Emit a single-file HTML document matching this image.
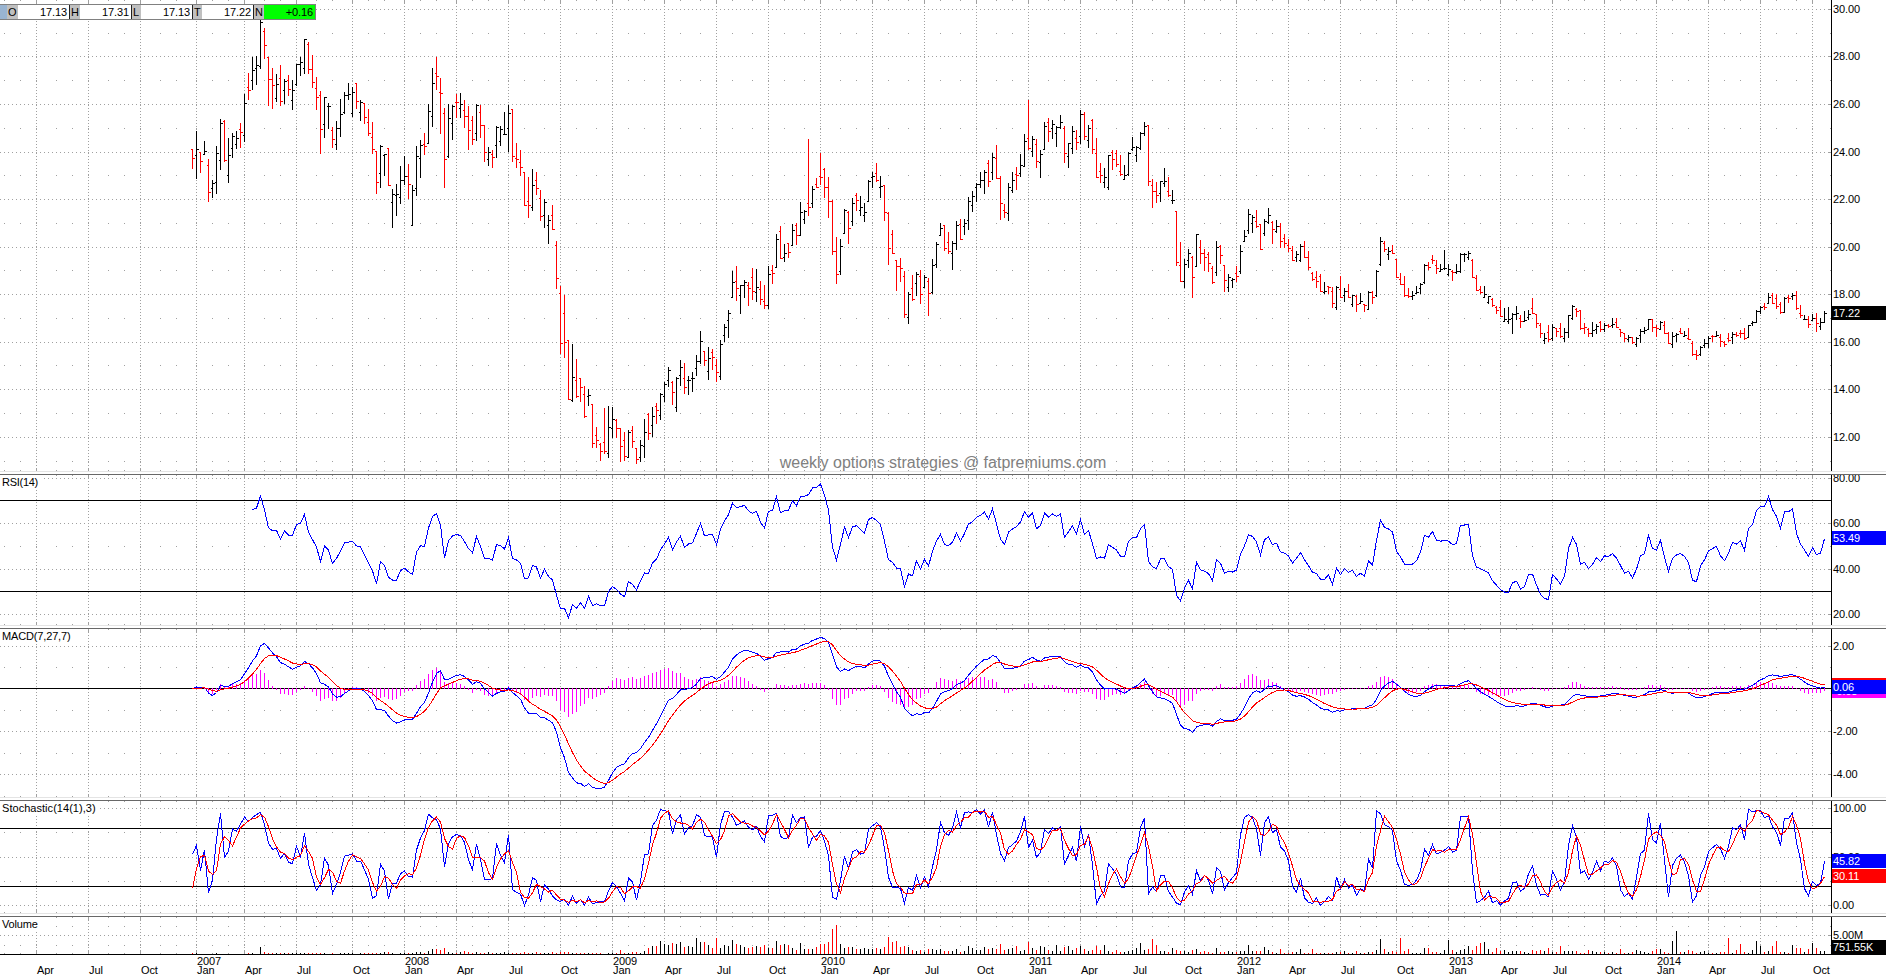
<!DOCTYPE html><html><head><meta charset="utf-8"><title>chart</title><style>
html,body{margin:0;padding:0;background:#fff;}
body{width:1886px;height:975px;overflow:hidden;position:relative;font-family:"Liberation Sans",sans-serif;font-size:11px;color:#000;}
svg{position:absolute;left:0;top:0;}
.t{position:absolute;white-space:nowrap;line-height:13px;height:13px;letter-spacing:-0.1px;}
.w{color:#fff;}
.box{position:absolute;left:1832px;width:54px;height:14px;}
.ttl{position:absolute;left:0;background:#fff;height:14px;line-height:14px;padding-left:2px;padding-right:3px;white-space:nowrap;}
.clip{position:absolute;left:1832px;width:54px;overflow:hidden;}

</style></head><body>
<svg width="1886" height="975" viewBox="0 0 1886 975" shape-rendering="crispEdges">
<line x1="36.5" y1="0" x2="36.5" y2="471" stroke="#a0a0a0" stroke-dasharray="1 2"/>
<path fill="#a0a0a0" d="M36 0h1v3h-1zM36 468h1v3h-1z"/>
<line x1="88.5" y1="0" x2="88.5" y2="471" stroke="#a0a0a0" stroke-dasharray="1 2"/>
<path fill="#a0a0a0" d="M88 0h1v3h-1zM88 468h1v3h-1z"/>
<line x1="140.5" y1="0" x2="140.5" y2="471" stroke="#a0a0a0" stroke-dasharray="1 2"/>
<path fill="#a0a0a0" d="M140 0h1v3h-1zM140 468h1v3h-1z"/>
<line x1="196.5" y1="0" x2="196.5" y2="471" stroke="#a0a0a0" stroke-dasharray="1 2"/>
<path fill="#a0a0a0" d="M196 0h1v3h-1zM196 468h1v3h-1z"/>
<line x1="244.5" y1="0" x2="244.5" y2="471" stroke="#a0a0a0" stroke-dasharray="1 2"/>
<path fill="#a0a0a0" d="M244 0h1v3h-1zM244 468h1v3h-1z"/>
<line x1="296.5" y1="0" x2="296.5" y2="471" stroke="#a0a0a0" stroke-dasharray="1 2"/>
<path fill="#a0a0a0" d="M296 0h1v3h-1zM296 468h1v3h-1z"/>
<line x1="352.5" y1="0" x2="352.5" y2="471" stroke="#a0a0a0" stroke-dasharray="1 2"/>
<path fill="#a0a0a0" d="M352 0h1v3h-1zM352 468h1v3h-1z"/>
<line x1="404.5" y1="0" x2="404.5" y2="471" stroke="#a0a0a0" stroke-dasharray="1 2"/>
<path fill="#a0a0a0" d="M404 0h1v3h-1zM404 468h1v3h-1z"/>
<line x1="456.5" y1="0" x2="456.5" y2="471" stroke="#a0a0a0" stroke-dasharray="1 2"/>
<path fill="#a0a0a0" d="M456 0h1v3h-1zM456 468h1v3h-1z"/>
<line x1="508.5" y1="0" x2="508.5" y2="471" stroke="#a0a0a0" stroke-dasharray="1 2"/>
<path fill="#a0a0a0" d="M508 0h1v3h-1zM508 468h1v3h-1z"/>
<line x1="560.5" y1="0" x2="560.5" y2="471" stroke="#a0a0a0" stroke-dasharray="1 2"/>
<path fill="#a0a0a0" d="M560 0h1v3h-1zM560 468h1v3h-1z"/>
<line x1="612.5" y1="0" x2="612.5" y2="471" stroke="#a0a0a0" stroke-dasharray="1 2"/>
<path fill="#a0a0a0" d="M612 0h1v3h-1zM612 468h1v3h-1z"/>
<line x1="664.5" y1="0" x2="664.5" y2="471" stroke="#a0a0a0" stroke-dasharray="1 2"/>
<path fill="#a0a0a0" d="M664 0h1v3h-1zM664 468h1v3h-1z"/>
<line x1="716.5" y1="0" x2="716.5" y2="471" stroke="#a0a0a0" stroke-dasharray="1 2"/>
<path fill="#a0a0a0" d="M716 0h1v3h-1zM716 468h1v3h-1z"/>
<line x1="768.5" y1="0" x2="768.5" y2="471" stroke="#a0a0a0" stroke-dasharray="1 2"/>
<path fill="#a0a0a0" d="M768 0h1v3h-1zM768 468h1v3h-1z"/>
<line x1="820.5" y1="0" x2="820.5" y2="471" stroke="#a0a0a0" stroke-dasharray="1 2"/>
<path fill="#a0a0a0" d="M820 0h1v3h-1zM820 468h1v3h-1z"/>
<line x1="872.5" y1="0" x2="872.5" y2="471" stroke="#a0a0a0" stroke-dasharray="1 2"/>
<path fill="#a0a0a0" d="M872 0h1v3h-1zM872 468h1v3h-1z"/>
<line x1="924.5" y1="0" x2="924.5" y2="471" stroke="#a0a0a0" stroke-dasharray="1 2"/>
<path fill="#a0a0a0" d="M924 0h1v3h-1zM924 468h1v3h-1z"/>
<line x1="976.5" y1="0" x2="976.5" y2="471" stroke="#a0a0a0" stroke-dasharray="1 2"/>
<path fill="#a0a0a0" d="M976 0h1v3h-1zM976 468h1v3h-1z"/>
<line x1="1028.5" y1="0" x2="1028.5" y2="471" stroke="#a0a0a0" stroke-dasharray="1 2"/>
<path fill="#a0a0a0" d="M1028 0h1v3h-1zM1028 468h1v3h-1z"/>
<line x1="1080.5" y1="0" x2="1080.5" y2="471" stroke="#a0a0a0" stroke-dasharray="1 2"/>
<path fill="#a0a0a0" d="M1080 0h1v3h-1zM1080 468h1v3h-1z"/>
<line x1="1132.5" y1="0" x2="1132.5" y2="471" stroke="#a0a0a0" stroke-dasharray="1 2"/>
<path fill="#a0a0a0" d="M1132 0h1v3h-1zM1132 468h1v3h-1z"/>
<line x1="1184.5" y1="0" x2="1184.5" y2="471" stroke="#a0a0a0" stroke-dasharray="1 2"/>
<path fill="#a0a0a0" d="M1184 0h1v3h-1zM1184 468h1v3h-1z"/>
<line x1="1236.5" y1="0" x2="1236.5" y2="471" stroke="#a0a0a0" stroke-dasharray="1 2"/>
<path fill="#a0a0a0" d="M1236 0h1v3h-1zM1236 468h1v3h-1z"/>
<line x1="1288.5" y1="0" x2="1288.5" y2="471" stroke="#a0a0a0" stroke-dasharray="1 2"/>
<path fill="#a0a0a0" d="M1288 0h1v3h-1zM1288 468h1v3h-1z"/>
<line x1="1340.5" y1="0" x2="1340.5" y2="471" stroke="#a0a0a0" stroke-dasharray="1 2"/>
<path fill="#a0a0a0" d="M1340 0h1v3h-1zM1340 468h1v3h-1z"/>
<line x1="1396.5" y1="0" x2="1396.5" y2="471" stroke="#a0a0a0" stroke-dasharray="1 2"/>
<path fill="#a0a0a0" d="M1396 0h1v3h-1zM1396 468h1v3h-1z"/>
<line x1="1448.5" y1="0" x2="1448.5" y2="471" stroke="#a0a0a0" stroke-dasharray="1 2"/>
<path fill="#a0a0a0" d="M1448 0h1v3h-1zM1448 468h1v3h-1z"/>
<line x1="1500.5" y1="0" x2="1500.5" y2="471" stroke="#a0a0a0" stroke-dasharray="1 2"/>
<path fill="#a0a0a0" d="M1500 0h1v3h-1zM1500 468h1v3h-1z"/>
<line x1="1552.5" y1="0" x2="1552.5" y2="471" stroke="#a0a0a0" stroke-dasharray="1 2"/>
<path fill="#a0a0a0" d="M1552 0h1v3h-1zM1552 468h1v3h-1z"/>
<line x1="1604.5" y1="0" x2="1604.5" y2="471" stroke="#a0a0a0" stroke-dasharray="1 2"/>
<path fill="#a0a0a0" d="M1604 0h1v3h-1zM1604 468h1v3h-1z"/>
<line x1="1656.5" y1="0" x2="1656.5" y2="471" stroke="#a0a0a0" stroke-dasharray="1 2"/>
<path fill="#a0a0a0" d="M1656 0h1v3h-1zM1656 468h1v3h-1z"/>
<line x1="1708.5" y1="0" x2="1708.5" y2="471" stroke="#a0a0a0" stroke-dasharray="1 2"/>
<path fill="#a0a0a0" d="M1708 0h1v3h-1zM1708 468h1v3h-1z"/>
<line x1="1760.5" y1="0" x2="1760.5" y2="471" stroke="#a0a0a0" stroke-dasharray="1 2"/>
<path fill="#a0a0a0" d="M1760 0h1v3h-1zM1760 468h1v3h-1z"/>
<line x1="1812.5" y1="0" x2="1812.5" y2="471" stroke="#a0a0a0" stroke-dasharray="1 2"/>
<path fill="#a0a0a0" d="M1812 0h1v3h-1zM1812 468h1v3h-1zM4 0h1v1h-1zM4 470h1v1h-1zM20 0h1v1h-1zM20 470h1v1h-1zM56 0h1v1h-1zM56 470h1v1h-1zM72 0h1v1h-1zM72 470h1v1h-1zM108 0h1v1h-1zM108 470h1v1h-1zM124 0h1v1h-1zM124 470h1v1h-1zM160 0h1v1h-1zM160 470h1v1h-1zM176 0h1v1h-1zM176 470h1v1h-1zM212 0h1v1h-1zM212 470h1v1h-1zM228 0h1v1h-1zM228 470h1v1h-1zM264 0h1v1h-1zM264 470h1v1h-1zM280 0h1v1h-1zM280 470h1v1h-1zM316 0h1v1h-1zM316 470h1v1h-1zM332 0h1v1h-1zM332 470h1v1h-1zM368 0h1v1h-1zM368 470h1v1h-1zM384 0h1v1h-1zM384 470h1v1h-1zM420 0h1v1h-1zM420 470h1v1h-1zM436 0h1v1h-1zM436 470h1v1h-1zM472 0h1v1h-1zM472 470h1v1h-1zM488 0h1v1h-1zM488 470h1v1h-1zM524 0h1v1h-1zM524 470h1v1h-1zM544 0h1v1h-1zM544 470h1v1h-1zM576 0h1v1h-1zM576 470h1v1h-1zM596 0h1v1h-1zM596 470h1v1h-1zM628 0h1v1h-1zM628 470h1v1h-1zM644 0h1v1h-1zM644 470h1v1h-1zM680 0h1v1h-1zM680 470h1v1h-1zM700 0h1v1h-1zM700 470h1v1h-1zM732 0h1v1h-1zM732 470h1v1h-1zM752 0h1v1h-1zM752 470h1v1h-1zM784 0h1v1h-1zM784 470h1v1h-1zM804 0h1v1h-1zM804 470h1v1h-1zM840 0h1v1h-1zM840 470h1v1h-1zM856 0h1v1h-1zM856 470h1v1h-1zM888 0h1v1h-1zM888 470h1v1h-1zM908 0h1v1h-1zM908 470h1v1h-1zM940 0h1v1h-1zM940 470h1v1h-1zM960 0h1v1h-1zM960 470h1v1h-1zM996 0h1v1h-1zM996 470h1v1h-1zM1012 0h1v1h-1zM1012 470h1v1h-1zM1048 0h1v1h-1zM1048 470h1v1h-1zM1064 0h1v1h-1zM1064 470h1v1h-1zM1096 0h1v1h-1zM1096 470h1v1h-1zM1116 0h1v1h-1zM1116 470h1v1h-1zM1152 0h1v1h-1zM1152 470h1v1h-1zM1168 0h1v1h-1zM1168 470h1v1h-1zM1204 0h1v1h-1zM1204 470h1v1h-1zM1220 0h1v1h-1zM1220 470h1v1h-1zM1256 0h1v1h-1zM1256 470h1v1h-1zM1272 0h1v1h-1zM1272 470h1v1h-1zM1308 0h1v1h-1zM1308 470h1v1h-1zM1324 0h1v1h-1zM1324 470h1v1h-1zM1360 0h1v1h-1zM1360 470h1v1h-1zM1376 0h1v1h-1zM1376 470h1v1h-1zM1412 0h1v1h-1zM1412 470h1v1h-1zM1428 0h1v1h-1zM1428 470h1v1h-1zM1464 0h1v1h-1zM1464 470h1v1h-1zM1480 0h1v1h-1zM1480 470h1v1h-1zM1516 0h1v1h-1zM1516 470h1v1h-1zM1532 0h1v1h-1zM1532 470h1v1h-1zM1568 0h1v1h-1zM1568 470h1v1h-1zM1584 0h1v1h-1zM1584 470h1v1h-1zM1620 0h1v1h-1zM1620 470h1v1h-1zM1636 0h1v1h-1zM1636 470h1v1h-1zM1672 0h1v1h-1zM1672 470h1v1h-1zM1688 0h1v1h-1zM1688 470h1v1h-1zM1724 0h1v1h-1zM1724 470h1v1h-1zM1740 0h1v1h-1zM1740 470h1v1h-1zM1776 0h1v1h-1zM1776 470h1v1h-1zM1796 0h1v1h-1zM1796 470h1v1h-1z"/>
<line x1="36.5" y1="475" x2="36.5" y2="625" stroke="#a0a0a0" stroke-dasharray="1 2"/>
<path fill="#a0a0a0" d="M36 475h1v3h-1zM36 622h1v3h-1z"/>
<line x1="88.5" y1="475" x2="88.5" y2="625" stroke="#a0a0a0" stroke-dasharray="1 2"/>
<path fill="#a0a0a0" d="M88 475h1v3h-1zM88 622h1v3h-1z"/>
<line x1="140.5" y1="475" x2="140.5" y2="625" stroke="#a0a0a0" stroke-dasharray="1 2"/>
<path fill="#a0a0a0" d="M140 475h1v3h-1zM140 622h1v3h-1z"/>
<line x1="196.5" y1="475" x2="196.5" y2="625" stroke="#a0a0a0" stroke-dasharray="1 2"/>
<path fill="#a0a0a0" d="M196 475h1v3h-1zM196 622h1v3h-1z"/>
<line x1="244.5" y1="475" x2="244.5" y2="625" stroke="#a0a0a0" stroke-dasharray="1 2"/>
<path fill="#a0a0a0" d="M244 475h1v3h-1zM244 622h1v3h-1z"/>
<line x1="296.5" y1="475" x2="296.5" y2="625" stroke="#a0a0a0" stroke-dasharray="1 2"/>
<path fill="#a0a0a0" d="M296 475h1v3h-1zM296 622h1v3h-1z"/>
<line x1="352.5" y1="475" x2="352.5" y2="625" stroke="#a0a0a0" stroke-dasharray="1 2"/>
<path fill="#a0a0a0" d="M352 475h1v3h-1zM352 622h1v3h-1z"/>
<line x1="404.5" y1="475" x2="404.5" y2="625" stroke="#a0a0a0" stroke-dasharray="1 2"/>
<path fill="#a0a0a0" d="M404 475h1v3h-1zM404 622h1v3h-1z"/>
<line x1="456.5" y1="475" x2="456.5" y2="625" stroke="#a0a0a0" stroke-dasharray="1 2"/>
<path fill="#a0a0a0" d="M456 475h1v3h-1zM456 622h1v3h-1z"/>
<line x1="508.5" y1="475" x2="508.5" y2="625" stroke="#a0a0a0" stroke-dasharray="1 2"/>
<path fill="#a0a0a0" d="M508 475h1v3h-1zM508 622h1v3h-1z"/>
<line x1="560.5" y1="475" x2="560.5" y2="625" stroke="#a0a0a0" stroke-dasharray="1 2"/>
<path fill="#a0a0a0" d="M560 475h1v3h-1zM560 622h1v3h-1z"/>
<line x1="612.5" y1="475" x2="612.5" y2="625" stroke="#a0a0a0" stroke-dasharray="1 2"/>
<path fill="#a0a0a0" d="M612 475h1v3h-1zM612 622h1v3h-1z"/>
<line x1="664.5" y1="475" x2="664.5" y2="625" stroke="#a0a0a0" stroke-dasharray="1 2"/>
<path fill="#a0a0a0" d="M664 475h1v3h-1zM664 622h1v3h-1z"/>
<line x1="716.5" y1="475" x2="716.5" y2="625" stroke="#a0a0a0" stroke-dasharray="1 2"/>
<path fill="#a0a0a0" d="M716 475h1v3h-1zM716 622h1v3h-1z"/>
<line x1="768.5" y1="475" x2="768.5" y2="625" stroke="#a0a0a0" stroke-dasharray="1 2"/>
<path fill="#a0a0a0" d="M768 475h1v3h-1zM768 622h1v3h-1z"/>
<line x1="820.5" y1="475" x2="820.5" y2="625" stroke="#a0a0a0" stroke-dasharray="1 2"/>
<path fill="#a0a0a0" d="M820 475h1v3h-1zM820 622h1v3h-1z"/>
<line x1="872.5" y1="475" x2="872.5" y2="625" stroke="#a0a0a0" stroke-dasharray="1 2"/>
<path fill="#a0a0a0" d="M872 475h1v3h-1zM872 622h1v3h-1z"/>
<line x1="924.5" y1="475" x2="924.5" y2="625" stroke="#a0a0a0" stroke-dasharray="1 2"/>
<path fill="#a0a0a0" d="M924 475h1v3h-1zM924 622h1v3h-1z"/>
<line x1="976.5" y1="475" x2="976.5" y2="625" stroke="#a0a0a0" stroke-dasharray="1 2"/>
<path fill="#a0a0a0" d="M976 475h1v3h-1zM976 622h1v3h-1z"/>
<line x1="1028.5" y1="475" x2="1028.5" y2="625" stroke="#a0a0a0" stroke-dasharray="1 2"/>
<path fill="#a0a0a0" d="M1028 475h1v3h-1zM1028 622h1v3h-1z"/>
<line x1="1080.5" y1="475" x2="1080.5" y2="625" stroke="#a0a0a0" stroke-dasharray="1 2"/>
<path fill="#a0a0a0" d="M1080 475h1v3h-1zM1080 622h1v3h-1z"/>
<line x1="1132.5" y1="475" x2="1132.5" y2="625" stroke="#a0a0a0" stroke-dasharray="1 2"/>
<path fill="#a0a0a0" d="M1132 475h1v3h-1zM1132 622h1v3h-1z"/>
<line x1="1184.5" y1="475" x2="1184.5" y2="625" stroke="#a0a0a0" stroke-dasharray="1 2"/>
<path fill="#a0a0a0" d="M1184 475h1v3h-1zM1184 622h1v3h-1z"/>
<line x1="1236.5" y1="475" x2="1236.5" y2="625" stroke="#a0a0a0" stroke-dasharray="1 2"/>
<path fill="#a0a0a0" d="M1236 475h1v3h-1zM1236 622h1v3h-1z"/>
<line x1="1288.5" y1="475" x2="1288.5" y2="625" stroke="#a0a0a0" stroke-dasharray="1 2"/>
<path fill="#a0a0a0" d="M1288 475h1v3h-1zM1288 622h1v3h-1z"/>
<line x1="1340.5" y1="475" x2="1340.5" y2="625" stroke="#a0a0a0" stroke-dasharray="1 2"/>
<path fill="#a0a0a0" d="M1340 475h1v3h-1zM1340 622h1v3h-1z"/>
<line x1="1396.5" y1="475" x2="1396.5" y2="625" stroke="#a0a0a0" stroke-dasharray="1 2"/>
<path fill="#a0a0a0" d="M1396 475h1v3h-1zM1396 622h1v3h-1z"/>
<line x1="1448.5" y1="475" x2="1448.5" y2="625" stroke="#a0a0a0" stroke-dasharray="1 2"/>
<path fill="#a0a0a0" d="M1448 475h1v3h-1zM1448 622h1v3h-1z"/>
<line x1="1500.5" y1="475" x2="1500.5" y2="625" stroke="#a0a0a0" stroke-dasharray="1 2"/>
<path fill="#a0a0a0" d="M1500 475h1v3h-1zM1500 622h1v3h-1z"/>
<line x1="1552.5" y1="475" x2="1552.5" y2="625" stroke="#a0a0a0" stroke-dasharray="1 2"/>
<path fill="#a0a0a0" d="M1552 475h1v3h-1zM1552 622h1v3h-1z"/>
<line x1="1604.5" y1="475" x2="1604.5" y2="625" stroke="#a0a0a0" stroke-dasharray="1 2"/>
<path fill="#a0a0a0" d="M1604 475h1v3h-1zM1604 622h1v3h-1z"/>
<line x1="1656.5" y1="475" x2="1656.5" y2="625" stroke="#a0a0a0" stroke-dasharray="1 2"/>
<path fill="#a0a0a0" d="M1656 475h1v3h-1zM1656 622h1v3h-1z"/>
<line x1="1708.5" y1="475" x2="1708.5" y2="625" stroke="#a0a0a0" stroke-dasharray="1 2"/>
<path fill="#a0a0a0" d="M1708 475h1v3h-1zM1708 622h1v3h-1z"/>
<line x1="1760.5" y1="475" x2="1760.5" y2="625" stroke="#a0a0a0" stroke-dasharray="1 2"/>
<path fill="#a0a0a0" d="M1760 475h1v3h-1zM1760 622h1v3h-1z"/>
<line x1="1812.5" y1="475" x2="1812.5" y2="625" stroke="#a0a0a0" stroke-dasharray="1 2"/>
<path fill="#a0a0a0" d="M1812 475h1v3h-1zM1812 622h1v3h-1zM4 475h1v1h-1zM4 624h1v1h-1zM20 475h1v1h-1zM20 624h1v1h-1zM56 475h1v1h-1zM56 624h1v1h-1zM72 475h1v1h-1zM72 624h1v1h-1zM108 475h1v1h-1zM108 624h1v1h-1zM124 475h1v1h-1zM124 624h1v1h-1zM160 475h1v1h-1zM160 624h1v1h-1zM176 475h1v1h-1zM176 624h1v1h-1zM212 475h1v1h-1zM212 624h1v1h-1zM228 475h1v1h-1zM228 624h1v1h-1zM264 475h1v1h-1zM264 624h1v1h-1zM280 475h1v1h-1zM280 624h1v1h-1zM316 475h1v1h-1zM316 624h1v1h-1zM332 475h1v1h-1zM332 624h1v1h-1zM368 475h1v1h-1zM368 624h1v1h-1zM384 475h1v1h-1zM384 624h1v1h-1zM420 475h1v1h-1zM420 624h1v1h-1zM436 475h1v1h-1zM436 624h1v1h-1zM472 475h1v1h-1zM472 624h1v1h-1zM488 475h1v1h-1zM488 624h1v1h-1zM524 475h1v1h-1zM524 624h1v1h-1zM544 475h1v1h-1zM544 624h1v1h-1zM576 475h1v1h-1zM576 624h1v1h-1zM596 475h1v1h-1zM596 624h1v1h-1zM628 475h1v1h-1zM628 624h1v1h-1zM644 475h1v1h-1zM644 624h1v1h-1zM680 475h1v1h-1zM680 624h1v1h-1zM700 475h1v1h-1zM700 624h1v1h-1zM732 475h1v1h-1zM732 624h1v1h-1zM752 475h1v1h-1zM752 624h1v1h-1zM784 475h1v1h-1zM784 624h1v1h-1zM804 475h1v1h-1zM804 624h1v1h-1zM840 475h1v1h-1zM840 624h1v1h-1zM856 475h1v1h-1zM856 624h1v1h-1zM888 475h1v1h-1zM888 624h1v1h-1zM908 475h1v1h-1zM908 624h1v1h-1zM940 475h1v1h-1zM940 624h1v1h-1zM960 475h1v1h-1zM960 624h1v1h-1zM996 475h1v1h-1zM996 624h1v1h-1zM1012 475h1v1h-1zM1012 624h1v1h-1zM1048 475h1v1h-1zM1048 624h1v1h-1zM1064 475h1v1h-1zM1064 624h1v1h-1zM1096 475h1v1h-1zM1096 624h1v1h-1zM1116 475h1v1h-1zM1116 624h1v1h-1zM1152 475h1v1h-1zM1152 624h1v1h-1zM1168 475h1v1h-1zM1168 624h1v1h-1zM1204 475h1v1h-1zM1204 624h1v1h-1zM1220 475h1v1h-1zM1220 624h1v1h-1zM1256 475h1v1h-1zM1256 624h1v1h-1zM1272 475h1v1h-1zM1272 624h1v1h-1zM1308 475h1v1h-1zM1308 624h1v1h-1zM1324 475h1v1h-1zM1324 624h1v1h-1zM1360 475h1v1h-1zM1360 624h1v1h-1zM1376 475h1v1h-1zM1376 624h1v1h-1zM1412 475h1v1h-1zM1412 624h1v1h-1zM1428 475h1v1h-1zM1428 624h1v1h-1zM1464 475h1v1h-1zM1464 624h1v1h-1zM1480 475h1v1h-1zM1480 624h1v1h-1zM1516 475h1v1h-1zM1516 624h1v1h-1zM1532 475h1v1h-1zM1532 624h1v1h-1zM1568 475h1v1h-1zM1568 624h1v1h-1zM1584 475h1v1h-1zM1584 624h1v1h-1zM1620 475h1v1h-1zM1620 624h1v1h-1zM1636 475h1v1h-1zM1636 624h1v1h-1zM1672 475h1v1h-1zM1672 624h1v1h-1zM1688 475h1v1h-1zM1688 624h1v1h-1zM1724 475h1v1h-1zM1724 624h1v1h-1zM1740 475h1v1h-1zM1740 624h1v1h-1zM1776 475h1v1h-1zM1776 624h1v1h-1zM1796 475h1v1h-1zM1796 624h1v1h-1z"/>
<line x1="36.5" y1="629" x2="36.5" y2="797" stroke="#a0a0a0" stroke-dasharray="1 2"/>
<path fill="#a0a0a0" d="M36 629h1v3h-1zM36 794h1v3h-1z"/>
<line x1="88.5" y1="629" x2="88.5" y2="797" stroke="#a0a0a0" stroke-dasharray="1 2"/>
<path fill="#a0a0a0" d="M88 629h1v3h-1zM88 794h1v3h-1z"/>
<line x1="140.5" y1="629" x2="140.5" y2="797" stroke="#a0a0a0" stroke-dasharray="1 2"/>
<path fill="#a0a0a0" d="M140 629h1v3h-1zM140 794h1v3h-1z"/>
<line x1="196.5" y1="629" x2="196.5" y2="797" stroke="#a0a0a0" stroke-dasharray="1 2"/>
<path fill="#a0a0a0" d="M196 629h1v3h-1zM196 794h1v3h-1z"/>
<line x1="244.5" y1="629" x2="244.5" y2="797" stroke="#a0a0a0" stroke-dasharray="1 2"/>
<path fill="#a0a0a0" d="M244 629h1v3h-1zM244 794h1v3h-1z"/>
<line x1="296.5" y1="629" x2="296.5" y2="797" stroke="#a0a0a0" stroke-dasharray="1 2"/>
<path fill="#a0a0a0" d="M296 629h1v3h-1zM296 794h1v3h-1z"/>
<line x1="352.5" y1="629" x2="352.5" y2="797" stroke="#a0a0a0" stroke-dasharray="1 2"/>
<path fill="#a0a0a0" d="M352 629h1v3h-1zM352 794h1v3h-1z"/>
<line x1="404.5" y1="629" x2="404.5" y2="797" stroke="#a0a0a0" stroke-dasharray="1 2"/>
<path fill="#a0a0a0" d="M404 629h1v3h-1zM404 794h1v3h-1z"/>
<line x1="456.5" y1="629" x2="456.5" y2="797" stroke="#a0a0a0" stroke-dasharray="1 2"/>
<path fill="#a0a0a0" d="M456 629h1v3h-1zM456 794h1v3h-1z"/>
<line x1="508.5" y1="629" x2="508.5" y2="797" stroke="#a0a0a0" stroke-dasharray="1 2"/>
<path fill="#a0a0a0" d="M508 629h1v3h-1zM508 794h1v3h-1z"/>
<line x1="560.5" y1="629" x2="560.5" y2="797" stroke="#a0a0a0" stroke-dasharray="1 2"/>
<path fill="#a0a0a0" d="M560 629h1v3h-1zM560 794h1v3h-1z"/>
<line x1="612.5" y1="629" x2="612.5" y2="797" stroke="#a0a0a0" stroke-dasharray="1 2"/>
<path fill="#a0a0a0" d="M612 629h1v3h-1zM612 794h1v3h-1z"/>
<line x1="664.5" y1="629" x2="664.5" y2="797" stroke="#a0a0a0" stroke-dasharray="1 2"/>
<path fill="#a0a0a0" d="M664 629h1v3h-1zM664 794h1v3h-1z"/>
<line x1="716.5" y1="629" x2="716.5" y2="797" stroke="#a0a0a0" stroke-dasharray="1 2"/>
<path fill="#a0a0a0" d="M716 629h1v3h-1zM716 794h1v3h-1z"/>
<line x1="768.5" y1="629" x2="768.5" y2="797" stroke="#a0a0a0" stroke-dasharray="1 2"/>
<path fill="#a0a0a0" d="M768 629h1v3h-1zM768 794h1v3h-1z"/>
<line x1="820.5" y1="629" x2="820.5" y2="797" stroke="#a0a0a0" stroke-dasharray="1 2"/>
<path fill="#a0a0a0" d="M820 629h1v3h-1zM820 794h1v3h-1z"/>
<line x1="872.5" y1="629" x2="872.5" y2="797" stroke="#a0a0a0" stroke-dasharray="1 2"/>
<path fill="#a0a0a0" d="M872 629h1v3h-1zM872 794h1v3h-1z"/>
<line x1="924.5" y1="629" x2="924.5" y2="797" stroke="#a0a0a0" stroke-dasharray="1 2"/>
<path fill="#a0a0a0" d="M924 629h1v3h-1zM924 794h1v3h-1z"/>
<line x1="976.5" y1="629" x2="976.5" y2="797" stroke="#a0a0a0" stroke-dasharray="1 2"/>
<path fill="#a0a0a0" d="M976 629h1v3h-1zM976 794h1v3h-1z"/>
<line x1="1028.5" y1="629" x2="1028.5" y2="797" stroke="#a0a0a0" stroke-dasharray="1 2"/>
<path fill="#a0a0a0" d="M1028 629h1v3h-1zM1028 794h1v3h-1z"/>
<line x1="1080.5" y1="629" x2="1080.5" y2="797" stroke="#a0a0a0" stroke-dasharray="1 2"/>
<path fill="#a0a0a0" d="M1080 629h1v3h-1zM1080 794h1v3h-1z"/>
<line x1="1132.5" y1="629" x2="1132.5" y2="797" stroke="#a0a0a0" stroke-dasharray="1 2"/>
<path fill="#a0a0a0" d="M1132 629h1v3h-1zM1132 794h1v3h-1z"/>
<line x1="1184.5" y1="629" x2="1184.5" y2="797" stroke="#a0a0a0" stroke-dasharray="1 2"/>
<path fill="#a0a0a0" d="M1184 629h1v3h-1zM1184 794h1v3h-1z"/>
<line x1="1236.5" y1="629" x2="1236.5" y2="797" stroke="#a0a0a0" stroke-dasharray="1 2"/>
<path fill="#a0a0a0" d="M1236 629h1v3h-1zM1236 794h1v3h-1z"/>
<line x1="1288.5" y1="629" x2="1288.5" y2="797" stroke="#a0a0a0" stroke-dasharray="1 2"/>
<path fill="#a0a0a0" d="M1288 629h1v3h-1zM1288 794h1v3h-1z"/>
<line x1="1340.5" y1="629" x2="1340.5" y2="797" stroke="#a0a0a0" stroke-dasharray="1 2"/>
<path fill="#a0a0a0" d="M1340 629h1v3h-1zM1340 794h1v3h-1z"/>
<line x1="1396.5" y1="629" x2="1396.5" y2="797" stroke="#a0a0a0" stroke-dasharray="1 2"/>
<path fill="#a0a0a0" d="M1396 629h1v3h-1zM1396 794h1v3h-1z"/>
<line x1="1448.5" y1="629" x2="1448.5" y2="797" stroke="#a0a0a0" stroke-dasharray="1 2"/>
<path fill="#a0a0a0" d="M1448 629h1v3h-1zM1448 794h1v3h-1z"/>
<line x1="1500.5" y1="629" x2="1500.5" y2="797" stroke="#a0a0a0" stroke-dasharray="1 2"/>
<path fill="#a0a0a0" d="M1500 629h1v3h-1zM1500 794h1v3h-1z"/>
<line x1="1552.5" y1="629" x2="1552.5" y2="797" stroke="#a0a0a0" stroke-dasharray="1 2"/>
<path fill="#a0a0a0" d="M1552 629h1v3h-1zM1552 794h1v3h-1z"/>
<line x1="1604.5" y1="629" x2="1604.5" y2="797" stroke="#a0a0a0" stroke-dasharray="1 2"/>
<path fill="#a0a0a0" d="M1604 629h1v3h-1zM1604 794h1v3h-1z"/>
<line x1="1656.5" y1="629" x2="1656.5" y2="797" stroke="#a0a0a0" stroke-dasharray="1 2"/>
<path fill="#a0a0a0" d="M1656 629h1v3h-1zM1656 794h1v3h-1z"/>
<line x1="1708.5" y1="629" x2="1708.5" y2="797" stroke="#a0a0a0" stroke-dasharray="1 2"/>
<path fill="#a0a0a0" d="M1708 629h1v3h-1zM1708 794h1v3h-1z"/>
<line x1="1760.5" y1="629" x2="1760.5" y2="797" stroke="#a0a0a0" stroke-dasharray="1 2"/>
<path fill="#a0a0a0" d="M1760 629h1v3h-1zM1760 794h1v3h-1z"/>
<line x1="1812.5" y1="629" x2="1812.5" y2="797" stroke="#a0a0a0" stroke-dasharray="1 2"/>
<path fill="#a0a0a0" d="M1812 629h1v3h-1zM1812 794h1v3h-1zM4 629h1v1h-1zM4 796h1v1h-1zM20 629h1v1h-1zM20 796h1v1h-1zM56 629h1v1h-1zM56 796h1v1h-1zM72 629h1v1h-1zM72 796h1v1h-1zM108 629h1v1h-1zM108 796h1v1h-1zM124 629h1v1h-1zM124 796h1v1h-1zM160 629h1v1h-1zM160 796h1v1h-1zM176 629h1v1h-1zM176 796h1v1h-1zM212 629h1v1h-1zM212 796h1v1h-1zM228 629h1v1h-1zM228 796h1v1h-1zM264 629h1v1h-1zM264 796h1v1h-1zM280 629h1v1h-1zM280 796h1v1h-1zM316 629h1v1h-1zM316 796h1v1h-1zM332 629h1v1h-1zM332 796h1v1h-1zM368 629h1v1h-1zM368 796h1v1h-1zM384 629h1v1h-1zM384 796h1v1h-1zM420 629h1v1h-1zM420 796h1v1h-1zM436 629h1v1h-1zM436 796h1v1h-1zM472 629h1v1h-1zM472 796h1v1h-1zM488 629h1v1h-1zM488 796h1v1h-1zM524 629h1v1h-1zM524 796h1v1h-1zM544 629h1v1h-1zM544 796h1v1h-1zM576 629h1v1h-1zM576 796h1v1h-1zM596 629h1v1h-1zM596 796h1v1h-1zM628 629h1v1h-1zM628 796h1v1h-1zM644 629h1v1h-1zM644 796h1v1h-1zM680 629h1v1h-1zM680 796h1v1h-1zM700 629h1v1h-1zM700 796h1v1h-1zM732 629h1v1h-1zM732 796h1v1h-1zM752 629h1v1h-1zM752 796h1v1h-1zM784 629h1v1h-1zM784 796h1v1h-1zM804 629h1v1h-1zM804 796h1v1h-1zM840 629h1v1h-1zM840 796h1v1h-1zM856 629h1v1h-1zM856 796h1v1h-1zM888 629h1v1h-1zM888 796h1v1h-1zM908 629h1v1h-1zM908 796h1v1h-1zM940 629h1v1h-1zM940 796h1v1h-1zM960 629h1v1h-1zM960 796h1v1h-1zM996 629h1v1h-1zM996 796h1v1h-1zM1012 629h1v1h-1zM1012 796h1v1h-1zM1048 629h1v1h-1zM1048 796h1v1h-1zM1064 629h1v1h-1zM1064 796h1v1h-1zM1096 629h1v1h-1zM1096 796h1v1h-1zM1116 629h1v1h-1zM1116 796h1v1h-1zM1152 629h1v1h-1zM1152 796h1v1h-1zM1168 629h1v1h-1zM1168 796h1v1h-1zM1204 629h1v1h-1zM1204 796h1v1h-1zM1220 629h1v1h-1zM1220 796h1v1h-1zM1256 629h1v1h-1zM1256 796h1v1h-1zM1272 629h1v1h-1zM1272 796h1v1h-1zM1308 629h1v1h-1zM1308 796h1v1h-1zM1324 629h1v1h-1zM1324 796h1v1h-1zM1360 629h1v1h-1zM1360 796h1v1h-1zM1376 629h1v1h-1zM1376 796h1v1h-1zM1412 629h1v1h-1zM1412 796h1v1h-1zM1428 629h1v1h-1zM1428 796h1v1h-1zM1464 629h1v1h-1zM1464 796h1v1h-1zM1480 629h1v1h-1zM1480 796h1v1h-1zM1516 629h1v1h-1zM1516 796h1v1h-1zM1532 629h1v1h-1zM1532 796h1v1h-1zM1568 629h1v1h-1zM1568 796h1v1h-1zM1584 629h1v1h-1zM1584 796h1v1h-1zM1620 629h1v1h-1zM1620 796h1v1h-1zM1636 629h1v1h-1zM1636 796h1v1h-1zM1672 629h1v1h-1zM1672 796h1v1h-1zM1688 629h1v1h-1zM1688 796h1v1h-1zM1724 629h1v1h-1zM1724 796h1v1h-1zM1740 629h1v1h-1zM1740 796h1v1h-1zM1776 629h1v1h-1zM1776 796h1v1h-1zM1796 629h1v1h-1zM1796 796h1v1h-1z"/>
<line x1="36.5" y1="801" x2="36.5" y2="913" stroke="#a0a0a0" stroke-dasharray="1 2"/>
<path fill="#a0a0a0" d="M36 801h1v3h-1zM36 910h1v3h-1z"/>
<line x1="88.5" y1="801" x2="88.5" y2="913" stroke="#a0a0a0" stroke-dasharray="1 2"/>
<path fill="#a0a0a0" d="M88 801h1v3h-1zM88 910h1v3h-1z"/>
<line x1="140.5" y1="801" x2="140.5" y2="913" stroke="#a0a0a0" stroke-dasharray="1 2"/>
<path fill="#a0a0a0" d="M140 801h1v3h-1zM140 910h1v3h-1z"/>
<line x1="196.5" y1="801" x2="196.5" y2="913" stroke="#a0a0a0" stroke-dasharray="1 2"/>
<path fill="#a0a0a0" d="M196 801h1v3h-1zM196 910h1v3h-1z"/>
<line x1="244.5" y1="801" x2="244.5" y2="913" stroke="#a0a0a0" stroke-dasharray="1 2"/>
<path fill="#a0a0a0" d="M244 801h1v3h-1zM244 910h1v3h-1z"/>
<line x1="296.5" y1="801" x2="296.5" y2="913" stroke="#a0a0a0" stroke-dasharray="1 2"/>
<path fill="#a0a0a0" d="M296 801h1v3h-1zM296 910h1v3h-1z"/>
<line x1="352.5" y1="801" x2="352.5" y2="913" stroke="#a0a0a0" stroke-dasharray="1 2"/>
<path fill="#a0a0a0" d="M352 801h1v3h-1zM352 910h1v3h-1z"/>
<line x1="404.5" y1="801" x2="404.5" y2="913" stroke="#a0a0a0" stroke-dasharray="1 2"/>
<path fill="#a0a0a0" d="M404 801h1v3h-1zM404 910h1v3h-1z"/>
<line x1="456.5" y1="801" x2="456.5" y2="913" stroke="#a0a0a0" stroke-dasharray="1 2"/>
<path fill="#a0a0a0" d="M456 801h1v3h-1zM456 910h1v3h-1z"/>
<line x1="508.5" y1="801" x2="508.5" y2="913" stroke="#a0a0a0" stroke-dasharray="1 2"/>
<path fill="#a0a0a0" d="M508 801h1v3h-1zM508 910h1v3h-1z"/>
<line x1="560.5" y1="801" x2="560.5" y2="913" stroke="#a0a0a0" stroke-dasharray="1 2"/>
<path fill="#a0a0a0" d="M560 801h1v3h-1zM560 910h1v3h-1z"/>
<line x1="612.5" y1="801" x2="612.5" y2="913" stroke="#a0a0a0" stroke-dasharray="1 2"/>
<path fill="#a0a0a0" d="M612 801h1v3h-1zM612 910h1v3h-1z"/>
<line x1="664.5" y1="801" x2="664.5" y2="913" stroke="#a0a0a0" stroke-dasharray="1 2"/>
<path fill="#a0a0a0" d="M664 801h1v3h-1zM664 910h1v3h-1z"/>
<line x1="716.5" y1="801" x2="716.5" y2="913" stroke="#a0a0a0" stroke-dasharray="1 2"/>
<path fill="#a0a0a0" d="M716 801h1v3h-1zM716 910h1v3h-1z"/>
<line x1="768.5" y1="801" x2="768.5" y2="913" stroke="#a0a0a0" stroke-dasharray="1 2"/>
<path fill="#a0a0a0" d="M768 801h1v3h-1zM768 910h1v3h-1z"/>
<line x1="820.5" y1="801" x2="820.5" y2="913" stroke="#a0a0a0" stroke-dasharray="1 2"/>
<path fill="#a0a0a0" d="M820 801h1v3h-1zM820 910h1v3h-1z"/>
<line x1="872.5" y1="801" x2="872.5" y2="913" stroke="#a0a0a0" stroke-dasharray="1 2"/>
<path fill="#a0a0a0" d="M872 801h1v3h-1zM872 910h1v3h-1z"/>
<line x1="924.5" y1="801" x2="924.5" y2="913" stroke="#a0a0a0" stroke-dasharray="1 2"/>
<path fill="#a0a0a0" d="M924 801h1v3h-1zM924 910h1v3h-1z"/>
<line x1="976.5" y1="801" x2="976.5" y2="913" stroke="#a0a0a0" stroke-dasharray="1 2"/>
<path fill="#a0a0a0" d="M976 801h1v3h-1zM976 910h1v3h-1z"/>
<line x1="1028.5" y1="801" x2="1028.5" y2="913" stroke="#a0a0a0" stroke-dasharray="1 2"/>
<path fill="#a0a0a0" d="M1028 801h1v3h-1zM1028 910h1v3h-1z"/>
<line x1="1080.5" y1="801" x2="1080.5" y2="913" stroke="#a0a0a0" stroke-dasharray="1 2"/>
<path fill="#a0a0a0" d="M1080 801h1v3h-1zM1080 910h1v3h-1z"/>
<line x1="1132.5" y1="801" x2="1132.5" y2="913" stroke="#a0a0a0" stroke-dasharray="1 2"/>
<path fill="#a0a0a0" d="M1132 801h1v3h-1zM1132 910h1v3h-1z"/>
<line x1="1184.5" y1="801" x2="1184.5" y2="913" stroke="#a0a0a0" stroke-dasharray="1 2"/>
<path fill="#a0a0a0" d="M1184 801h1v3h-1zM1184 910h1v3h-1z"/>
<line x1="1236.5" y1="801" x2="1236.5" y2="913" stroke="#a0a0a0" stroke-dasharray="1 2"/>
<path fill="#a0a0a0" d="M1236 801h1v3h-1zM1236 910h1v3h-1z"/>
<line x1="1288.5" y1="801" x2="1288.5" y2="913" stroke="#a0a0a0" stroke-dasharray="1 2"/>
<path fill="#a0a0a0" d="M1288 801h1v3h-1zM1288 910h1v3h-1z"/>
<line x1="1340.5" y1="801" x2="1340.5" y2="913" stroke="#a0a0a0" stroke-dasharray="1 2"/>
<path fill="#a0a0a0" d="M1340 801h1v3h-1zM1340 910h1v3h-1z"/>
<line x1="1396.5" y1="801" x2="1396.5" y2="913" stroke="#a0a0a0" stroke-dasharray="1 2"/>
<path fill="#a0a0a0" d="M1396 801h1v3h-1zM1396 910h1v3h-1z"/>
<line x1="1448.5" y1="801" x2="1448.5" y2="913" stroke="#a0a0a0" stroke-dasharray="1 2"/>
<path fill="#a0a0a0" d="M1448 801h1v3h-1zM1448 910h1v3h-1z"/>
<line x1="1500.5" y1="801" x2="1500.5" y2="913" stroke="#a0a0a0" stroke-dasharray="1 2"/>
<path fill="#a0a0a0" d="M1500 801h1v3h-1zM1500 910h1v3h-1z"/>
<line x1="1552.5" y1="801" x2="1552.5" y2="913" stroke="#a0a0a0" stroke-dasharray="1 2"/>
<path fill="#a0a0a0" d="M1552 801h1v3h-1zM1552 910h1v3h-1z"/>
<line x1="1604.5" y1="801" x2="1604.5" y2="913" stroke="#a0a0a0" stroke-dasharray="1 2"/>
<path fill="#a0a0a0" d="M1604 801h1v3h-1zM1604 910h1v3h-1z"/>
<line x1="1656.5" y1="801" x2="1656.5" y2="913" stroke="#a0a0a0" stroke-dasharray="1 2"/>
<path fill="#a0a0a0" d="M1656 801h1v3h-1zM1656 910h1v3h-1z"/>
<line x1="1708.5" y1="801" x2="1708.5" y2="913" stroke="#a0a0a0" stroke-dasharray="1 2"/>
<path fill="#a0a0a0" d="M1708 801h1v3h-1zM1708 910h1v3h-1z"/>
<line x1="1760.5" y1="801" x2="1760.5" y2="913" stroke="#a0a0a0" stroke-dasharray="1 2"/>
<path fill="#a0a0a0" d="M1760 801h1v3h-1zM1760 910h1v3h-1z"/>
<line x1="1812.5" y1="801" x2="1812.5" y2="913" stroke="#a0a0a0" stroke-dasharray="1 2"/>
<path fill="#a0a0a0" d="M1812 801h1v3h-1zM1812 910h1v3h-1zM4 801h1v1h-1zM4 912h1v1h-1zM20 801h1v1h-1zM20 912h1v1h-1zM56 801h1v1h-1zM56 912h1v1h-1zM72 801h1v1h-1zM72 912h1v1h-1zM108 801h1v1h-1zM108 912h1v1h-1zM124 801h1v1h-1zM124 912h1v1h-1zM160 801h1v1h-1zM160 912h1v1h-1zM176 801h1v1h-1zM176 912h1v1h-1zM212 801h1v1h-1zM212 912h1v1h-1zM228 801h1v1h-1zM228 912h1v1h-1zM264 801h1v1h-1zM264 912h1v1h-1zM280 801h1v1h-1zM280 912h1v1h-1zM316 801h1v1h-1zM316 912h1v1h-1zM332 801h1v1h-1zM332 912h1v1h-1zM368 801h1v1h-1zM368 912h1v1h-1zM384 801h1v1h-1zM384 912h1v1h-1zM420 801h1v1h-1zM420 912h1v1h-1zM436 801h1v1h-1zM436 912h1v1h-1zM472 801h1v1h-1zM472 912h1v1h-1zM488 801h1v1h-1zM488 912h1v1h-1zM524 801h1v1h-1zM524 912h1v1h-1zM544 801h1v1h-1zM544 912h1v1h-1zM576 801h1v1h-1zM576 912h1v1h-1zM596 801h1v1h-1zM596 912h1v1h-1zM628 801h1v1h-1zM628 912h1v1h-1zM644 801h1v1h-1zM644 912h1v1h-1zM680 801h1v1h-1zM680 912h1v1h-1zM700 801h1v1h-1zM700 912h1v1h-1zM732 801h1v1h-1zM732 912h1v1h-1zM752 801h1v1h-1zM752 912h1v1h-1zM784 801h1v1h-1zM784 912h1v1h-1zM804 801h1v1h-1zM804 912h1v1h-1zM840 801h1v1h-1zM840 912h1v1h-1zM856 801h1v1h-1zM856 912h1v1h-1zM888 801h1v1h-1zM888 912h1v1h-1zM908 801h1v1h-1zM908 912h1v1h-1zM940 801h1v1h-1zM940 912h1v1h-1zM960 801h1v1h-1zM960 912h1v1h-1zM996 801h1v1h-1zM996 912h1v1h-1zM1012 801h1v1h-1zM1012 912h1v1h-1zM1048 801h1v1h-1zM1048 912h1v1h-1zM1064 801h1v1h-1zM1064 912h1v1h-1zM1096 801h1v1h-1zM1096 912h1v1h-1zM1116 801h1v1h-1zM1116 912h1v1h-1zM1152 801h1v1h-1zM1152 912h1v1h-1zM1168 801h1v1h-1zM1168 912h1v1h-1zM1204 801h1v1h-1zM1204 912h1v1h-1zM1220 801h1v1h-1zM1220 912h1v1h-1zM1256 801h1v1h-1zM1256 912h1v1h-1zM1272 801h1v1h-1zM1272 912h1v1h-1zM1308 801h1v1h-1zM1308 912h1v1h-1zM1324 801h1v1h-1zM1324 912h1v1h-1zM1360 801h1v1h-1zM1360 912h1v1h-1zM1376 801h1v1h-1zM1376 912h1v1h-1zM1412 801h1v1h-1zM1412 912h1v1h-1zM1428 801h1v1h-1zM1428 912h1v1h-1zM1464 801h1v1h-1zM1464 912h1v1h-1zM1480 801h1v1h-1zM1480 912h1v1h-1zM1516 801h1v1h-1zM1516 912h1v1h-1zM1532 801h1v1h-1zM1532 912h1v1h-1zM1568 801h1v1h-1zM1568 912h1v1h-1zM1584 801h1v1h-1zM1584 912h1v1h-1zM1620 801h1v1h-1zM1620 912h1v1h-1zM1636 801h1v1h-1zM1636 912h1v1h-1zM1672 801h1v1h-1zM1672 912h1v1h-1zM1688 801h1v1h-1zM1688 912h1v1h-1zM1724 801h1v1h-1zM1724 912h1v1h-1zM1740 801h1v1h-1zM1740 912h1v1h-1zM1776 801h1v1h-1zM1776 912h1v1h-1zM1796 801h1v1h-1zM1796 912h1v1h-1z"/>
<line x1="36.5" y1="917" x2="36.5" y2="954" stroke="#a0a0a0" stroke-dasharray="1 2"/>
<path fill="#a0a0a0" d="M36 917h1v3h-1zM36 951h1v3h-1z"/>
<line x1="88.5" y1="917" x2="88.5" y2="954" stroke="#a0a0a0" stroke-dasharray="1 2"/>
<path fill="#a0a0a0" d="M88 917h1v3h-1zM88 951h1v3h-1z"/>
<line x1="140.5" y1="917" x2="140.5" y2="954" stroke="#a0a0a0" stroke-dasharray="1 2"/>
<path fill="#a0a0a0" d="M140 917h1v3h-1zM140 951h1v3h-1z"/>
<line x1="196.5" y1="917" x2="196.5" y2="954" stroke="#a0a0a0" stroke-dasharray="1 2"/>
<path fill="#a0a0a0" d="M196 917h1v3h-1zM196 951h1v3h-1z"/>
<line x1="244.5" y1="917" x2="244.5" y2="954" stroke="#a0a0a0" stroke-dasharray="1 2"/>
<path fill="#a0a0a0" d="M244 917h1v3h-1zM244 951h1v3h-1z"/>
<line x1="296.5" y1="917" x2="296.5" y2="954" stroke="#a0a0a0" stroke-dasharray="1 2"/>
<path fill="#a0a0a0" d="M296 917h1v3h-1zM296 951h1v3h-1z"/>
<line x1="352.5" y1="917" x2="352.5" y2="954" stroke="#a0a0a0" stroke-dasharray="1 2"/>
<path fill="#a0a0a0" d="M352 917h1v3h-1zM352 951h1v3h-1z"/>
<line x1="404.5" y1="917" x2="404.5" y2="954" stroke="#a0a0a0" stroke-dasharray="1 2"/>
<path fill="#a0a0a0" d="M404 917h1v3h-1zM404 951h1v3h-1z"/>
<line x1="456.5" y1="917" x2="456.5" y2="954" stroke="#a0a0a0" stroke-dasharray="1 2"/>
<path fill="#a0a0a0" d="M456 917h1v3h-1zM456 951h1v3h-1z"/>
<line x1="508.5" y1="917" x2="508.5" y2="954" stroke="#a0a0a0" stroke-dasharray="1 2"/>
<path fill="#a0a0a0" d="M508 917h1v3h-1zM508 951h1v3h-1z"/>
<line x1="560.5" y1="917" x2="560.5" y2="954" stroke="#a0a0a0" stroke-dasharray="1 2"/>
<path fill="#a0a0a0" d="M560 917h1v3h-1zM560 951h1v3h-1z"/>
<line x1="612.5" y1="917" x2="612.5" y2="954" stroke="#a0a0a0" stroke-dasharray="1 2"/>
<path fill="#a0a0a0" d="M612 917h1v3h-1zM612 951h1v3h-1z"/>
<line x1="664.5" y1="917" x2="664.5" y2="954" stroke="#a0a0a0" stroke-dasharray="1 2"/>
<path fill="#a0a0a0" d="M664 917h1v3h-1zM664 951h1v3h-1z"/>
<line x1="716.5" y1="917" x2="716.5" y2="954" stroke="#a0a0a0" stroke-dasharray="1 2"/>
<path fill="#a0a0a0" d="M716 917h1v3h-1zM716 951h1v3h-1z"/>
<line x1="768.5" y1="917" x2="768.5" y2="954" stroke="#a0a0a0" stroke-dasharray="1 2"/>
<path fill="#a0a0a0" d="M768 917h1v3h-1zM768 951h1v3h-1z"/>
<line x1="820.5" y1="917" x2="820.5" y2="954" stroke="#a0a0a0" stroke-dasharray="1 2"/>
<path fill="#a0a0a0" d="M820 917h1v3h-1zM820 951h1v3h-1z"/>
<line x1="872.5" y1="917" x2="872.5" y2="954" stroke="#a0a0a0" stroke-dasharray="1 2"/>
<path fill="#a0a0a0" d="M872 917h1v3h-1zM872 951h1v3h-1z"/>
<line x1="924.5" y1="917" x2="924.5" y2="954" stroke="#a0a0a0" stroke-dasharray="1 2"/>
<path fill="#a0a0a0" d="M924 917h1v3h-1zM924 951h1v3h-1z"/>
<line x1="976.5" y1="917" x2="976.5" y2="954" stroke="#a0a0a0" stroke-dasharray="1 2"/>
<path fill="#a0a0a0" d="M976 917h1v3h-1zM976 951h1v3h-1z"/>
<line x1="1028.5" y1="917" x2="1028.5" y2="954" stroke="#a0a0a0" stroke-dasharray="1 2"/>
<path fill="#a0a0a0" d="M1028 917h1v3h-1zM1028 951h1v3h-1z"/>
<line x1="1080.5" y1="917" x2="1080.5" y2="954" stroke="#a0a0a0" stroke-dasharray="1 2"/>
<path fill="#a0a0a0" d="M1080 917h1v3h-1zM1080 951h1v3h-1z"/>
<line x1="1132.5" y1="917" x2="1132.5" y2="954" stroke="#a0a0a0" stroke-dasharray="1 2"/>
<path fill="#a0a0a0" d="M1132 917h1v3h-1zM1132 951h1v3h-1z"/>
<line x1="1184.5" y1="917" x2="1184.5" y2="954" stroke="#a0a0a0" stroke-dasharray="1 2"/>
<path fill="#a0a0a0" d="M1184 917h1v3h-1zM1184 951h1v3h-1z"/>
<line x1="1236.5" y1="917" x2="1236.5" y2="954" stroke="#a0a0a0" stroke-dasharray="1 2"/>
<path fill="#a0a0a0" d="M1236 917h1v3h-1zM1236 951h1v3h-1z"/>
<line x1="1288.5" y1="917" x2="1288.5" y2="954" stroke="#a0a0a0" stroke-dasharray="1 2"/>
<path fill="#a0a0a0" d="M1288 917h1v3h-1zM1288 951h1v3h-1z"/>
<line x1="1340.5" y1="917" x2="1340.5" y2="954" stroke="#a0a0a0" stroke-dasharray="1 2"/>
<path fill="#a0a0a0" d="M1340 917h1v3h-1zM1340 951h1v3h-1z"/>
<line x1="1396.5" y1="917" x2="1396.5" y2="954" stroke="#a0a0a0" stroke-dasharray="1 2"/>
<path fill="#a0a0a0" d="M1396 917h1v3h-1zM1396 951h1v3h-1z"/>
<line x1="1448.5" y1="917" x2="1448.5" y2="954" stroke="#a0a0a0" stroke-dasharray="1 2"/>
<path fill="#a0a0a0" d="M1448 917h1v3h-1zM1448 951h1v3h-1z"/>
<line x1="1500.5" y1="917" x2="1500.5" y2="954" stroke="#a0a0a0" stroke-dasharray="1 2"/>
<path fill="#a0a0a0" d="M1500 917h1v3h-1zM1500 951h1v3h-1z"/>
<line x1="1552.5" y1="917" x2="1552.5" y2="954" stroke="#a0a0a0" stroke-dasharray="1 2"/>
<path fill="#a0a0a0" d="M1552 917h1v3h-1zM1552 951h1v3h-1z"/>
<line x1="1604.5" y1="917" x2="1604.5" y2="954" stroke="#a0a0a0" stroke-dasharray="1 2"/>
<path fill="#a0a0a0" d="M1604 917h1v3h-1zM1604 951h1v3h-1z"/>
<line x1="1656.5" y1="917" x2="1656.5" y2="954" stroke="#a0a0a0" stroke-dasharray="1 2"/>
<path fill="#a0a0a0" d="M1656 917h1v3h-1zM1656 951h1v3h-1z"/>
<line x1="1708.5" y1="917" x2="1708.5" y2="954" stroke="#a0a0a0" stroke-dasharray="1 2"/>
<path fill="#a0a0a0" d="M1708 917h1v3h-1zM1708 951h1v3h-1z"/>
<line x1="1760.5" y1="917" x2="1760.5" y2="954" stroke="#a0a0a0" stroke-dasharray="1 2"/>
<path fill="#a0a0a0" d="M1760 917h1v3h-1zM1760 951h1v3h-1z"/>
<line x1="1812.5" y1="917" x2="1812.5" y2="954" stroke="#a0a0a0" stroke-dasharray="1 2"/>
<path fill="#a0a0a0" d="M1812 917h1v3h-1zM1812 951h1v3h-1zM4 917h1v1h-1zM4 953h1v1h-1zM20 917h1v1h-1zM20 953h1v1h-1zM56 917h1v1h-1zM56 953h1v1h-1zM72 917h1v1h-1zM72 953h1v1h-1zM108 917h1v1h-1zM108 953h1v1h-1zM124 917h1v1h-1zM124 953h1v1h-1zM160 917h1v1h-1zM160 953h1v1h-1zM176 917h1v1h-1zM176 953h1v1h-1zM212 917h1v1h-1zM212 953h1v1h-1zM228 917h1v1h-1zM228 953h1v1h-1zM264 917h1v1h-1zM264 953h1v1h-1zM280 917h1v1h-1zM280 953h1v1h-1zM316 917h1v1h-1zM316 953h1v1h-1zM332 917h1v1h-1zM332 953h1v1h-1zM368 917h1v1h-1zM368 953h1v1h-1zM384 917h1v1h-1zM384 953h1v1h-1zM420 917h1v1h-1zM420 953h1v1h-1zM436 917h1v1h-1zM436 953h1v1h-1zM472 917h1v1h-1zM472 953h1v1h-1zM488 917h1v1h-1zM488 953h1v1h-1zM524 917h1v1h-1zM524 953h1v1h-1zM544 917h1v1h-1zM544 953h1v1h-1zM576 917h1v1h-1zM576 953h1v1h-1zM596 917h1v1h-1zM596 953h1v1h-1zM628 917h1v1h-1zM628 953h1v1h-1zM644 917h1v1h-1zM644 953h1v1h-1zM680 917h1v1h-1zM680 953h1v1h-1zM700 917h1v1h-1zM700 953h1v1h-1zM732 917h1v1h-1zM732 953h1v1h-1zM752 917h1v1h-1zM752 953h1v1h-1zM784 917h1v1h-1zM784 953h1v1h-1zM804 917h1v1h-1zM804 953h1v1h-1zM840 917h1v1h-1zM840 953h1v1h-1zM856 917h1v1h-1zM856 953h1v1h-1zM888 917h1v1h-1zM888 953h1v1h-1zM908 917h1v1h-1zM908 953h1v1h-1zM940 917h1v1h-1zM940 953h1v1h-1zM960 917h1v1h-1zM960 953h1v1h-1zM996 917h1v1h-1zM996 953h1v1h-1zM1012 917h1v1h-1zM1012 953h1v1h-1zM1048 917h1v1h-1zM1048 953h1v1h-1zM1064 917h1v1h-1zM1064 953h1v1h-1zM1096 917h1v1h-1zM1096 953h1v1h-1zM1116 917h1v1h-1zM1116 953h1v1h-1zM1152 917h1v1h-1zM1152 953h1v1h-1zM1168 917h1v1h-1zM1168 953h1v1h-1zM1204 917h1v1h-1zM1204 953h1v1h-1zM1220 917h1v1h-1zM1220 953h1v1h-1zM1256 917h1v1h-1zM1256 953h1v1h-1zM1272 917h1v1h-1zM1272 953h1v1h-1zM1308 917h1v1h-1zM1308 953h1v1h-1zM1324 917h1v1h-1zM1324 953h1v1h-1zM1360 917h1v1h-1zM1360 953h1v1h-1zM1376 917h1v1h-1zM1376 953h1v1h-1zM1412 917h1v1h-1zM1412 953h1v1h-1zM1428 917h1v1h-1zM1428 953h1v1h-1zM1464 917h1v1h-1zM1464 953h1v1h-1zM1480 917h1v1h-1zM1480 953h1v1h-1zM1516 917h1v1h-1zM1516 953h1v1h-1zM1532 917h1v1h-1zM1532 953h1v1h-1zM1568 917h1v1h-1zM1568 953h1v1h-1zM1584 917h1v1h-1zM1584 953h1v1h-1zM1620 917h1v1h-1zM1620 953h1v1h-1zM1636 917h1v1h-1zM1636 953h1v1h-1zM1672 917h1v1h-1zM1672 953h1v1h-1zM1688 917h1v1h-1zM1688 953h1v1h-1zM1724 917h1v1h-1zM1724 953h1v1h-1zM1740 917h1v1h-1zM1740 953h1v1h-1zM1776 917h1v1h-1zM1776 953h1v1h-1zM1796 917h1v1h-1zM1796 953h1v1h-1z"/>
<line x1="0" y1="437.5" x2="1828" y2="437.5" stroke="#a0a0a0" stroke-dasharray="1 3"/>
<path fill="#a0a0a0" d="M1828 437h3v1h-3z"/>
<line x1="0" y1="389.5" x2="1828" y2="389.5" stroke="#a0a0a0" stroke-dasharray="1 3"/>
<path fill="#a0a0a0" d="M1828 389h3v1h-3z"/>
<line x1="0" y1="342.5" x2="1828" y2="342.5" stroke="#a0a0a0" stroke-dasharray="1 3"/>
<path fill="#a0a0a0" d="M1828 342h3v1h-3z"/>
<line x1="0" y1="294.5" x2="1828" y2="294.5" stroke="#a0a0a0" stroke-dasharray="1 3"/>
<path fill="#a0a0a0" d="M1828 294h3v1h-3z"/>
<line x1="0" y1="247.5" x2="1828" y2="247.5" stroke="#a0a0a0" stroke-dasharray="1 3"/>
<path fill="#a0a0a0" d="M1828 247h3v1h-3z"/>
<line x1="0" y1="199.5" x2="1828" y2="199.5" stroke="#a0a0a0" stroke-dasharray="1 3"/>
<path fill="#a0a0a0" d="M1828 199h3v1h-3z"/>
<line x1="0" y1="152.5" x2="1828" y2="152.5" stroke="#a0a0a0" stroke-dasharray="1 3"/>
<path fill="#a0a0a0" d="M1828 152h3v1h-3z"/>
<line x1="0" y1="104.5" x2="1828" y2="104.5" stroke="#a0a0a0" stroke-dasharray="1 3"/>
<path fill="#a0a0a0" d="M1828 104h3v1h-3z"/>
<line x1="0" y1="56.5" x2="1828" y2="56.5" stroke="#a0a0a0" stroke-dasharray="1 3"/>
<path fill="#a0a0a0" d="M1828 56h3v1h-3z"/>
<line x1="0" y1="9.5" x2="1828" y2="9.5" stroke="#a0a0a0" stroke-dasharray="1 3"/>
<path fill="#a0a0a0" d="M1828 9h3v1h-3zM4 461h1v1h-1zM20 461h1v1h-1zM56 461h1v1h-1zM72 461h1v1h-1zM108 461h1v1h-1zM124 461h1v1h-1zM160 461h1v1h-1zM176 461h1v1h-1zM212 461h1v1h-1zM228 461h1v1h-1zM264 461h1v1h-1zM280 461h1v1h-1zM316 461h1v1h-1zM332 461h1v1h-1zM368 461h1v1h-1zM384 461h1v1h-1zM420 461h1v1h-1zM436 461h1v1h-1zM472 461h1v1h-1zM488 461h1v1h-1zM524 461h1v1h-1zM544 461h1v1h-1zM576 461h1v1h-1zM596 461h1v1h-1zM628 461h1v1h-1zM644 461h1v1h-1zM680 461h1v1h-1zM700 461h1v1h-1zM732 461h1v1h-1zM752 461h1v1h-1zM784 461h1v1h-1zM804 461h1v1h-1zM840 461h1v1h-1zM856 461h1v1h-1zM888 461h1v1h-1zM908 461h1v1h-1zM940 461h1v1h-1zM960 461h1v1h-1zM996 461h1v1h-1zM1012 461h1v1h-1zM1048 461h1v1h-1zM1064 461h1v1h-1zM1096 461h1v1h-1zM1116 461h1v1h-1zM1152 461h1v1h-1zM1168 461h1v1h-1zM1204 461h1v1h-1zM1220 461h1v1h-1zM1256 461h1v1h-1zM1272 461h1v1h-1zM1308 461h1v1h-1zM1324 461h1v1h-1zM1360 461h1v1h-1zM1376 461h1v1h-1zM1412 461h1v1h-1zM1428 461h1v1h-1zM1464 461h1v1h-1zM1480 461h1v1h-1zM1516 461h1v1h-1zM1532 461h1v1h-1zM1568 461h1v1h-1zM1584 461h1v1h-1zM1620 461h1v1h-1zM1636 461h1v1h-1zM1672 461h1v1h-1zM1688 461h1v1h-1zM1724 461h1v1h-1zM1740 461h1v1h-1zM1776 461h1v1h-1zM1796 461h1v1h-1zM36 461h1v1h-1zM88 461h1v1h-1zM140 461h1v1h-1zM196 461h1v1h-1zM244 461h1v1h-1zM296 461h1v1h-1zM352 461h1v1h-1zM404 461h1v1h-1zM456 461h1v1h-1zM508 461h1v1h-1zM560 461h1v1h-1zM612 461h1v1h-1zM664 461h1v1h-1zM716 461h1v1h-1zM768 461h1v1h-1zM820 461h1v1h-1zM872 461h1v1h-1zM924 461h1v1h-1zM976 461h1v1h-1zM1028 461h1v1h-1zM1080 461h1v1h-1zM1132 461h1v1h-1zM1184 461h1v1h-1zM1236 461h1v1h-1zM1288 461h1v1h-1zM1340 461h1v1h-1zM1396 461h1v1h-1zM1448 461h1v1h-1zM1500 461h1v1h-1zM1552 461h1v1h-1zM1604 461h1v1h-1zM1656 461h1v1h-1zM1708 461h1v1h-1zM1760 461h1v1h-1zM1812 461h1v1h-1zM1830 461h1v1h-1zM4 413h1v1h-1zM20 413h1v1h-1zM56 413h1v1h-1zM72 413h1v1h-1zM108 413h1v1h-1zM124 413h1v1h-1zM160 413h1v1h-1zM176 413h1v1h-1zM212 413h1v1h-1zM228 413h1v1h-1zM264 413h1v1h-1zM280 413h1v1h-1zM316 413h1v1h-1zM332 413h1v1h-1zM368 413h1v1h-1zM384 413h1v1h-1zM420 413h1v1h-1zM436 413h1v1h-1zM472 413h1v1h-1zM488 413h1v1h-1zM524 413h1v1h-1zM544 413h1v1h-1zM576 413h1v1h-1zM596 413h1v1h-1zM628 413h1v1h-1zM644 413h1v1h-1zM680 413h1v1h-1zM700 413h1v1h-1zM732 413h1v1h-1zM752 413h1v1h-1zM784 413h1v1h-1zM804 413h1v1h-1zM840 413h1v1h-1zM856 413h1v1h-1zM888 413h1v1h-1zM908 413h1v1h-1zM940 413h1v1h-1zM960 413h1v1h-1zM996 413h1v1h-1zM1012 413h1v1h-1zM1048 413h1v1h-1zM1064 413h1v1h-1zM1096 413h1v1h-1zM1116 413h1v1h-1zM1152 413h1v1h-1zM1168 413h1v1h-1zM1204 413h1v1h-1zM1220 413h1v1h-1zM1256 413h1v1h-1zM1272 413h1v1h-1zM1308 413h1v1h-1zM1324 413h1v1h-1zM1360 413h1v1h-1zM1376 413h1v1h-1zM1412 413h1v1h-1zM1428 413h1v1h-1zM1464 413h1v1h-1zM1480 413h1v1h-1zM1516 413h1v1h-1zM1532 413h1v1h-1zM1568 413h1v1h-1zM1584 413h1v1h-1zM1620 413h1v1h-1zM1636 413h1v1h-1zM1672 413h1v1h-1zM1688 413h1v1h-1zM1724 413h1v1h-1zM1740 413h1v1h-1zM1776 413h1v1h-1zM1796 413h1v1h-1zM36 413h1v1h-1zM88 413h1v1h-1zM140 413h1v1h-1zM196 413h1v1h-1zM244 413h1v1h-1zM296 413h1v1h-1zM352 413h1v1h-1zM404 413h1v1h-1zM456 413h1v1h-1zM508 413h1v1h-1zM560 413h1v1h-1zM612 413h1v1h-1zM664 413h1v1h-1zM716 413h1v1h-1zM768 413h1v1h-1zM820 413h1v1h-1zM872 413h1v1h-1zM924 413h1v1h-1zM976 413h1v1h-1zM1028 413h1v1h-1zM1080 413h1v1h-1zM1132 413h1v1h-1zM1184 413h1v1h-1zM1236 413h1v1h-1zM1288 413h1v1h-1zM1340 413h1v1h-1zM1396 413h1v1h-1zM1448 413h1v1h-1zM1500 413h1v1h-1zM1552 413h1v1h-1zM1604 413h1v1h-1zM1656 413h1v1h-1zM1708 413h1v1h-1zM1760 413h1v1h-1zM1812 413h1v1h-1zM1830 413h1v1h-1zM4 365h1v1h-1zM20 365h1v1h-1zM56 365h1v1h-1zM72 365h1v1h-1zM108 365h1v1h-1zM124 365h1v1h-1zM160 365h1v1h-1zM176 365h1v1h-1zM212 365h1v1h-1zM228 365h1v1h-1zM264 365h1v1h-1zM280 365h1v1h-1zM316 365h1v1h-1zM332 365h1v1h-1zM368 365h1v1h-1zM384 365h1v1h-1zM420 365h1v1h-1zM436 365h1v1h-1zM472 365h1v1h-1zM488 365h1v1h-1zM524 365h1v1h-1zM544 365h1v1h-1zM576 365h1v1h-1zM596 365h1v1h-1zM628 365h1v1h-1zM644 365h1v1h-1zM680 365h1v1h-1zM700 365h1v1h-1zM732 365h1v1h-1zM752 365h1v1h-1zM784 365h1v1h-1zM804 365h1v1h-1zM840 365h1v1h-1zM856 365h1v1h-1zM888 365h1v1h-1zM908 365h1v1h-1zM940 365h1v1h-1zM960 365h1v1h-1zM996 365h1v1h-1zM1012 365h1v1h-1zM1048 365h1v1h-1zM1064 365h1v1h-1zM1096 365h1v1h-1zM1116 365h1v1h-1zM1152 365h1v1h-1zM1168 365h1v1h-1zM1204 365h1v1h-1zM1220 365h1v1h-1zM1256 365h1v1h-1zM1272 365h1v1h-1zM1308 365h1v1h-1zM1324 365h1v1h-1zM1360 365h1v1h-1zM1376 365h1v1h-1zM1412 365h1v1h-1zM1428 365h1v1h-1zM1464 365h1v1h-1zM1480 365h1v1h-1zM1516 365h1v1h-1zM1532 365h1v1h-1zM1568 365h1v1h-1zM1584 365h1v1h-1zM1620 365h1v1h-1zM1636 365h1v1h-1zM1672 365h1v1h-1zM1688 365h1v1h-1zM1724 365h1v1h-1zM1740 365h1v1h-1zM1776 365h1v1h-1zM1796 365h1v1h-1zM36 365h1v1h-1zM88 365h1v1h-1zM140 365h1v1h-1zM196 365h1v1h-1zM244 365h1v1h-1zM296 365h1v1h-1zM352 365h1v1h-1zM404 365h1v1h-1zM456 365h1v1h-1zM508 365h1v1h-1zM560 365h1v1h-1zM612 365h1v1h-1zM664 365h1v1h-1zM716 365h1v1h-1zM768 365h1v1h-1zM820 365h1v1h-1zM872 365h1v1h-1zM924 365h1v1h-1zM976 365h1v1h-1zM1028 365h1v1h-1zM1080 365h1v1h-1zM1132 365h1v1h-1zM1184 365h1v1h-1zM1236 365h1v1h-1zM1288 365h1v1h-1zM1340 365h1v1h-1zM1396 365h1v1h-1zM1448 365h1v1h-1zM1500 365h1v1h-1zM1552 365h1v1h-1zM1604 365h1v1h-1zM1656 365h1v1h-1zM1708 365h1v1h-1zM1760 365h1v1h-1zM1812 365h1v1h-1zM1830 365h1v1h-1zM4 318h1v1h-1zM20 318h1v1h-1zM56 318h1v1h-1zM72 318h1v1h-1zM108 318h1v1h-1zM124 318h1v1h-1zM160 318h1v1h-1zM176 318h1v1h-1zM212 318h1v1h-1zM228 318h1v1h-1zM264 318h1v1h-1zM280 318h1v1h-1zM316 318h1v1h-1zM332 318h1v1h-1zM368 318h1v1h-1zM384 318h1v1h-1zM420 318h1v1h-1zM436 318h1v1h-1zM472 318h1v1h-1zM488 318h1v1h-1zM524 318h1v1h-1zM544 318h1v1h-1zM576 318h1v1h-1zM596 318h1v1h-1zM628 318h1v1h-1zM644 318h1v1h-1zM680 318h1v1h-1zM700 318h1v1h-1zM732 318h1v1h-1zM752 318h1v1h-1zM784 318h1v1h-1zM804 318h1v1h-1zM840 318h1v1h-1zM856 318h1v1h-1zM888 318h1v1h-1zM908 318h1v1h-1zM940 318h1v1h-1zM960 318h1v1h-1zM996 318h1v1h-1zM1012 318h1v1h-1zM1048 318h1v1h-1zM1064 318h1v1h-1zM1096 318h1v1h-1zM1116 318h1v1h-1zM1152 318h1v1h-1zM1168 318h1v1h-1zM1204 318h1v1h-1zM1220 318h1v1h-1zM1256 318h1v1h-1zM1272 318h1v1h-1zM1308 318h1v1h-1zM1324 318h1v1h-1zM1360 318h1v1h-1zM1376 318h1v1h-1zM1412 318h1v1h-1zM1428 318h1v1h-1zM1464 318h1v1h-1zM1480 318h1v1h-1zM1516 318h1v1h-1zM1532 318h1v1h-1zM1568 318h1v1h-1zM1584 318h1v1h-1zM1620 318h1v1h-1zM1636 318h1v1h-1zM1672 318h1v1h-1zM1688 318h1v1h-1zM1724 318h1v1h-1zM1740 318h1v1h-1zM1776 318h1v1h-1zM1796 318h1v1h-1zM36 318h1v1h-1zM88 318h1v1h-1zM140 318h1v1h-1zM196 318h1v1h-1zM244 318h1v1h-1zM296 318h1v1h-1zM352 318h1v1h-1zM404 318h1v1h-1zM456 318h1v1h-1zM508 318h1v1h-1zM560 318h1v1h-1zM612 318h1v1h-1zM664 318h1v1h-1zM716 318h1v1h-1zM768 318h1v1h-1zM820 318h1v1h-1zM872 318h1v1h-1zM924 318h1v1h-1zM976 318h1v1h-1zM1028 318h1v1h-1zM1080 318h1v1h-1zM1132 318h1v1h-1zM1184 318h1v1h-1zM1236 318h1v1h-1zM1288 318h1v1h-1zM1340 318h1v1h-1zM1396 318h1v1h-1zM1448 318h1v1h-1zM1500 318h1v1h-1zM1552 318h1v1h-1zM1604 318h1v1h-1zM1656 318h1v1h-1zM1708 318h1v1h-1zM1760 318h1v1h-1zM1812 318h1v1h-1zM1830 318h1v1h-1zM4 270h1v1h-1zM20 270h1v1h-1zM56 270h1v1h-1zM72 270h1v1h-1zM108 270h1v1h-1zM124 270h1v1h-1zM160 270h1v1h-1zM176 270h1v1h-1zM212 270h1v1h-1zM228 270h1v1h-1zM264 270h1v1h-1zM280 270h1v1h-1zM316 270h1v1h-1zM332 270h1v1h-1zM368 270h1v1h-1zM384 270h1v1h-1zM420 270h1v1h-1zM436 270h1v1h-1zM472 270h1v1h-1zM488 270h1v1h-1zM524 270h1v1h-1zM544 270h1v1h-1zM576 270h1v1h-1zM596 270h1v1h-1zM628 270h1v1h-1zM644 270h1v1h-1zM680 270h1v1h-1zM700 270h1v1h-1zM732 270h1v1h-1zM752 270h1v1h-1zM784 270h1v1h-1zM804 270h1v1h-1zM840 270h1v1h-1zM856 270h1v1h-1zM888 270h1v1h-1zM908 270h1v1h-1zM940 270h1v1h-1zM960 270h1v1h-1zM996 270h1v1h-1zM1012 270h1v1h-1zM1048 270h1v1h-1zM1064 270h1v1h-1zM1096 270h1v1h-1zM1116 270h1v1h-1zM1152 270h1v1h-1zM1168 270h1v1h-1zM1204 270h1v1h-1zM1220 270h1v1h-1zM1256 270h1v1h-1zM1272 270h1v1h-1zM1308 270h1v1h-1zM1324 270h1v1h-1zM1360 270h1v1h-1zM1376 270h1v1h-1zM1412 270h1v1h-1zM1428 270h1v1h-1zM1464 270h1v1h-1zM1480 270h1v1h-1zM1516 270h1v1h-1zM1532 270h1v1h-1zM1568 270h1v1h-1zM1584 270h1v1h-1zM1620 270h1v1h-1zM1636 270h1v1h-1zM1672 270h1v1h-1zM1688 270h1v1h-1zM1724 270h1v1h-1zM1740 270h1v1h-1zM1776 270h1v1h-1zM1796 270h1v1h-1zM36 270h1v1h-1zM88 270h1v1h-1zM140 270h1v1h-1zM196 270h1v1h-1zM244 270h1v1h-1zM296 270h1v1h-1zM352 270h1v1h-1zM404 270h1v1h-1zM456 270h1v1h-1zM508 270h1v1h-1zM560 270h1v1h-1zM612 270h1v1h-1zM664 270h1v1h-1zM716 270h1v1h-1zM768 270h1v1h-1zM820 270h1v1h-1zM872 270h1v1h-1zM924 270h1v1h-1zM976 270h1v1h-1zM1028 270h1v1h-1zM1080 270h1v1h-1zM1132 270h1v1h-1zM1184 270h1v1h-1zM1236 270h1v1h-1zM1288 270h1v1h-1zM1340 270h1v1h-1zM1396 270h1v1h-1zM1448 270h1v1h-1zM1500 270h1v1h-1zM1552 270h1v1h-1zM1604 270h1v1h-1zM1656 270h1v1h-1zM1708 270h1v1h-1zM1760 270h1v1h-1zM1812 270h1v1h-1zM1830 270h1v1h-1zM4 223h1v1h-1zM20 223h1v1h-1zM56 223h1v1h-1zM72 223h1v1h-1zM108 223h1v1h-1zM124 223h1v1h-1zM160 223h1v1h-1zM176 223h1v1h-1zM212 223h1v1h-1zM228 223h1v1h-1zM264 223h1v1h-1zM280 223h1v1h-1zM316 223h1v1h-1zM332 223h1v1h-1zM368 223h1v1h-1zM384 223h1v1h-1zM420 223h1v1h-1zM436 223h1v1h-1zM472 223h1v1h-1zM488 223h1v1h-1zM524 223h1v1h-1zM544 223h1v1h-1zM576 223h1v1h-1zM596 223h1v1h-1zM628 223h1v1h-1zM644 223h1v1h-1zM680 223h1v1h-1zM700 223h1v1h-1zM732 223h1v1h-1zM752 223h1v1h-1zM784 223h1v1h-1zM804 223h1v1h-1zM840 223h1v1h-1zM856 223h1v1h-1zM888 223h1v1h-1zM908 223h1v1h-1zM940 223h1v1h-1zM960 223h1v1h-1zM996 223h1v1h-1zM1012 223h1v1h-1zM1048 223h1v1h-1zM1064 223h1v1h-1zM1096 223h1v1h-1zM1116 223h1v1h-1zM1152 223h1v1h-1zM1168 223h1v1h-1zM1204 223h1v1h-1zM1220 223h1v1h-1zM1256 223h1v1h-1zM1272 223h1v1h-1zM1308 223h1v1h-1zM1324 223h1v1h-1zM1360 223h1v1h-1zM1376 223h1v1h-1zM1412 223h1v1h-1zM1428 223h1v1h-1zM1464 223h1v1h-1zM1480 223h1v1h-1zM1516 223h1v1h-1zM1532 223h1v1h-1zM1568 223h1v1h-1zM1584 223h1v1h-1zM1620 223h1v1h-1zM1636 223h1v1h-1zM1672 223h1v1h-1zM1688 223h1v1h-1zM1724 223h1v1h-1zM1740 223h1v1h-1zM1776 223h1v1h-1zM1796 223h1v1h-1zM36 223h1v1h-1zM88 223h1v1h-1zM140 223h1v1h-1zM196 223h1v1h-1zM244 223h1v1h-1zM296 223h1v1h-1zM352 223h1v1h-1zM404 223h1v1h-1zM456 223h1v1h-1zM508 223h1v1h-1zM560 223h1v1h-1zM612 223h1v1h-1zM664 223h1v1h-1zM716 223h1v1h-1zM768 223h1v1h-1zM820 223h1v1h-1zM872 223h1v1h-1zM924 223h1v1h-1zM976 223h1v1h-1zM1028 223h1v1h-1zM1080 223h1v1h-1zM1132 223h1v1h-1zM1184 223h1v1h-1zM1236 223h1v1h-1zM1288 223h1v1h-1zM1340 223h1v1h-1zM1396 223h1v1h-1zM1448 223h1v1h-1zM1500 223h1v1h-1zM1552 223h1v1h-1zM1604 223h1v1h-1zM1656 223h1v1h-1zM1708 223h1v1h-1zM1760 223h1v1h-1zM1812 223h1v1h-1zM1830 223h1v1h-1zM4 175h1v1h-1zM20 175h1v1h-1zM56 175h1v1h-1zM72 175h1v1h-1zM108 175h1v1h-1zM124 175h1v1h-1zM160 175h1v1h-1zM176 175h1v1h-1zM212 175h1v1h-1zM228 175h1v1h-1zM264 175h1v1h-1zM280 175h1v1h-1zM316 175h1v1h-1zM332 175h1v1h-1zM368 175h1v1h-1zM384 175h1v1h-1zM420 175h1v1h-1zM436 175h1v1h-1zM472 175h1v1h-1zM488 175h1v1h-1zM524 175h1v1h-1zM544 175h1v1h-1zM576 175h1v1h-1zM596 175h1v1h-1zM628 175h1v1h-1zM644 175h1v1h-1zM680 175h1v1h-1zM700 175h1v1h-1zM732 175h1v1h-1zM752 175h1v1h-1zM784 175h1v1h-1zM804 175h1v1h-1zM840 175h1v1h-1zM856 175h1v1h-1zM888 175h1v1h-1zM908 175h1v1h-1zM940 175h1v1h-1zM960 175h1v1h-1zM996 175h1v1h-1zM1012 175h1v1h-1zM1048 175h1v1h-1zM1064 175h1v1h-1zM1096 175h1v1h-1zM1116 175h1v1h-1zM1152 175h1v1h-1zM1168 175h1v1h-1zM1204 175h1v1h-1zM1220 175h1v1h-1zM1256 175h1v1h-1zM1272 175h1v1h-1zM1308 175h1v1h-1zM1324 175h1v1h-1zM1360 175h1v1h-1zM1376 175h1v1h-1zM1412 175h1v1h-1zM1428 175h1v1h-1zM1464 175h1v1h-1zM1480 175h1v1h-1zM1516 175h1v1h-1zM1532 175h1v1h-1zM1568 175h1v1h-1zM1584 175h1v1h-1zM1620 175h1v1h-1zM1636 175h1v1h-1zM1672 175h1v1h-1zM1688 175h1v1h-1zM1724 175h1v1h-1zM1740 175h1v1h-1zM1776 175h1v1h-1zM1796 175h1v1h-1zM36 175h1v1h-1zM88 175h1v1h-1zM140 175h1v1h-1zM196 175h1v1h-1zM244 175h1v1h-1zM296 175h1v1h-1zM352 175h1v1h-1zM404 175h1v1h-1zM456 175h1v1h-1zM508 175h1v1h-1zM560 175h1v1h-1zM612 175h1v1h-1zM664 175h1v1h-1zM716 175h1v1h-1zM768 175h1v1h-1zM820 175h1v1h-1zM872 175h1v1h-1zM924 175h1v1h-1zM976 175h1v1h-1zM1028 175h1v1h-1zM1080 175h1v1h-1zM1132 175h1v1h-1zM1184 175h1v1h-1zM1236 175h1v1h-1zM1288 175h1v1h-1zM1340 175h1v1h-1zM1396 175h1v1h-1zM1448 175h1v1h-1zM1500 175h1v1h-1zM1552 175h1v1h-1zM1604 175h1v1h-1zM1656 175h1v1h-1zM1708 175h1v1h-1zM1760 175h1v1h-1zM1812 175h1v1h-1zM1830 175h1v1h-1zM4 128h1v1h-1zM20 128h1v1h-1zM56 128h1v1h-1zM72 128h1v1h-1zM108 128h1v1h-1zM124 128h1v1h-1zM160 128h1v1h-1zM176 128h1v1h-1zM212 128h1v1h-1zM228 128h1v1h-1zM264 128h1v1h-1zM280 128h1v1h-1zM316 128h1v1h-1zM332 128h1v1h-1zM368 128h1v1h-1zM384 128h1v1h-1zM420 128h1v1h-1zM436 128h1v1h-1zM472 128h1v1h-1zM488 128h1v1h-1zM524 128h1v1h-1zM544 128h1v1h-1zM576 128h1v1h-1zM596 128h1v1h-1zM628 128h1v1h-1zM644 128h1v1h-1zM680 128h1v1h-1zM700 128h1v1h-1zM732 128h1v1h-1zM752 128h1v1h-1zM784 128h1v1h-1zM804 128h1v1h-1zM840 128h1v1h-1zM856 128h1v1h-1zM888 128h1v1h-1zM908 128h1v1h-1zM940 128h1v1h-1zM960 128h1v1h-1zM996 128h1v1h-1zM1012 128h1v1h-1zM1048 128h1v1h-1zM1064 128h1v1h-1zM1096 128h1v1h-1zM1116 128h1v1h-1zM1152 128h1v1h-1zM1168 128h1v1h-1zM1204 128h1v1h-1zM1220 128h1v1h-1zM1256 128h1v1h-1zM1272 128h1v1h-1zM1308 128h1v1h-1zM1324 128h1v1h-1zM1360 128h1v1h-1zM1376 128h1v1h-1zM1412 128h1v1h-1zM1428 128h1v1h-1zM1464 128h1v1h-1zM1480 128h1v1h-1zM1516 128h1v1h-1zM1532 128h1v1h-1zM1568 128h1v1h-1zM1584 128h1v1h-1zM1620 128h1v1h-1zM1636 128h1v1h-1zM1672 128h1v1h-1zM1688 128h1v1h-1zM1724 128h1v1h-1zM1740 128h1v1h-1zM1776 128h1v1h-1zM1796 128h1v1h-1zM36 128h1v1h-1zM88 128h1v1h-1zM140 128h1v1h-1zM196 128h1v1h-1zM244 128h1v1h-1zM296 128h1v1h-1zM352 128h1v1h-1zM404 128h1v1h-1zM456 128h1v1h-1zM508 128h1v1h-1zM560 128h1v1h-1zM612 128h1v1h-1zM664 128h1v1h-1zM716 128h1v1h-1zM768 128h1v1h-1zM820 128h1v1h-1zM872 128h1v1h-1zM924 128h1v1h-1zM976 128h1v1h-1zM1028 128h1v1h-1zM1080 128h1v1h-1zM1132 128h1v1h-1zM1184 128h1v1h-1zM1236 128h1v1h-1zM1288 128h1v1h-1zM1340 128h1v1h-1zM1396 128h1v1h-1zM1448 128h1v1h-1zM1500 128h1v1h-1zM1552 128h1v1h-1zM1604 128h1v1h-1zM1656 128h1v1h-1zM1708 128h1v1h-1zM1760 128h1v1h-1zM1812 128h1v1h-1zM1830 128h1v1h-1zM4 80h1v1h-1zM20 80h1v1h-1zM56 80h1v1h-1zM72 80h1v1h-1zM108 80h1v1h-1zM124 80h1v1h-1zM160 80h1v1h-1zM176 80h1v1h-1zM212 80h1v1h-1zM228 80h1v1h-1zM264 80h1v1h-1zM280 80h1v1h-1zM316 80h1v1h-1zM332 80h1v1h-1zM368 80h1v1h-1zM384 80h1v1h-1zM420 80h1v1h-1zM436 80h1v1h-1zM472 80h1v1h-1zM488 80h1v1h-1zM524 80h1v1h-1zM544 80h1v1h-1zM576 80h1v1h-1zM596 80h1v1h-1zM628 80h1v1h-1zM644 80h1v1h-1zM680 80h1v1h-1zM700 80h1v1h-1zM732 80h1v1h-1zM752 80h1v1h-1zM784 80h1v1h-1zM804 80h1v1h-1zM840 80h1v1h-1zM856 80h1v1h-1zM888 80h1v1h-1zM908 80h1v1h-1zM940 80h1v1h-1zM960 80h1v1h-1zM996 80h1v1h-1zM1012 80h1v1h-1zM1048 80h1v1h-1zM1064 80h1v1h-1zM1096 80h1v1h-1zM1116 80h1v1h-1zM1152 80h1v1h-1zM1168 80h1v1h-1zM1204 80h1v1h-1zM1220 80h1v1h-1zM1256 80h1v1h-1zM1272 80h1v1h-1zM1308 80h1v1h-1zM1324 80h1v1h-1zM1360 80h1v1h-1zM1376 80h1v1h-1zM1412 80h1v1h-1zM1428 80h1v1h-1zM1464 80h1v1h-1zM1480 80h1v1h-1zM1516 80h1v1h-1zM1532 80h1v1h-1zM1568 80h1v1h-1zM1584 80h1v1h-1zM1620 80h1v1h-1zM1636 80h1v1h-1zM1672 80h1v1h-1zM1688 80h1v1h-1zM1724 80h1v1h-1zM1740 80h1v1h-1zM1776 80h1v1h-1zM1796 80h1v1h-1zM36 80h1v1h-1zM88 80h1v1h-1zM140 80h1v1h-1zM196 80h1v1h-1zM244 80h1v1h-1zM296 80h1v1h-1zM352 80h1v1h-1zM404 80h1v1h-1zM456 80h1v1h-1zM508 80h1v1h-1zM560 80h1v1h-1zM612 80h1v1h-1zM664 80h1v1h-1zM716 80h1v1h-1zM768 80h1v1h-1zM820 80h1v1h-1zM872 80h1v1h-1zM924 80h1v1h-1zM976 80h1v1h-1zM1028 80h1v1h-1zM1080 80h1v1h-1zM1132 80h1v1h-1zM1184 80h1v1h-1zM1236 80h1v1h-1zM1288 80h1v1h-1zM1340 80h1v1h-1zM1396 80h1v1h-1zM1448 80h1v1h-1zM1500 80h1v1h-1zM1552 80h1v1h-1zM1604 80h1v1h-1zM1656 80h1v1h-1zM1708 80h1v1h-1zM1760 80h1v1h-1zM1812 80h1v1h-1zM1830 80h1v1h-1zM4 33h1v1h-1zM20 33h1v1h-1zM56 33h1v1h-1zM72 33h1v1h-1zM108 33h1v1h-1zM124 33h1v1h-1zM160 33h1v1h-1zM176 33h1v1h-1zM212 33h1v1h-1zM228 33h1v1h-1zM264 33h1v1h-1zM280 33h1v1h-1zM316 33h1v1h-1zM332 33h1v1h-1zM368 33h1v1h-1zM384 33h1v1h-1zM420 33h1v1h-1zM436 33h1v1h-1zM472 33h1v1h-1zM488 33h1v1h-1zM524 33h1v1h-1zM544 33h1v1h-1zM576 33h1v1h-1zM596 33h1v1h-1zM628 33h1v1h-1zM644 33h1v1h-1zM680 33h1v1h-1zM700 33h1v1h-1zM732 33h1v1h-1zM752 33h1v1h-1zM784 33h1v1h-1zM804 33h1v1h-1zM840 33h1v1h-1zM856 33h1v1h-1zM888 33h1v1h-1zM908 33h1v1h-1zM940 33h1v1h-1zM960 33h1v1h-1zM996 33h1v1h-1zM1012 33h1v1h-1zM1048 33h1v1h-1zM1064 33h1v1h-1zM1096 33h1v1h-1zM1116 33h1v1h-1zM1152 33h1v1h-1zM1168 33h1v1h-1zM1204 33h1v1h-1zM1220 33h1v1h-1zM1256 33h1v1h-1zM1272 33h1v1h-1zM1308 33h1v1h-1zM1324 33h1v1h-1zM1360 33h1v1h-1zM1376 33h1v1h-1zM1412 33h1v1h-1zM1428 33h1v1h-1zM1464 33h1v1h-1zM1480 33h1v1h-1zM1516 33h1v1h-1zM1532 33h1v1h-1zM1568 33h1v1h-1zM1584 33h1v1h-1zM1620 33h1v1h-1zM1636 33h1v1h-1zM1672 33h1v1h-1zM1688 33h1v1h-1zM1724 33h1v1h-1zM1740 33h1v1h-1zM1776 33h1v1h-1zM1796 33h1v1h-1zM36 33h1v1h-1zM88 33h1v1h-1zM140 33h1v1h-1zM196 33h1v1h-1zM244 33h1v1h-1zM296 33h1v1h-1zM352 33h1v1h-1zM404 33h1v1h-1zM456 33h1v1h-1zM508 33h1v1h-1zM560 33h1v1h-1zM612 33h1v1h-1zM664 33h1v1h-1zM716 33h1v1h-1zM768 33h1v1h-1zM820 33h1v1h-1zM872 33h1v1h-1zM924 33h1v1h-1zM976 33h1v1h-1zM1028 33h1v1h-1zM1080 33h1v1h-1zM1132 33h1v1h-1zM1184 33h1v1h-1zM1236 33h1v1h-1zM1288 33h1v1h-1zM1340 33h1v1h-1zM1396 33h1v1h-1zM1448 33h1v1h-1zM1500 33h1v1h-1zM1552 33h1v1h-1zM1604 33h1v1h-1zM1656 33h1v1h-1zM1708 33h1v1h-1zM1760 33h1v1h-1zM1812 33h1v1h-1zM1830 33h1v1h-1z"/>
<line x1="0" y1="614.5" x2="1828" y2="614.5" stroke="#a0a0a0" stroke-dasharray="1 3"/>
<path fill="#a0a0a0" d="M1828 614h3v1h-3z"/>
<line x1="0" y1="569.5" x2="1828" y2="569.5" stroke="#a0a0a0" stroke-dasharray="1 3"/>
<path fill="#a0a0a0" d="M1828 569h3v1h-3z"/>
<line x1="0" y1="523.5" x2="1828" y2="523.5" stroke="#a0a0a0" stroke-dasharray="1 3"/>
<path fill="#a0a0a0" d="M1828 523h3v1h-3z"/>
<line x1="0" y1="478.5" x2="1828" y2="478.5" stroke="#a0a0a0" stroke-dasharray="1 3"/>
<path fill="#a0a0a0" d="M1828 478h3v1h-3zM4 546h1v1h-1zM20 546h1v1h-1zM56 546h1v1h-1zM72 546h1v1h-1zM108 546h1v1h-1zM124 546h1v1h-1zM160 546h1v1h-1zM176 546h1v1h-1zM212 546h1v1h-1zM228 546h1v1h-1zM264 546h1v1h-1zM280 546h1v1h-1zM316 546h1v1h-1zM332 546h1v1h-1zM368 546h1v1h-1zM384 546h1v1h-1zM420 546h1v1h-1zM436 546h1v1h-1zM472 546h1v1h-1zM488 546h1v1h-1zM524 546h1v1h-1zM544 546h1v1h-1zM576 546h1v1h-1zM596 546h1v1h-1zM628 546h1v1h-1zM644 546h1v1h-1zM680 546h1v1h-1zM700 546h1v1h-1zM732 546h1v1h-1zM752 546h1v1h-1zM784 546h1v1h-1zM804 546h1v1h-1zM840 546h1v1h-1zM856 546h1v1h-1zM888 546h1v1h-1zM908 546h1v1h-1zM940 546h1v1h-1zM960 546h1v1h-1zM996 546h1v1h-1zM1012 546h1v1h-1zM1048 546h1v1h-1zM1064 546h1v1h-1zM1096 546h1v1h-1zM1116 546h1v1h-1zM1152 546h1v1h-1zM1168 546h1v1h-1zM1204 546h1v1h-1zM1220 546h1v1h-1zM1256 546h1v1h-1zM1272 546h1v1h-1zM1308 546h1v1h-1zM1324 546h1v1h-1zM1360 546h1v1h-1zM1376 546h1v1h-1zM1412 546h1v1h-1zM1428 546h1v1h-1zM1464 546h1v1h-1zM1480 546h1v1h-1zM1516 546h1v1h-1zM1532 546h1v1h-1zM1568 546h1v1h-1zM1584 546h1v1h-1zM1620 546h1v1h-1zM1636 546h1v1h-1zM1672 546h1v1h-1zM1688 546h1v1h-1zM1724 546h1v1h-1zM1740 546h1v1h-1zM1776 546h1v1h-1zM1796 546h1v1h-1zM36 546h1v1h-1zM88 546h1v1h-1zM140 546h1v1h-1zM196 546h1v1h-1zM244 546h1v1h-1zM296 546h1v1h-1zM352 546h1v1h-1zM404 546h1v1h-1zM456 546h1v1h-1zM508 546h1v1h-1zM560 546h1v1h-1zM612 546h1v1h-1zM664 546h1v1h-1zM716 546h1v1h-1zM768 546h1v1h-1zM820 546h1v1h-1zM872 546h1v1h-1zM924 546h1v1h-1zM976 546h1v1h-1zM1028 546h1v1h-1zM1080 546h1v1h-1zM1132 546h1v1h-1zM1184 546h1v1h-1zM1236 546h1v1h-1zM1288 546h1v1h-1zM1340 546h1v1h-1zM1396 546h1v1h-1zM1448 546h1v1h-1zM1500 546h1v1h-1zM1552 546h1v1h-1zM1604 546h1v1h-1zM1656 546h1v1h-1zM1708 546h1v1h-1zM1760 546h1v1h-1zM1812 546h1v1h-1zM1830 546h1v1h-1z"/>
<line x1="0" y1="646.5" x2="1828" y2="646.5" stroke="#a0a0a0" stroke-dasharray="1 3"/>
<path fill="#a0a0a0" d="M1828 646h3v1h-3z"/>
<line x1="0" y1="731.5" x2="1828" y2="731.5" stroke="#a0a0a0" stroke-dasharray="1 3"/>
<path fill="#a0a0a0" d="M1828 731h3v1h-3z"/>
<line x1="0" y1="774.5" x2="1828" y2="774.5" stroke="#a0a0a0" stroke-dasharray="1 3"/>
<path fill="#a0a0a0" d="M1828 774h3v1h-3zM4 667h1v1h-1zM20 667h1v1h-1zM56 667h1v1h-1zM72 667h1v1h-1zM108 667h1v1h-1zM124 667h1v1h-1zM160 667h1v1h-1zM176 667h1v1h-1zM212 667h1v1h-1zM228 667h1v1h-1zM264 667h1v1h-1zM280 667h1v1h-1zM316 667h1v1h-1zM332 667h1v1h-1zM368 667h1v1h-1zM384 667h1v1h-1zM420 667h1v1h-1zM436 667h1v1h-1zM472 667h1v1h-1zM488 667h1v1h-1zM524 667h1v1h-1zM544 667h1v1h-1zM576 667h1v1h-1zM596 667h1v1h-1zM628 667h1v1h-1zM644 667h1v1h-1zM680 667h1v1h-1zM700 667h1v1h-1zM732 667h1v1h-1zM752 667h1v1h-1zM784 667h1v1h-1zM804 667h1v1h-1zM840 667h1v1h-1zM856 667h1v1h-1zM888 667h1v1h-1zM908 667h1v1h-1zM940 667h1v1h-1zM960 667h1v1h-1zM996 667h1v1h-1zM1012 667h1v1h-1zM1048 667h1v1h-1zM1064 667h1v1h-1zM1096 667h1v1h-1zM1116 667h1v1h-1zM1152 667h1v1h-1zM1168 667h1v1h-1zM1204 667h1v1h-1zM1220 667h1v1h-1zM1256 667h1v1h-1zM1272 667h1v1h-1zM1308 667h1v1h-1zM1324 667h1v1h-1zM1360 667h1v1h-1zM1376 667h1v1h-1zM1412 667h1v1h-1zM1428 667h1v1h-1zM1464 667h1v1h-1zM1480 667h1v1h-1zM1516 667h1v1h-1zM1532 667h1v1h-1zM1568 667h1v1h-1zM1584 667h1v1h-1zM1620 667h1v1h-1zM1636 667h1v1h-1zM1672 667h1v1h-1zM1688 667h1v1h-1zM1724 667h1v1h-1zM1740 667h1v1h-1zM1776 667h1v1h-1zM1796 667h1v1h-1zM36 667h1v1h-1zM88 667h1v1h-1zM140 667h1v1h-1zM196 667h1v1h-1zM244 667h1v1h-1zM296 667h1v1h-1zM352 667h1v1h-1zM404 667h1v1h-1zM456 667h1v1h-1zM508 667h1v1h-1zM560 667h1v1h-1zM612 667h1v1h-1zM664 667h1v1h-1zM716 667h1v1h-1zM768 667h1v1h-1zM820 667h1v1h-1zM872 667h1v1h-1zM924 667h1v1h-1zM976 667h1v1h-1zM1028 667h1v1h-1zM1080 667h1v1h-1zM1132 667h1v1h-1zM1184 667h1v1h-1zM1236 667h1v1h-1zM1288 667h1v1h-1zM1340 667h1v1h-1zM1396 667h1v1h-1zM1448 667h1v1h-1zM1500 667h1v1h-1zM1552 667h1v1h-1zM1604 667h1v1h-1zM1656 667h1v1h-1zM1708 667h1v1h-1zM1760 667h1v1h-1zM1812 667h1v1h-1zM1830 667h1v1h-1zM4 710h1v1h-1zM20 710h1v1h-1zM56 710h1v1h-1zM72 710h1v1h-1zM108 710h1v1h-1zM124 710h1v1h-1zM160 710h1v1h-1zM176 710h1v1h-1zM212 710h1v1h-1zM228 710h1v1h-1zM264 710h1v1h-1zM280 710h1v1h-1zM316 710h1v1h-1zM332 710h1v1h-1zM368 710h1v1h-1zM384 710h1v1h-1zM420 710h1v1h-1zM436 710h1v1h-1zM472 710h1v1h-1zM488 710h1v1h-1zM524 710h1v1h-1zM544 710h1v1h-1zM576 710h1v1h-1zM596 710h1v1h-1zM628 710h1v1h-1zM644 710h1v1h-1zM680 710h1v1h-1zM700 710h1v1h-1zM732 710h1v1h-1zM752 710h1v1h-1zM784 710h1v1h-1zM804 710h1v1h-1zM840 710h1v1h-1zM856 710h1v1h-1zM888 710h1v1h-1zM908 710h1v1h-1zM940 710h1v1h-1zM960 710h1v1h-1zM996 710h1v1h-1zM1012 710h1v1h-1zM1048 710h1v1h-1zM1064 710h1v1h-1zM1096 710h1v1h-1zM1116 710h1v1h-1zM1152 710h1v1h-1zM1168 710h1v1h-1zM1204 710h1v1h-1zM1220 710h1v1h-1zM1256 710h1v1h-1zM1272 710h1v1h-1zM1308 710h1v1h-1zM1324 710h1v1h-1zM1360 710h1v1h-1zM1376 710h1v1h-1zM1412 710h1v1h-1zM1428 710h1v1h-1zM1464 710h1v1h-1zM1480 710h1v1h-1zM1516 710h1v1h-1zM1532 710h1v1h-1zM1568 710h1v1h-1zM1584 710h1v1h-1zM1620 710h1v1h-1zM1636 710h1v1h-1zM1672 710h1v1h-1zM1688 710h1v1h-1zM1724 710h1v1h-1zM1740 710h1v1h-1zM1776 710h1v1h-1zM1796 710h1v1h-1zM36 710h1v1h-1zM88 710h1v1h-1zM140 710h1v1h-1zM196 710h1v1h-1zM244 710h1v1h-1zM296 710h1v1h-1zM352 710h1v1h-1zM404 710h1v1h-1zM456 710h1v1h-1zM508 710h1v1h-1zM560 710h1v1h-1zM612 710h1v1h-1zM664 710h1v1h-1zM716 710h1v1h-1zM768 710h1v1h-1zM820 710h1v1h-1zM872 710h1v1h-1zM924 710h1v1h-1zM976 710h1v1h-1zM1028 710h1v1h-1zM1080 710h1v1h-1zM1132 710h1v1h-1zM1184 710h1v1h-1zM1236 710h1v1h-1zM1288 710h1v1h-1zM1340 710h1v1h-1zM1396 710h1v1h-1zM1448 710h1v1h-1zM1500 710h1v1h-1zM1552 710h1v1h-1zM1604 710h1v1h-1zM1656 710h1v1h-1zM1708 710h1v1h-1zM1760 710h1v1h-1zM1812 710h1v1h-1zM1830 710h1v1h-1zM4 753h1v1h-1zM20 753h1v1h-1zM56 753h1v1h-1zM72 753h1v1h-1zM108 753h1v1h-1zM124 753h1v1h-1zM160 753h1v1h-1zM176 753h1v1h-1zM212 753h1v1h-1zM228 753h1v1h-1zM264 753h1v1h-1zM280 753h1v1h-1zM316 753h1v1h-1zM332 753h1v1h-1zM368 753h1v1h-1zM384 753h1v1h-1zM420 753h1v1h-1zM436 753h1v1h-1zM472 753h1v1h-1zM488 753h1v1h-1zM524 753h1v1h-1zM544 753h1v1h-1zM576 753h1v1h-1zM596 753h1v1h-1zM628 753h1v1h-1zM644 753h1v1h-1zM680 753h1v1h-1zM700 753h1v1h-1zM732 753h1v1h-1zM752 753h1v1h-1zM784 753h1v1h-1zM804 753h1v1h-1zM840 753h1v1h-1zM856 753h1v1h-1zM888 753h1v1h-1zM908 753h1v1h-1zM940 753h1v1h-1zM960 753h1v1h-1zM996 753h1v1h-1zM1012 753h1v1h-1zM1048 753h1v1h-1zM1064 753h1v1h-1zM1096 753h1v1h-1zM1116 753h1v1h-1zM1152 753h1v1h-1zM1168 753h1v1h-1zM1204 753h1v1h-1zM1220 753h1v1h-1zM1256 753h1v1h-1zM1272 753h1v1h-1zM1308 753h1v1h-1zM1324 753h1v1h-1zM1360 753h1v1h-1zM1376 753h1v1h-1zM1412 753h1v1h-1zM1428 753h1v1h-1zM1464 753h1v1h-1zM1480 753h1v1h-1zM1516 753h1v1h-1zM1532 753h1v1h-1zM1568 753h1v1h-1zM1584 753h1v1h-1zM1620 753h1v1h-1zM1636 753h1v1h-1zM1672 753h1v1h-1zM1688 753h1v1h-1zM1724 753h1v1h-1zM1740 753h1v1h-1zM1776 753h1v1h-1zM1796 753h1v1h-1zM36 753h1v1h-1zM88 753h1v1h-1zM140 753h1v1h-1zM196 753h1v1h-1zM244 753h1v1h-1zM296 753h1v1h-1zM352 753h1v1h-1zM404 753h1v1h-1zM456 753h1v1h-1zM508 753h1v1h-1zM560 753h1v1h-1zM612 753h1v1h-1zM664 753h1v1h-1zM716 753h1v1h-1zM768 753h1v1h-1zM820 753h1v1h-1zM872 753h1v1h-1zM924 753h1v1h-1zM976 753h1v1h-1zM1028 753h1v1h-1zM1080 753h1v1h-1zM1132 753h1v1h-1zM1184 753h1v1h-1zM1236 753h1v1h-1zM1288 753h1v1h-1zM1340 753h1v1h-1zM1396 753h1v1h-1zM1448 753h1v1h-1zM1500 753h1v1h-1zM1552 753h1v1h-1zM1604 753h1v1h-1zM1656 753h1v1h-1zM1708 753h1v1h-1zM1760 753h1v1h-1zM1812 753h1v1h-1zM1830 753h1v1h-1z"/>
<line x1="0" y1="905.5" x2="1828" y2="905.5" stroke="#a0a0a0" stroke-dasharray="1 3"/>
<path fill="#a0a0a0" d="M1828 905h3v1h-3z"/>
<line x1="0" y1="857.5" x2="1828" y2="857.5" stroke="#a0a0a0" stroke-dasharray="1 3"/>
<path fill="#a0a0a0" d="M1828 857h3v1h-3z"/>
<line x1="0" y1="808.5" x2="1828" y2="808.5" stroke="#a0a0a0" stroke-dasharray="1 3"/>
<path fill="#a0a0a0" d="M1828 808h3v1h-3zM4 881h1v1h-1zM20 881h1v1h-1zM56 881h1v1h-1zM72 881h1v1h-1zM108 881h1v1h-1zM124 881h1v1h-1zM160 881h1v1h-1zM176 881h1v1h-1zM212 881h1v1h-1zM228 881h1v1h-1zM264 881h1v1h-1zM280 881h1v1h-1zM316 881h1v1h-1zM332 881h1v1h-1zM368 881h1v1h-1zM384 881h1v1h-1zM420 881h1v1h-1zM436 881h1v1h-1zM472 881h1v1h-1zM488 881h1v1h-1zM524 881h1v1h-1zM544 881h1v1h-1zM576 881h1v1h-1zM596 881h1v1h-1zM628 881h1v1h-1zM644 881h1v1h-1zM680 881h1v1h-1zM700 881h1v1h-1zM732 881h1v1h-1zM752 881h1v1h-1zM784 881h1v1h-1zM804 881h1v1h-1zM840 881h1v1h-1zM856 881h1v1h-1zM888 881h1v1h-1zM908 881h1v1h-1zM940 881h1v1h-1zM960 881h1v1h-1zM996 881h1v1h-1zM1012 881h1v1h-1zM1048 881h1v1h-1zM1064 881h1v1h-1zM1096 881h1v1h-1zM1116 881h1v1h-1zM1152 881h1v1h-1zM1168 881h1v1h-1zM1204 881h1v1h-1zM1220 881h1v1h-1zM1256 881h1v1h-1zM1272 881h1v1h-1zM1308 881h1v1h-1zM1324 881h1v1h-1zM1360 881h1v1h-1zM1376 881h1v1h-1zM1412 881h1v1h-1zM1428 881h1v1h-1zM1464 881h1v1h-1zM1480 881h1v1h-1zM1516 881h1v1h-1zM1532 881h1v1h-1zM1568 881h1v1h-1zM1584 881h1v1h-1zM1620 881h1v1h-1zM1636 881h1v1h-1zM1672 881h1v1h-1zM1688 881h1v1h-1zM1724 881h1v1h-1zM1740 881h1v1h-1zM1776 881h1v1h-1zM1796 881h1v1h-1zM36 881h1v1h-1zM88 881h1v1h-1zM140 881h1v1h-1zM196 881h1v1h-1zM244 881h1v1h-1zM296 881h1v1h-1zM352 881h1v1h-1zM404 881h1v1h-1zM456 881h1v1h-1zM508 881h1v1h-1zM560 881h1v1h-1zM612 881h1v1h-1zM664 881h1v1h-1zM716 881h1v1h-1zM768 881h1v1h-1zM820 881h1v1h-1zM872 881h1v1h-1zM924 881h1v1h-1zM976 881h1v1h-1zM1028 881h1v1h-1zM1080 881h1v1h-1zM1132 881h1v1h-1zM1184 881h1v1h-1zM1236 881h1v1h-1zM1288 881h1v1h-1zM1340 881h1v1h-1zM1396 881h1v1h-1zM1448 881h1v1h-1zM1500 881h1v1h-1zM1552 881h1v1h-1zM1604 881h1v1h-1zM1656 881h1v1h-1zM1708 881h1v1h-1zM1760 881h1v1h-1zM1812 881h1v1h-1zM1830 881h1v1h-1zM4 832h1v1h-1zM20 832h1v1h-1zM56 832h1v1h-1zM72 832h1v1h-1zM108 832h1v1h-1zM124 832h1v1h-1zM160 832h1v1h-1zM176 832h1v1h-1zM212 832h1v1h-1zM228 832h1v1h-1zM264 832h1v1h-1zM280 832h1v1h-1zM316 832h1v1h-1zM332 832h1v1h-1zM368 832h1v1h-1zM384 832h1v1h-1zM420 832h1v1h-1zM436 832h1v1h-1zM472 832h1v1h-1zM488 832h1v1h-1zM524 832h1v1h-1zM544 832h1v1h-1zM576 832h1v1h-1zM596 832h1v1h-1zM628 832h1v1h-1zM644 832h1v1h-1zM680 832h1v1h-1zM700 832h1v1h-1zM732 832h1v1h-1zM752 832h1v1h-1zM784 832h1v1h-1zM804 832h1v1h-1zM840 832h1v1h-1zM856 832h1v1h-1zM888 832h1v1h-1zM908 832h1v1h-1zM940 832h1v1h-1zM960 832h1v1h-1zM996 832h1v1h-1zM1012 832h1v1h-1zM1048 832h1v1h-1zM1064 832h1v1h-1zM1096 832h1v1h-1zM1116 832h1v1h-1zM1152 832h1v1h-1zM1168 832h1v1h-1zM1204 832h1v1h-1zM1220 832h1v1h-1zM1256 832h1v1h-1zM1272 832h1v1h-1zM1308 832h1v1h-1zM1324 832h1v1h-1zM1360 832h1v1h-1zM1376 832h1v1h-1zM1412 832h1v1h-1zM1428 832h1v1h-1zM1464 832h1v1h-1zM1480 832h1v1h-1zM1516 832h1v1h-1zM1532 832h1v1h-1zM1568 832h1v1h-1zM1584 832h1v1h-1zM1620 832h1v1h-1zM1636 832h1v1h-1zM1672 832h1v1h-1zM1688 832h1v1h-1zM1724 832h1v1h-1zM1740 832h1v1h-1zM1776 832h1v1h-1zM1796 832h1v1h-1zM36 832h1v1h-1zM88 832h1v1h-1zM140 832h1v1h-1zM196 832h1v1h-1zM244 832h1v1h-1zM296 832h1v1h-1zM352 832h1v1h-1zM404 832h1v1h-1zM456 832h1v1h-1zM508 832h1v1h-1zM560 832h1v1h-1zM612 832h1v1h-1zM664 832h1v1h-1zM716 832h1v1h-1zM768 832h1v1h-1zM820 832h1v1h-1zM872 832h1v1h-1zM924 832h1v1h-1zM976 832h1v1h-1zM1028 832h1v1h-1zM1080 832h1v1h-1zM1132 832h1v1h-1zM1184 832h1v1h-1zM1236 832h1v1h-1zM1288 832h1v1h-1zM1340 832h1v1h-1zM1396 832h1v1h-1zM1448 832h1v1h-1zM1500 832h1v1h-1zM1552 832h1v1h-1zM1604 832h1v1h-1zM1656 832h1v1h-1zM1708 832h1v1h-1zM1760 832h1v1h-1zM1812 832h1v1h-1zM1830 832h1v1h-1z"/>
<line x1="0" y1="935.5" x2="1828" y2="935.5" stroke="#a0a0a0" stroke-dasharray="1 3"/>
<path fill="#a0a0a0" d="M1828 935h3v1h-3zM4 926h1v1h-1zM20 926h1v1h-1zM56 926h1v1h-1zM72 926h1v1h-1zM108 926h1v1h-1zM124 926h1v1h-1zM160 926h1v1h-1zM176 926h1v1h-1zM212 926h1v1h-1zM228 926h1v1h-1zM264 926h1v1h-1zM280 926h1v1h-1zM316 926h1v1h-1zM332 926h1v1h-1zM368 926h1v1h-1zM384 926h1v1h-1zM420 926h1v1h-1zM436 926h1v1h-1zM472 926h1v1h-1zM488 926h1v1h-1zM524 926h1v1h-1zM544 926h1v1h-1zM576 926h1v1h-1zM596 926h1v1h-1zM628 926h1v1h-1zM644 926h1v1h-1zM680 926h1v1h-1zM700 926h1v1h-1zM732 926h1v1h-1zM752 926h1v1h-1zM784 926h1v1h-1zM804 926h1v1h-1zM840 926h1v1h-1zM856 926h1v1h-1zM888 926h1v1h-1zM908 926h1v1h-1zM940 926h1v1h-1zM960 926h1v1h-1zM996 926h1v1h-1zM1012 926h1v1h-1zM1048 926h1v1h-1zM1064 926h1v1h-1zM1096 926h1v1h-1zM1116 926h1v1h-1zM1152 926h1v1h-1zM1168 926h1v1h-1zM1204 926h1v1h-1zM1220 926h1v1h-1zM1256 926h1v1h-1zM1272 926h1v1h-1zM1308 926h1v1h-1zM1324 926h1v1h-1zM1360 926h1v1h-1zM1376 926h1v1h-1zM1412 926h1v1h-1zM1428 926h1v1h-1zM1464 926h1v1h-1zM1480 926h1v1h-1zM1516 926h1v1h-1zM1532 926h1v1h-1zM1568 926h1v1h-1zM1584 926h1v1h-1zM1620 926h1v1h-1zM1636 926h1v1h-1zM1672 926h1v1h-1zM1688 926h1v1h-1zM1724 926h1v1h-1zM1740 926h1v1h-1zM1776 926h1v1h-1zM1796 926h1v1h-1zM36 926h1v1h-1zM88 926h1v1h-1zM140 926h1v1h-1zM196 926h1v1h-1zM244 926h1v1h-1zM296 926h1v1h-1zM352 926h1v1h-1zM404 926h1v1h-1zM456 926h1v1h-1zM508 926h1v1h-1zM560 926h1v1h-1zM612 926h1v1h-1zM664 926h1v1h-1zM716 926h1v1h-1zM768 926h1v1h-1zM820 926h1v1h-1zM872 926h1v1h-1zM924 926h1v1h-1zM976 926h1v1h-1zM1028 926h1v1h-1zM1080 926h1v1h-1zM1132 926h1v1h-1zM1184 926h1v1h-1zM1236 926h1v1h-1zM1288 926h1v1h-1zM1340 926h1v1h-1zM1396 926h1v1h-1zM1448 926h1v1h-1zM1500 926h1v1h-1zM1552 926h1v1h-1zM1604 926h1v1h-1zM1656 926h1v1h-1zM1708 926h1v1h-1zM1760 926h1v1h-1zM1812 926h1v1h-1zM1830 926h1v1h-1zM4 945h1v1h-1zM20 945h1v1h-1zM56 945h1v1h-1zM72 945h1v1h-1zM108 945h1v1h-1zM124 945h1v1h-1zM160 945h1v1h-1zM176 945h1v1h-1zM212 945h1v1h-1zM228 945h1v1h-1zM264 945h1v1h-1zM280 945h1v1h-1zM316 945h1v1h-1zM332 945h1v1h-1zM368 945h1v1h-1zM384 945h1v1h-1zM420 945h1v1h-1zM436 945h1v1h-1zM472 945h1v1h-1zM488 945h1v1h-1zM524 945h1v1h-1zM544 945h1v1h-1zM576 945h1v1h-1zM596 945h1v1h-1zM628 945h1v1h-1zM644 945h1v1h-1zM680 945h1v1h-1zM700 945h1v1h-1zM732 945h1v1h-1zM752 945h1v1h-1zM784 945h1v1h-1zM804 945h1v1h-1zM840 945h1v1h-1zM856 945h1v1h-1zM888 945h1v1h-1zM908 945h1v1h-1zM940 945h1v1h-1zM960 945h1v1h-1zM996 945h1v1h-1zM1012 945h1v1h-1zM1048 945h1v1h-1zM1064 945h1v1h-1zM1096 945h1v1h-1zM1116 945h1v1h-1zM1152 945h1v1h-1zM1168 945h1v1h-1zM1204 945h1v1h-1zM1220 945h1v1h-1zM1256 945h1v1h-1zM1272 945h1v1h-1zM1308 945h1v1h-1zM1324 945h1v1h-1zM1360 945h1v1h-1zM1376 945h1v1h-1zM1412 945h1v1h-1zM1428 945h1v1h-1zM1464 945h1v1h-1zM1480 945h1v1h-1zM1516 945h1v1h-1zM1532 945h1v1h-1zM1568 945h1v1h-1zM1584 945h1v1h-1zM1620 945h1v1h-1zM1636 945h1v1h-1zM1672 945h1v1h-1zM1688 945h1v1h-1zM1724 945h1v1h-1zM1740 945h1v1h-1zM1776 945h1v1h-1zM1796 945h1v1h-1zM36 945h1v1h-1zM88 945h1v1h-1zM140 945h1v1h-1zM196 945h1v1h-1zM244 945h1v1h-1zM296 945h1v1h-1zM352 945h1v1h-1zM404 945h1v1h-1zM456 945h1v1h-1zM508 945h1v1h-1zM560 945h1v1h-1zM612 945h1v1h-1zM664 945h1v1h-1zM716 945h1v1h-1zM768 945h1v1h-1zM820 945h1v1h-1zM872 945h1v1h-1zM924 945h1v1h-1zM976 945h1v1h-1zM1028 945h1v1h-1zM1080 945h1v1h-1zM1132 945h1v1h-1zM1184 945h1v1h-1zM1236 945h1v1h-1zM1288 945h1v1h-1zM1340 945h1v1h-1zM1396 945h1v1h-1zM1448 945h1v1h-1zM1500 945h1v1h-1zM1552 945h1v1h-1zM1604 945h1v1h-1zM1656 945h1v1h-1zM1708 945h1v1h-1zM1760 945h1v1h-1zM1812 945h1v1h-1zM1830 945h1v1h-1z"/>
<path fill="#e4e4e4" d="M0 471h1886v1h-1886z"/>
<path fill="#686868" d="M0 474h1886v1h-1886z"/>
<path fill="#e4e4e4" d="M0 625h1886v1h-1886z"/>
<path fill="#686868" d="M0 628h1886v1h-1886z"/>
<path fill="#e4e4e4" d="M0 797h1886v1h-1886z"/>
<path fill="#686868" d="M0 800h1886v1h-1886z"/>
<path fill="#e4e4e4" d="M0 913h1886v1h-1886z"/>
<path fill="#686868" d="M0 916h1886v1h-1886z"/>
<path fill="#000" d="M0 500h1831v1h-1831zM0 591h1831v1h-1831zM0 828h1831v1h-1831zM0 886h1831v1h-1831z"/>
<path fill="#ff0000" d="M192 953h1v1h-1z"/>
<path fill="#000" d="M196 953h1v1h-1zM216 953h1v1h-1z"/>
<path fill="#ff0000" d="M248 953h1v1h-1z"/>
<path fill="#000" d="M252 953h1v1h-1zM260 947h1v7h-1z"/>
<path fill="#ff0000" d="M264 952h1v2h-1zM268 953h1v1h-1zM272 953h1v1h-1z"/>
<path fill="#000" d="M276 953h1v1h-1z"/>
<path fill="#ff0000" d="M280 953h1v1h-1z"/>
<path fill="#000" d="M284 953h1v1h-1z"/>
<path fill="#ff0000" d="M288 953h1v1h-1z"/>
<path fill="#000" d="M292 953h1v1h-1zM296 953h1v1h-1zM300 953h1v1h-1zM304 953h1v1h-1z"/>
<path fill="#ff0000" d="M308 953h1v1h-1zM312 953h1v1h-1zM316 953h1v1h-1zM320 953h1v1h-1z"/>
<path fill="#000" d="M324 953h1v1h-1z"/>
<path fill="#ff0000" d="M332 953h1v1h-1z"/>
<path fill="#000" d="M340 953h1v1h-1zM344 953h1v1h-1zM348 953h1v1h-1zM352 953h1v1h-1zM360 953h1v1h-1z"/>
<path fill="#ff0000" d="M364 953h1v1h-1zM368 953h1v1h-1zM372 953h1v1h-1zM376 953h1v1h-1z"/>
<path fill="#000" d="M380 953h1v1h-1zM384 952h1v2h-1z"/>
<path fill="#ff0000" d="M388 952h1v2h-1z"/>
<path fill="#000" d="M392 953h1v1h-1zM400 953h1v1h-1zM404 953h1v1h-1z"/>
<path fill="#ff0000" d="M408 953h1v1h-1z"/>
<path fill="#000" d="M412 953h1v1h-1zM416 952h1v2h-1zM420 952h1v2h-1z"/>
<path fill="#ff0000" d="M424 953h1v1h-1z"/>
<path fill="#000" d="M428 951h1v3h-1zM432 949h1v5h-1z"/>
<path fill="#ff0000" d="M436 949h1v5h-1zM440 950h1v4h-1zM444 948h1v6h-1z"/>
<path fill="#000" d="M448 952h1v2h-1zM452 953h1v1h-1z"/>
<path fill="#ff0000" d="M456 953h1v1h-1z"/>
<path fill="#000" d="M460 952h1v2h-1z"/>
<path fill="#ff0000" d="M464 951h1v3h-1zM468 952h1v2h-1zM472 953h1v1h-1z"/>
<path fill="#000" d="M476 952h1v2h-1z"/>
<path fill="#ff0000" d="M480 953h1v1h-1zM484 953h1v1h-1z"/>
<path fill="#000" d="M488 952h1v2h-1z"/>
<path fill="#ff0000" d="M492 953h1v1h-1z"/>
<path fill="#000" d="M496 953h1v1h-1zM500 953h1v1h-1zM504 952h1v2h-1zM508 953h1v1h-1z"/>
<path fill="#ff0000" d="M512 953h1v1h-1zM516 953h1v1h-1zM520 953h1v1h-1zM524 952h1v2h-1zM528 953h1v1h-1z"/>
<path fill="#000" d="M532 953h1v1h-1z"/>
<path fill="#ff0000" d="M536 952h1v2h-1zM540 953h1v1h-1z"/>
<path fill="#000" d="M544 953h1v1h-1zM548 953h1v1h-1z"/>
<path fill="#ff0000" d="M552 952h1v2h-1zM556 953h1v1h-1zM560 952h1v2h-1zM564 952h1v2h-1zM568 952h1v2h-1z"/>
<path fill="#000" d="M572 953h1v1h-1z"/>
<path fill="#ff0000" d="M576 953h1v1h-1zM580 953h1v1h-1zM584 953h1v1h-1z"/>
<path fill="#000" d="M588 953h1v1h-1z"/>
<path fill="#ff0000" d="M592 953h1v1h-1zM596 953h1v1h-1zM600 953h1v1h-1z"/>
<path fill="#000" d="M608 953h1v1h-1zM612 953h1v1h-1z"/>
<path fill="#ff0000" d="M616 953h1v1h-1zM620 950h1v4h-1zM624 953h1v1h-1z"/>
<path fill="#000" d="M628 953h1v1h-1z"/>
<path fill="#ff0000" d="M632 952h1v2h-1zM636 952h1v2h-1z"/>
<path fill="#000" d="M640 953h1v1h-1zM644 951h1v3h-1z"/>
<path fill="#ff0000" d="M648 948h1v6h-1z"/>
<path fill="#000" d="M652 946h1v8h-1z"/>
<path fill="#ff0000" d="M656 946h1v8h-1z"/>
<path fill="#000" d="M660 941h1v13h-1zM664 944h1v10h-1zM668 945h1v9h-1z"/>
<path fill="#ff0000" d="M672 943h1v11h-1z"/>
<path fill="#000" d="M676 944h1v10h-1zM680 942h1v12h-1z"/>
<path fill="#ff0000" d="M684 947h1v7h-1z"/>
<path fill="#000" d="M688 946h1v8h-1zM692 947h1v7h-1zM696 938h1v16h-1zM700 942h1v12h-1z"/>
<path fill="#ff0000" d="M704 942h1v12h-1z"/>
<path fill="#000" d="M708 945h1v9h-1z"/>
<path fill="#ff0000" d="M712 948h1v6h-1zM716 938h1v16h-1z"/>
<path fill="#000" d="M720 948h1v6h-1zM724 945h1v9h-1zM728 946h1v8h-1zM732 940h1v14h-1z"/>
<path fill="#ff0000" d="M736 944h1v10h-1z"/>
<path fill="#000" d="M740 945h1v9h-1zM744 947h1v7h-1z"/>
<path fill="#ff0000" d="M748 948h1v6h-1zM752 947h1v7h-1z"/>
<path fill="#000" d="M756 946h1v8h-1z"/>
<path fill="#ff0000" d="M760 947h1v7h-1zM764 945h1v9h-1z"/>
<path fill="#000" d="M768 948h1v6h-1z"/>
<path fill="#ff0000" d="M772 948h1v6h-1z"/>
<path fill="#000" d="M776 941h1v13h-1z"/>
<path fill="#ff0000" d="M780 945h1v9h-1z"/>
<path fill="#000" d="M784 944h1v10h-1z"/>
<path fill="#ff0000" d="M788 945h1v9h-1z"/>
<path fill="#000" d="M792 948h1v6h-1z"/>
<path fill="#ff0000" d="M796 950h1v4h-1z"/>
<path fill="#000" d="M800 943h1v11h-1zM804 949h1v5h-1z"/>
<path fill="#ff0000" d="M808 949h1v5h-1z"/>
<path fill="#000" d="M812 949h1v5h-1z"/>
<path fill="#ff0000" d="M816 947h1v7h-1zM820 944h1v10h-1zM824 944h1v10h-1zM828 942h1v12h-1zM832 929h1v25h-1zM836 925h1v29h-1z"/>
<path fill="#000" d="M840 944h1v10h-1zM844 948h1v6h-1z"/>
<path fill="#ff0000" d="M848 947h1v7h-1z"/>
<path fill="#000" d="M852 947h1v7h-1z"/>
<path fill="#ff0000" d="M856 949h1v5h-1z"/>
<path fill="#000" d="M860 949h1v5h-1zM864 948h1v6h-1zM868 949h1v5h-1zM872 949h1v5h-1z"/>
<path fill="#ff0000" d="M876 948h1v6h-1z"/>
<path fill="#000" d="M880 949h1v5h-1z"/>
<path fill="#ff0000" d="M884 947h1v7h-1zM888 937h1v17h-1zM892 942h1v12h-1zM896 941h1v13h-1zM900 947h1v7h-1zM904 946h1v8h-1z"/>
<path fill="#000" d="M908 947h1v7h-1z"/>
<path fill="#ff0000" d="M912 950h1v4h-1z"/>
<path fill="#000" d="M916 951h1v3h-1z"/>
<path fill="#ff0000" d="M920 950h1v4h-1z"/>
<path fill="#000" d="M924 952h1v2h-1z"/>
<path fill="#ff0000" d="M928 949h1v5h-1z"/>
<path fill="#000" d="M932 949h1v5h-1zM936 950h1v4h-1zM940 949h1v5h-1z"/>
<path fill="#ff0000" d="M944 951h1v3h-1zM948 951h1v3h-1z"/>
<path fill="#000" d="M952 951h1v3h-1zM956 949h1v5h-1z"/>
<path fill="#ff0000" d="M960 952h1v2h-1z"/>
<path fill="#000" d="M964 951h1v3h-1zM968 946h1v8h-1zM972 948h1v6h-1zM976 950h1v4h-1zM980 950h1v4h-1zM984 947h1v7h-1z"/>
<path fill="#ff0000" d="M988 949h1v5h-1z"/>
<path fill="#000" d="M992 948h1v6h-1z"/>
<path fill="#ff0000" d="M996 949h1v5h-1zM1000 944h1v10h-1zM1004 950h1v4h-1z"/>
<path fill="#000" d="M1008 949h1v5h-1zM1012 948h1v6h-1z"/>
<path fill="#ff0000" d="M1016 946h1v8h-1z"/>
<path fill="#000" d="M1020 951h1v3h-1zM1024 950h1v4h-1z"/>
<path fill="#ff0000" d="M1028 942h1v12h-1z"/>
<path fill="#000" d="M1032 948h1v6h-1z"/>
<path fill="#ff0000" d="M1036 950h1v4h-1z"/>
<path fill="#000" d="M1040 946h1v8h-1zM1044 947h1v7h-1z"/>
<path fill="#ff0000" d="M1048 950h1v4h-1z"/>
<path fill="#000" d="M1052 951h1v3h-1zM1056 945h1v9h-1zM1060 951h1v3h-1z"/>
<path fill="#ff0000" d="M1064 947h1v7h-1z"/>
<path fill="#000" d="M1068 946h1v8h-1zM1072 950h1v4h-1z"/>
<path fill="#ff0000" d="M1076 948h1v6h-1z"/>
<path fill="#000" d="M1080 946h1v8h-1z"/>
<path fill="#ff0000" d="M1084 949h1v5h-1z"/>
<path fill="#000" d="M1088 951h1v3h-1z"/>
<path fill="#ff0000" d="M1092 950h1v4h-1zM1096 946h1v8h-1zM1100 950h1v4h-1z"/>
<path fill="#000" d="M1104 945h1v9h-1zM1108 951h1v3h-1z"/>
<path fill="#ff0000" d="M1112 952h1v2h-1zM1116 950h1v4h-1zM1120 952h1v2h-1z"/>
<path fill="#000" d="M1124 952h1v2h-1zM1128 951h1v3h-1zM1132 950h1v4h-1zM1136 948h1v6h-1zM1140 943h1v11h-1zM1144 950h1v4h-1z"/>
<path fill="#ff0000" d="M1148 949h1v5h-1zM1152 939h1v15h-1zM1156 945h1v9h-1z"/>
<path fill="#000" d="M1160 951h1v3h-1zM1164 951h1v3h-1z"/>
<path fill="#ff0000" d="M1168 952h1v2h-1z"/>
<path fill="#000" d="M1172 948h1v6h-1z"/>
<path fill="#ff0000" d="M1176 950h1v4h-1zM1180 951h1v3h-1z"/>
<path fill="#000" d="M1184 951h1v3h-1zM1188 952h1v2h-1z"/>
<path fill="#ff0000" d="M1192 950h1v4h-1z"/>
<path fill="#000" d="M1196 949h1v5h-1z"/>
<path fill="#ff0000" d="M1200 952h1v2h-1zM1204 951h1v3h-1zM1208 952h1v2h-1zM1212 953h1v1h-1z"/>
<path fill="#000" d="M1216 948h1v6h-1z"/>
<path fill="#ff0000" d="M1220 952h1v2h-1zM1224 952h1v2h-1z"/>
<path fill="#000" d="M1228 951h1v3h-1zM1232 952h1v2h-1z"/>
<path fill="#ff0000" d="M1236 952h1v2h-1z"/>
<path fill="#000" d="M1240 951h1v3h-1zM1244 951h1v3h-1zM1248 945h1v9h-1zM1252 951h1v3h-1z"/>
<path fill="#ff0000" d="M1256 951h1v3h-1zM1260 951h1v3h-1z"/>
<path fill="#000" d="M1264 947h1v7h-1zM1268 950h1v4h-1z"/>
<path fill="#ff0000" d="M1272 952h1v2h-1z"/>
<path fill="#000" d="M1276 953h1v1h-1z"/>
<path fill="#ff0000" d="M1280 949h1v5h-1zM1284 953h1v1h-1zM1288 953h1v1h-1zM1292 952h1v2h-1z"/>
<path fill="#000" d="M1296 952h1v2h-1zM1300 949h1v5h-1z"/>
<path fill="#ff0000" d="M1304 953h1v1h-1zM1308 953h1v1h-1zM1312 949h1v5h-1zM1316 953h1v1h-1zM1320 953h1v1h-1z"/>
<path fill="#000" d="M1324 953h1v1h-1z"/>
<path fill="#ff0000" d="M1328 953h1v1h-1zM1332 953h1v1h-1z"/>
<path fill="#000" d="M1336 952h1v2h-1z"/>
<path fill="#ff0000" d="M1340 952h1v2h-1z"/>
<path fill="#000" d="M1344 951h1v3h-1z"/>
<path fill="#ff0000" d="M1348 953h1v1h-1z"/>
<path fill="#000" d="M1352 953h1v1h-1z"/>
<path fill="#ff0000" d="M1356 951h1v3h-1z"/>
<path fill="#000" d="M1360 953h1v1h-1z"/>
<path fill="#ff0000" d="M1364 953h1v1h-1z"/>
<path fill="#000" d="M1368 952h1v2h-1z"/>
<path fill="#ff0000" d="M1372 952h1v2h-1z"/>
<path fill="#000" d="M1376 950h1v4h-1zM1380 939h1v15h-1z"/>
<path fill="#ff0000" d="M1384 949h1v5h-1z"/>
<path fill="#000" d="M1388 952h1v2h-1z"/>
<path fill="#ff0000" d="M1392 951h1v3h-1zM1396 952h1v2h-1zM1400 938h1v16h-1zM1404 951h1v3h-1zM1408 949h1v5h-1z"/>
<path fill="#000" d="M1412 953h1v1h-1zM1416 953h1v1h-1zM1420 953h1v1h-1zM1424 948h1v6h-1z"/>
<path fill="#ff0000" d="M1428 948h1v6h-1zM1432 952h1v2h-1zM1436 952h1v2h-1z"/>
<path fill="#000" d="M1440 953h1v1h-1zM1444 950h1v4h-1zM1448 940h1v14h-1z"/>
<path fill="#ff0000" d="M1452 950h1v4h-1z"/>
<path fill="#000" d="M1456 952h1v2h-1zM1460 950h1v4h-1zM1464 949h1v5h-1zM1468 946h1v8h-1z"/>
<path fill="#ff0000" d="M1472 950h1v4h-1zM1476 946h1v8h-1zM1480 943h1v11h-1z"/>
<path fill="#000" d="M1484 942h1v12h-1zM1488 949h1v5h-1z"/>
<path fill="#ff0000" d="M1492 952h1v2h-1zM1496 948h1v6h-1zM1500 951h1v3h-1z"/>
<path fill="#000" d="M1504 950h1v4h-1zM1508 952h1v2h-1zM1512 951h1v3h-1zM1516 951h1v3h-1z"/>
<path fill="#ff0000" d="M1520 951h1v3h-1z"/>
<path fill="#000" d="M1524 952h1v2h-1zM1528 953h1v1h-1z"/>
<path fill="#ff0000" d="M1532 950h1v4h-1zM1536 951h1v3h-1zM1540 950h1v4h-1z"/>
<path fill="#000" d="M1544 951h1v3h-1z"/>
<path fill="#ff0000" d="M1548 948h1v6h-1z"/>
<path fill="#000" d="M1552 952h1v2h-1z"/>
<path fill="#ff0000" d="M1556 952h1v2h-1zM1560 946h1v8h-1z"/>
<path fill="#000" d="M1564 951h1v3h-1zM1568 951h1v3h-1zM1572 951h1v3h-1z"/>
<path fill="#ff0000" d="M1576 951h1v3h-1zM1580 953h1v1h-1zM1584 953h1v1h-1zM1588 950h1v4h-1z"/>
<path fill="#000" d="M1592 951h1v3h-1zM1596 952h1v2h-1z"/>
<path fill="#ff0000" d="M1600 952h1v2h-1z"/>
<path fill="#000" d="M1604 952h1v2h-1z"/>
<path fill="#ff0000" d="M1608 953h1v1h-1z"/>
<path fill="#000" d="M1612 952h1v2h-1z"/>
<path fill="#ff0000" d="M1616 953h1v1h-1zM1620 949h1v5h-1zM1624 953h1v1h-1z"/>
<path fill="#000" d="M1628 953h1v1h-1z"/>
<path fill="#ff0000" d="M1632 952h1v2h-1z"/>
<path fill="#000" d="M1636 950h1v4h-1zM1640 951h1v3h-1zM1644 952h1v2h-1zM1648 953h1v1h-1z"/>
<path fill="#ff0000" d="M1652 951h1v3h-1zM1656 949h1v5h-1z"/>
<path fill="#000" d="M1660 949h1v5h-1z"/>
<path fill="#ff0000" d="M1664 952h1v2h-1zM1668 953h1v1h-1z"/>
<path fill="#000" d="M1672 941h1v13h-1zM1676 931h1v23h-1z"/>
<path fill="#ff0000" d="M1680 952h1v2h-1z"/>
<path fill="#000" d="M1684 952h1v2h-1z"/>
<path fill="#ff0000" d="M1688 950h1v4h-1zM1692 951h1v3h-1zM1696 953h1v1h-1z"/>
<path fill="#000" d="M1700 952h1v2h-1zM1704 951h1v3h-1zM1708 953h1v1h-1z"/>
<path fill="#ff0000" d="M1712 953h1v1h-1z"/>
<path fill="#000" d="M1716 953h1v1h-1z"/>
<path fill="#ff0000" d="M1720 952h1v2h-1zM1724 952h1v2h-1zM1728 938h1v16h-1z"/>
<path fill="#000" d="M1732 953h1v1h-1z"/>
<path fill="#ff0000" d="M1736 950h1v4h-1zM1740 944h1v10h-1zM1744 952h1v2h-1z"/>
<path fill="#000" d="M1748 953h1v1h-1zM1752 950h1v4h-1zM1756 941h1v13h-1zM1760 946h1v8h-1z"/>
<path fill="#ff0000" d="M1764 952h1v2h-1z"/>
<path fill="#000" d="M1768 951h1v3h-1z"/>
<path fill="#ff0000" d="M1772 946h1v8h-1zM1776 941h1v13h-1zM1780 952h1v2h-1z"/>
<path fill="#000" d="M1784 952h1v2h-1z"/>
<path fill="#ff0000" d="M1788 953h1v1h-1z"/>
<path fill="#000" d="M1792 945h1v9h-1z"/>
<path fill="#ff0000" d="M1796 948h1v6h-1zM1800 948h1v6h-1z"/>
<path fill="#000" d="M1804 952h1v2h-1z"/>
<path fill="#ff0000" d="M1808 949h1v5h-1z"/>
<path fill="#000" d="M1812 943h1v11h-1z"/>
<path fill="#ff0000" d="M1816 948h1v6h-1z"/>
<path fill="#000" d="M1820 951h1v3h-1zM1824 951h1v3h-1zM0 688h1831v1h-1831z"/>
<path fill="#ff00ff" d="M192 688h1v1h-1zM196 687h1v2h-1zM200 688h1v1h-1zM204 687h1v2h-1zM208 688h1v5h-1zM212 688h1v6h-1zM216 688h1v2h-1zM220 684h1v5h-1zM224 686h1v3h-1zM228 686h1v3h-1zM232 684h1v5h-1zM236 684h1v5h-1zM240 683h1v6h-1zM244 680h1v9h-1zM248 678h1v11h-1zM252 675h1v14h-1zM256 674h1v15h-1zM260 670h1v19h-1zM264 673h1v16h-1zM268 680h1v9h-1zM272 686h1v3h-1zM276 688h1v2h-1zM280 688h1v6h-1zM284 688h1v6h-1zM288 688h1v7h-1zM292 688h1v7h-1zM296 688h1v4h-1zM300 688h1v2h-1zM304 686h1v3h-1zM308 688h1v1h-1zM312 688h1v4h-1zM316 688h1v8h-1zM320 688h1v13h-1zM324 688h1v11h-1zM328 688h1v10h-1zM332 688h1v13h-1zM336 688h1v13h-1zM340 688h1v10h-1zM344 688h1v5h-1zM348 688h1v2h-1zM352 687h1v2h-1zM356 687h1v2h-1zM360 688h1v1h-1zM364 688h1v2h-1zM368 688h1v5h-1zM372 688h1v8h-1zM376 688h1v13h-1zM380 688h1v10h-1zM384 688h1v9h-1zM388 688h1v11h-1zM392 688h1v12h-1zM396 688h1v11h-1zM400 688h1v8h-1zM404 688h1v4h-1zM408 688h1v3h-1zM412 688h1v3h-1zM416 685h1v4h-1zM420 681h1v8h-1zM424 679h1v10h-1zM428 674h1v15h-1zM432 670h1v19h-1zM436 668h1v21h-1zM440 671h1v18h-1zM444 682h1v7h-1zM448 683h1v6h-1zM452 683h1v6h-1zM456 683h1v6h-1zM460 684h1v5h-1zM464 686h1v3h-1zM468 688h1v2h-1zM472 688h1v5h-1zM476 688h1v2h-1zM480 688h1v3h-1zM484 688h1v7h-1zM488 688h1v8h-1zM492 688h1v9h-1zM496 688h1v5h-1zM500 688h1v3h-1zM504 688h1v2h-1zM508 686h1v3h-1zM512 688h1v3h-1zM516 688h1v5h-1zM520 688h1v7h-1zM524 688h1v12h-1zM528 688h1v13h-1zM532 688h1v10h-1zM536 688h1v8h-1zM540 688h1v9h-1zM544 688h1v7h-1zM548 688h1v8h-1zM552 688h1v8h-1zM556 688h1v13h-1zM560 688h1v22h-1zM564 688h1v24h-1zM568 688h1v29h-1zM572 688h1v26h-1zM576 688h1v24h-1zM580 688h1v18h-1zM584 688h1v16h-1zM588 688h1v10h-1zM592 688h1v11h-1zM596 688h1v9h-1zM600 688h1v7h-1zM604 688h1v5h-1zM608 686h1v3h-1zM612 681h1v8h-1zM616 678h1v11h-1zM620 679h1v10h-1zM624 680h1v9h-1zM628 678h1v11h-1zM632 677h1v12h-1zM636 679h1v10h-1zM640 678h1v11h-1zM644 676h1v13h-1zM648 675h1v14h-1zM652 673h1v16h-1zM656 672h1v17h-1zM660 670h1v19h-1zM664 669h1v20h-1zM668 668h1v21h-1zM672 671h1v18h-1zM676 673h1v16h-1zM680 673h1v16h-1zM684 677h1v12h-1zM688 679h1v10h-1zM692 680h1v9h-1zM696 679h1v10h-1zM700 677h1v12h-1zM704 680h1v9h-1zM708 681h1v8h-1zM712 683h1v6h-1zM716 686h1v3h-1zM720 684h1v5h-1zM724 682h1v7h-1zM728 680h1v9h-1zM732 676h1v13h-1zM736 676h1v13h-1zM740 677h1v12h-1zM744 678h1v11h-1zM748 681h1v8h-1zM752 684h1v5h-1zM756 686h1v3h-1zM760 688h1v2h-1zM764 688h1v4h-1zM768 688h1v2h-1zM772 688h1v1h-1zM776 684h1v5h-1zM780 685h1v4h-1zM784 685h1v4h-1zM788 686h1v3h-1zM792 685h1v4h-1zM796 685h1v4h-1zM800 684h1v5h-1zM804 683h1v6h-1zM808 684h1v5h-1zM812 683h1v6h-1zM816 683h1v6h-1zM820 683h1v6h-1zM824 685h1v4h-1zM828 688h1v2h-1zM832 688h1v11h-1zM836 688h1v17h-1zM840 688h1v17h-1zM844 688h1v11h-1zM848 688h1v10h-1zM852 688h1v6h-1zM856 688h1v3h-1zM860 688h1v3h-1zM864 688h1v3h-1zM868 687h1v2h-1zM872 685h1v4h-1zM876 685h1v4h-1zM880 686h1v3h-1zM884 688h1v4h-1zM888 688h1v10h-1zM892 688h1v14h-1zM896 688h1v16h-1zM900 688h1v17h-1zM904 688h1v21h-1zM908 688h1v19h-1zM912 688h1v17h-1zM916 688h1v11h-1zM920 688h1v10h-1zM924 688h1v6h-1zM928 688h1v5h-1zM932 688h1v1h-1zM936 682h1v7h-1zM940 678h1v11h-1zM944 679h1v10h-1zM948 680h1v9h-1zM952 681h1v8h-1zM956 679h1v10h-1zM960 681h1v8h-1zM964 681h1v8h-1zM968 678h1v11h-1zM972 677h1v12h-1zM976 677h1v12h-1zM980 677h1v12h-1zM984 677h1v12h-1zM988 680h1v9h-1zM992 679h1v10h-1zM996 682h1v7h-1zM1000 688h1v1h-1zM1004 688h1v5h-1zM1008 688h1v5h-1zM1012 688h1v3h-1zM1016 688h1v2h-1zM1020 688h1v1h-1zM1024 684h1v5h-1zM1028 684h1v5h-1zM1032 683h1v6h-1zM1036 686h1v3h-1zM1040 688h1v1h-1zM1044 685h1v4h-1zM1048 685h1v4h-1zM1052 685h1v4h-1zM1056 686h1v3h-1zM1060 687h1v2h-1zM1064 688h1v4h-1zM1068 688h1v5h-1zM1072 688h1v5h-1zM1076 688h1v6h-1zM1080 688h1v3h-1zM1084 688h1v4h-1zM1088 688h1v4h-1zM1092 688h1v6h-1zM1096 688h1v11h-1zM1100 688h1v12h-1zM1104 688h1v12h-1zM1108 688h1v9h-1zM1112 688h1v7h-1zM1116 688h1v6h-1zM1120 688h1v7h-1zM1124 688h1v6h-1zM1128 688h1v3h-1zM1132 688h1v1h-1zM1136 686h1v3h-1zM1140 684h1v5h-1zM1144 682h1v7h-1zM1148 688h1v2h-1zM1152 688h1v6h-1zM1156 688h1v9h-1zM1160 688h1v8h-1zM1164 688h1v6h-1zM1168 688h1v7h-1zM1172 688h1v7h-1zM1176 688h1v14h-1zM1180 688h1v19h-1zM1184 688h1v17h-1zM1188 688h1v13h-1zM1192 688h1v13h-1zM1196 688h1v6h-1zM1200 688h1v3h-1zM1204 688h1v2h-1zM1208 688h1v2h-1zM1212 688h1v3h-1zM1216 686h1v3h-1zM1220 684h1v5h-1zM1224 687h1v2h-1zM1228 687h1v2h-1zM1232 687h1v2h-1zM1236 686h1v3h-1zM1240 683h1v6h-1zM1244 679h1v10h-1zM1248 675h1v14h-1zM1252 674h1v15h-1zM1256 676h1v13h-1zM1260 680h1v9h-1zM1264 680h1v9h-1zM1268 679h1v10h-1zM1272 682h1v7h-1zM1276 683h1v6h-1zM1280 686h1v3h-1zM1284 688h1v1h-1zM1288 688h1v2h-1zM1292 688h1v4h-1zM1296 688h1v5h-1zM1300 688h1v3h-1zM1304 688h1v4h-1zM1308 688h1v5h-1zM1312 688h1v6h-1zM1316 688h1v7h-1zM1320 688h1v8h-1zM1324 688h1v7h-1zM1328 688h1v6h-1zM1332 688h1v6h-1zM1336 688h1v4h-1zM1340 688h1v3h-1zM1344 688h1v2h-1zM1348 688h1v1h-1zM1352 688h1v1h-1zM1356 688h1v1h-1zM1360 688h1v1h-1zM1364 688h1v1h-1zM1368 686h1v3h-1zM1372 685h1v4h-1zM1376 682h1v7h-1zM1380 677h1v12h-1zM1384 676h1v13h-1zM1388 677h1v12h-1zM1392 679h1v10h-1zM1396 683h1v6h-1zM1400 687h1v2h-1zM1404 688h1v3h-1zM1408 688h1v5h-1zM1412 688h1v5h-1zM1416 688h1v4h-1zM1420 688h1v3h-1zM1424 686h1v3h-1zM1428 685h1v4h-1zM1432 684h1v5h-1zM1436 684h1v5h-1zM1440 685h1v4h-1zM1444 686h1v3h-1zM1448 686h1v3h-1zM1452 687h1v2h-1zM1456 687h1v2h-1zM1460 686h1v3h-1zM1464 685h1v4h-1zM1468 685h1v4h-1zM1472 688h1v1h-1zM1476 688h1v4h-1zM1480 688h1v6h-1zM1484 688h1v7h-1zM1488 688h1v7h-1zM1492 688h1v7h-1zM1496 688h1v8h-1zM1500 688h1v8h-1zM1504 688h1v8h-1zM1508 688h1v7h-1zM1512 688h1v5h-1zM1516 688h1v3h-1zM1520 688h1v3h-1zM1524 688h1v2h-1zM1528 688h1v1h-1zM1532 687h1v2h-1zM1536 688h1v1h-1zM1540 688h1v2h-1zM1544 688h1v3h-1zM1548 688h1v3h-1zM1552 688h1v1h-1zM1556 688h1v1h-1zM1560 688h1v1h-1zM1564 687h1v2h-1zM1568 685h1v4h-1zM1572 682h1v7h-1zM1576 682h1v7h-1zM1580 684h1v5h-1zM1584 686h1v3h-1zM1588 687h1v2h-1zM1592 687h1v2h-1zM1596 687h1v2h-1zM1600 687h1v2h-1zM1604 687h1v2h-1zM1608 687h1v2h-1zM1612 686h1v3h-1zM1616 687h1v2h-1zM1620 687h1v2h-1zM1624 688h1v2h-1zM1628 688h1v2h-1zM1632 688h1v2h-1zM1636 688h1v2h-1zM1640 688h1v1h-1zM1644 687h1v2h-1zM1648 685h1v4h-1zM1652 685h1v4h-1zM1656 686h1v3h-1zM1660 685h1v4h-1zM1664 687h1v2h-1zM1668 688h1v2h-1zM1672 688h1v2h-1zM1676 688h1v1h-1zM1680 688h1v1h-1zM1684 688h1v1h-1zM1688 688h1v1h-1zM1692 688h1v3h-1zM1696 688h1v4h-1zM1700 688h1v3h-1zM1704 688h1v2h-1zM1708 688h1v1h-1zM1712 687h1v2h-1zM1716 686h1v3h-1zM1720 686h1v3h-1zM1724 687h1v2h-1zM1728 687h1v2h-1zM1732 686h1v3h-1zM1736 686h1v3h-1zM1740 686h1v3h-1zM1744 687h1v2h-1zM1748 685h1v4h-1zM1752 685h1v4h-1zM1756 683h1v6h-1zM1760 682h1v7h-1zM1764 683h1v6h-1zM1768 682h1v7h-1zM1772 683h1v6h-1zM1776 685h1v4h-1zM1780 686h1v3h-1zM1784 686h1v3h-1zM1788 686h1v3h-1zM1792 686h1v3h-1zM1796 688h1v1h-1zM1800 688h1v3h-1zM1804 688h1v5h-1zM1808 688h1v6h-1zM1812 688h1v5h-1zM1816 688h1v5h-1zM1820 688h1v5h-1zM1824 688h1v3h-1z"/>
<polyline points="252.5,509.7 256.5,508.0 260.5,496.1 264.5,509.8 268.5,527.8 272.5,530.8 276.5,530.3 280.5,539.1 284.5,530.8 288.5,535.1 292.5,535.5 296.5,524.4 300.5,523.4 304.5,514.5 308.5,532.4 312.5,539.6 316.5,547.0 320.5,561.5 324.5,546.1 328.5,550.1 332.5,563.6 336.5,558.3 340.5,551.2 344.5,542.6 348.5,542.1 352.5,541.3 356.5,545.9 360.5,546.6 364.5,555.0 368.5,563.1 372.5,570.8 376.5,584.0 380.5,561.8 384.5,565.2 388.5,577.4 392.5,580.1 396.5,580.1 400.5,570.7 404.5,568.2 408.5,571.8 412.5,574.5 416.5,552.1 420.5,545.8 424.5,546.4 428.5,528.0 432.5,516.5 436.5,513.7 440.5,525.1 444.5,558.1 448.5,540.6 452.5,536.0 456.5,534.5 460.5,535.5 464.5,541.5 468.5,548.6 472.5,552.8 476.5,536.5 480.5,546.3 484.5,558.2 488.5,558.2 492.5,560.3 496.5,544.6 500.5,545.7 504.5,548.9 508.5,537.6 512.5,558.5 516.5,559.9 520.5,563.4 524.5,578.5 528.5,577.9 532.5,565.6 536.5,567.0 540.5,578.1 544.5,569.3 548.5,576.3 552.5,580.1 556.5,595.0 560.5,609.0 564.5,608.3 568.5,617.6 572.5,604.7 576.5,608.1 580.5,602.8 584.5,608.2 588.5,596.4 592.5,605.5 596.5,603.8 600.5,605.9 604.5,605.9 608.5,591.5 612.5,586.6 616.5,589.2 620.5,594.1 624.5,596.7 628.5,581.6 632.5,584.4 636.5,589.9 640.5,580.9 644.5,573.0 648.5,573.3 652.5,562.8 656.5,559.3 660.5,549.8 664.5,544.2 668.5,537.0 672.5,549.6 676.5,542.0 680.5,536.2 684.5,547.7 688.5,543.9 692.5,542.9 696.5,533.3 700.5,523.5 704.5,536.0 708.5,534.9 712.5,534.3 716.5,544.6 720.5,529.0 724.5,520.9 728.5,514.8 732.5,503.1 736.5,507.8 740.5,506.6 744.5,505.4 748.5,510.8 752.5,513.4 756.5,511.3 760.5,522.5 764.5,527.9 768.5,511.2 772.5,510.7 776.5,496.6 780.5,512.8 784.5,510.6 788.5,510.2 792.5,500.7 796.5,505.7 800.5,496.5 804.5,496.2 808.5,494.6 812.5,488.0 816.5,487.5 820.5,484.1 824.5,495.3 828.5,510.1 832.5,547.5 836.5,560.1 840.5,544.0 844.5,527.2 848.5,537.4 852.5,526.9 856.5,525.7 860.5,529.8 864.5,533.0 868.5,519.5 872.5,517.5 876.5,520.5 880.5,524.5 884.5,541.4 888.5,559.9 892.5,562.2 896.5,568.0 900.5,568.9 904.5,586.8 908.5,574.0 912.5,575.9 916.5,560.7 920.5,569.1 924.5,559.3 928.5,566.2 932.5,551.1 936.5,541.2 940.5,534.4 944.5,544.4 948.5,545.8 952.5,541.9 956.5,533.3 960.5,541.3 964.5,533.6 968.5,524.0 972.5,521.9 976.5,517.2 980.5,515.5 984.5,512.1 988.5,519.1 992.5,508.9 996.5,524.0 1000.5,539.3 1004.5,544.6 1008.5,532.1 1012.5,528.9 1016.5,526.5 1020.5,521.9 1024.5,511.7 1028.5,517.0 1032.5,513.0 1036.5,528.8 1040.5,525.4 1044.5,513.1 1048.5,517.0 1052.5,513.9 1056.5,516.4 1060.5,514.0 1064.5,537.4 1068.5,531.9 1072.5,525.7 1076.5,533.7 1080.5,519.7 1084.5,534.5 1088.5,530.4 1092.5,543.7 1096.5,558.4 1100.5,557.0 1104.5,558.2 1108.5,544.7 1112.5,547.2 1116.5,550.1 1120.5,556.2 1124.5,556.7 1128.5,541.6 1132.5,537.8 1136.5,537.8 1140.5,528.6 1144.5,524.3 1148.5,561.7 1152.5,566.7 1156.5,568.7 1160.5,558.8 1164.5,558.6 1168.5,566.7 1172.5,569.3 1176.5,595.3 1180.5,600.9 1184.5,588.1 1188.5,580.4 1192.5,588.9 1196.5,562.3 1200.5,569.7 1204.5,571.1 1208.5,573.6 1212.5,580.6 1216.5,559.9 1220.5,563.3 1224.5,573.1 1228.5,571.3 1232.5,572.0 1236.5,570.1 1240.5,554.2 1244.5,545.8 1248.5,534.7 1252.5,536.4 1256.5,542.0 1260.5,554.9 1264.5,539.7 1268.5,536.7 1272.5,544.8 1276.5,543.1 1280.5,551.9 1284.5,553.1 1288.5,555.9 1292.5,563.1 1296.5,558.4 1300.5,552.5 1304.5,559.6 1308.5,565.7 1312.5,572.3 1316.5,573.6 1320.5,579.3 1324.5,579.3 1328.5,575.1 1332.5,584.4 1336.5,568.2 1340.5,574.5 1344.5,568.4 1348.5,572.3 1352.5,570.4 1356.5,576.4 1360.5,573.2 1364.5,576.1 1368.5,561.0 1372.5,565.2 1376.5,540.3 1380.5,519.9 1384.5,527.4 1388.5,529.0 1392.5,532.0 1396.5,551.5 1400.5,556.7 1404.5,564.3 1408.5,565.0 1412.5,564.0 1416.5,560.7 1420.5,552.2 1424.5,535.4 1428.5,537.3 1432.5,531.5 1436.5,540.0 1440.5,541.3 1444.5,540.1 1448.5,541.1 1452.5,544.7 1456.5,543.6 1460.5,525.0 1464.5,525.0 1468.5,524.1 1472.5,556.0 1476.5,567.0 1480.5,568.8 1484.5,570.8 1488.5,572.7 1492.5,580.7 1496.5,585.1 1500.5,589.8 1504.5,592.0 1508.5,592.0 1512.5,582.9 1516.5,581.2 1520.5,589.0 1524.5,586.9 1528.5,574.7 1532.5,574.2 1536.5,585.0 1540.5,594.2 1544.5,598.5 1548.5,599.5 1552.5,574.5 1556.5,578.9 1560.5,584.1 1564.5,576.2 1568.5,548.9 1572.5,537.3 1576.5,544.3 1580.5,564.1 1584.5,562.4 1588.5,568.5 1592.5,564.4 1596.5,557.8 1600.5,561.6 1604.5,555.8 1608.5,556.6 1612.5,553.6 1616.5,558.2 1620.5,565.4 1624.5,573.3 1628.5,571.5 1632.5,577.9 1636.5,569.2 1640.5,555.7 1644.5,553.8 1648.5,535.3 1652.5,548.5 1656.5,550.1 1660.5,540.3 1664.5,557.4 1668.5,571.3 1672.5,558.3 1676.5,555.0 1680.5,553.4 1684.5,556.5 1688.5,562.5 1692.5,580.4 1696.5,581.6 1700.5,565.9 1704.5,559.8 1708.5,551.1 1712.5,548.5 1716.5,546.4 1720.5,555.8 1724.5,560.6 1728.5,553.2 1732.5,542.4 1736.5,544.1 1740.5,541.1 1744.5,550.3 1748.5,528.8 1752.5,524.5 1756.5,510.6 1760.5,506.7 1764.5,506.7 1768.5,496.6 1772.5,509.7 1776.5,516.3 1780.5,528.3 1784.5,511.7 1788.5,511.7 1792.5,508.6 1796.5,533.3 1800.5,544.1 1804.5,549.9 1808.5,556.4 1812.5,547.6 1816.5,554.5 1820.5,553.0 1824.5,538.8" fill="none" stroke="#0000ff" stroke-width="1"/>
<polyline points="192.5,688.5 196.5,687.0 200.5,688.0 204.5,687.1 208.5,693.0 212.5,695.6 216.5,692.5 220.5,685.4 224.5,686.5 228.5,686.5 232.5,683.5 236.5,681.8 240.5,679.8 244.5,673.9 248.5,667.9 252.5,661.0 256.5,655.8 260.5,645.9 264.5,643.4 268.5,648.0 272.5,652.9 276.5,656.7 280.5,662.6 284.5,664.1 288.5,666.8 292.5,669.2 296.5,667.1 300.5,665.7 304.5,661.4 308.5,663.7 312.5,667.9 316.5,673.5 320.5,682.8 324.5,684.3 328.5,686.9 332.5,694.0 336.5,697.1 340.5,696.8 344.5,693.5 348.5,690.8 352.5,688.7 356.5,688.6 360.5,688.7 364.5,691.2 368.5,695.4 372.5,700.8 376.5,709.6 380.5,709.7 384.5,710.6 388.5,716.0 392.5,720.5 396.5,723.0 400.5,721.9 404.5,720.0 408.5,719.3 412.5,719.2 416.5,713.2 420.5,706.8 424.5,702.2 428.5,693.1 432.5,682.2 436.5,673.6 440.5,670.6 444.5,679.5 448.5,679.2 452.5,677.2 456.5,675.5 460.5,674.8 464.5,676.4 468.5,680.1 472.5,684.2 476.5,681.7 480.5,683.3 484.5,688.8 488.5,692.7 492.5,696.0 496.5,693.4 500.5,691.9 504.5,691.7 508.5,688.0 512.5,692.3 516.5,695.8 520.5,699.3 524.5,707.8 528.5,713.2 532.5,713.3 536.5,713.5 540.5,717.6 544.5,717.7 548.5,720.2 552.5,722.9 556.5,731.9 560.5,747.8 564.5,757.7 568.5,772.5 572.5,777.8 576.5,782.9 580.5,783.3 584.5,786.6 588.5,783.7 592.5,787.7 596.5,788.2 600.5,788.6 604.5,787.0 608.5,780.4 612.5,772.8 616.5,767.5 620.5,765.2 624.5,763.9 628.5,757.8 632.5,753.7 636.5,752.6 640.5,748.5 644.5,742.4 648.5,737.4 652.5,730.3 656.5,723.7 660.5,715.8 664.5,708.2 668.5,700.4 672.5,698.3 676.5,694.4 680.5,689.8 684.5,689.8 688.5,688.6 692.5,687.5 696.5,684.0 700.5,678.4 704.5,677.8 708.5,677.2 712.5,676.8 716.5,679.2 720.5,676.5 724.5,672.1 728.5,667.1 732.5,659.1 736.5,654.9 740.5,652.2 744.5,650.4 748.5,650.8 752.5,652.3 756.5,653.3 760.5,656.6 764.5,660.4 768.5,658.6 772.5,657.7 776.5,652.1 780.5,652.0 784.5,651.7 788.5,652.1 792.5,649.4 796.5,649.1 800.5,645.8 804.5,644.2 808.5,643.2 812.5,640.4 816.5,639.0 820.5,637.3 824.5,638.7 828.5,642.8 832.5,654.5 836.5,666.9 840.5,671.4 844.5,669.0 848.5,670.7 852.5,668.1 856.5,666.2 860.5,666.4 864.5,667.8 868.5,664.1 872.5,661.1 876.5,660.3 880.5,661.1 884.5,666.3 888.5,676.2 892.5,684.1 896.5,691.7 900.5,697.3 904.5,708.3 908.5,712.5 912.5,715.8 916.5,713.6 920.5,714.8 924.5,712.5 928.5,713.0 932.5,708.4 936.5,701.4 940.5,693.9 944.5,691.7 948.5,690.6 952.5,688.5 956.5,684.2 960.5,683.5 964.5,680.5 968.5,675.0 972.5,670.7 976.5,666.1 980.5,662.6 984.5,659.3 988.5,659.0 992.5,655.5 996.5,657.0 1000.5,662.6 1004.5,668.4 1008.5,668.8 1012.5,668.3 1016.5,667.5 1020.5,665.8 1024.5,661.1 1028.5,659.5 1032.5,657.4 1036.5,660.0 1040.5,661.2 1044.5,658.0 1048.5,657.2 1052.5,656.1 1056.5,656.3 1060.5,656.3 1064.5,661.8 1068.5,664.5 1072.5,664.9 1076.5,667.4 1080.5,665.0 1084.5,667.3 1088.5,668.0 1092.5,672.2 1096.5,679.9 1100.5,685.1 1104.5,689.1 1108.5,688.3 1112.5,688.5 1116.5,689.4 1120.5,691.5 1124.5,693.2 1128.5,690.7 1132.5,688.0 1136.5,686.1 1140.5,682.5 1144.5,679.0 1148.5,685.7 1152.5,691.9 1156.5,696.9 1160.5,697.9 1164.5,698.5 1168.5,700.9 1172.5,703.2 1176.5,714.5 1180.5,724.9 1184.5,728.8 1188.5,729.1 1192.5,732.4 1196.5,727.0 1200.5,725.6 1204.5,724.6 1208.5,724.2 1212.5,726.3 1216.5,721.5 1220.5,718.9 1224.5,720.5 1228.5,720.6 1232.5,720.3 1236.5,719.2 1240.5,713.8 1244.5,707.2 1248.5,698.7 1252.5,693.1 1256.5,690.6 1260.5,692.5 1264.5,689.3 1268.5,686.0 1272.5,686.1 1276.5,685.7 1280.5,687.8 1284.5,689.7 1288.5,691.7 1292.5,695.1 1296.5,696.3 1300.5,695.7 1304.5,697.0 1308.5,699.3 1312.5,702.6 1316.5,705.0 1320.5,708.0 1324.5,709.8 1328.5,710.0 1332.5,712.2 1336.5,710.8 1340.5,711.1 1344.5,709.8 1348.5,709.6 1352.5,708.7 1356.5,709.1 1360.5,708.6 1364.5,708.6 1368.5,706.1 1372.5,704.8 1376.5,699.5 1380.5,690.7 1384.5,685.9 1388.5,682.9 1392.5,681.4 1396.5,684.2 1400.5,687.4 1404.5,691.3 1408.5,694.2 1412.5,695.9 1416.5,696.5 1420.5,695.4 1424.5,691.6 1428.5,689.1 1432.5,686.3 1436.5,685.7 1440.5,685.5 1444.5,685.3 1448.5,685.3 1452.5,685.8 1456.5,686.1 1460.5,683.6 1464.5,681.9 1468.5,680.7 1472.5,684.1 1476.5,688.3 1480.5,691.7 1484.5,694.3 1488.5,696.3 1492.5,698.9 1496.5,701.5 1500.5,703.9 1504.5,705.8 1508.5,706.8 1512.5,706.5 1516.5,705.7 1520.5,706.2 1524.5,706.0 1528.5,704.6 1532.5,703.3 1536.5,703.7 1540.5,705.2 1544.5,706.8 1548.5,707.7 1552.5,706.1 1556.5,705.3 1560.5,705.2 1564.5,704.2 1568.5,700.6 1572.5,696.3 1576.5,694.1 1580.5,695.1 1584.5,695.6 1588.5,696.7 1592.5,696.9 1596.5,696.1 1600.5,696.0 1604.5,695.2 1608.5,694.6 1612.5,693.8 1616.5,693.6 1620.5,694.2 1624.5,695.5 1628.5,696.1 1632.5,697.2 1636.5,697.1 1640.5,695.8 1644.5,694.6 1648.5,692.0 1652.5,691.3 1656.5,690.9 1660.5,689.7 1664.5,690.5 1668.5,692.8 1672.5,693.1 1676.5,692.9 1680.5,692.5 1684.5,692.5 1688.5,693.1 1692.5,695.8 1696.5,697.7 1700.5,697.5 1704.5,696.7 1708.5,695.1 1712.5,693.6 1716.5,692.3 1720.5,692.3 1724.5,692.6 1728.5,692.2 1732.5,690.9 1736.5,690.0 1740.5,689.2 1744.5,689.3 1748.5,687.3 1752.5,685.5 1756.5,682.4 1760.5,679.8 1764.5,678.2 1768.5,675.6 1772.5,675.0 1776.5,675.3 1780.5,676.7 1784.5,675.7 1788.5,675.1 1792.5,674.6 1796.5,676.5 1800.5,679.2 1804.5,681.9 1808.5,684.6 1812.5,685.7 1816.5,687.2 1820.5,688.2 1824.5,687.4" fill="none" stroke="#0000ff" stroke-width="1"/>
<polyline points="192.5,688.5 196.5,688.1 200.5,688.1 204.5,687.8 208.5,689.1 212.5,690.7 216.5,691.2 220.5,689.7 224.5,688.9 228.5,688.3 232.5,687.1 236.5,685.8 240.5,684.3 244.5,681.7 248.5,678.2 252.5,673.9 256.5,669.4 260.5,663.5 264.5,658.5 268.5,655.9 272.5,655.1 276.5,655.5 280.5,657.3 284.5,659.0 288.5,660.9 292.5,663.0 296.5,664.0 300.5,664.4 304.5,663.7 308.5,663.7 312.5,664.7 316.5,666.9 320.5,670.9 324.5,674.3 328.5,677.4 332.5,681.6 336.5,685.4 340.5,688.3 344.5,689.6 348.5,689.9 352.5,689.6 356.5,689.3 360.5,689.2 364.5,689.7 368.5,691.1 372.5,693.5 376.5,697.5 380.5,700.6 384.5,703.1 388.5,706.3 392.5,709.8 396.5,713.1 400.5,715.3 404.5,716.5 408.5,717.2 412.5,717.7 416.5,716.6 420.5,714.2 424.5,711.2 428.5,706.6 432.5,700.5 436.5,693.8 440.5,688.0 444.5,685.9 448.5,684.2 452.5,682.5 456.5,680.7 460.5,679.2 464.5,678.5 468.5,678.9 472.5,680.2 476.5,680.6 480.5,681.3 484.5,683.2 488.5,685.5 492.5,688.2 496.5,689.5 500.5,690.1 504.5,690.5 508.5,689.9 512.5,690.5 516.5,691.8 520.5,693.7 524.5,697.2 528.5,701.2 532.5,704.2 536.5,706.5 540.5,709.3 544.5,711.4 548.5,713.6 552.5,715.9 556.5,719.9 560.5,726.9 564.5,734.6 568.5,744.1 572.5,752.5 576.5,760.1 580.5,765.9 584.5,771.1 588.5,774.2 592.5,777.6 596.5,780.2 600.5,782.3 604.5,783.5 608.5,782.7 612.5,780.3 616.5,777.1 620.5,774.1 624.5,771.6 628.5,768.1 632.5,764.5 636.5,761.6 640.5,758.3 644.5,754.3 648.5,750.1 652.5,745.1 656.5,739.8 660.5,733.8 664.5,727.4 668.5,720.6 672.5,715.1 676.5,709.9 680.5,704.9 684.5,701.1 688.5,698.0 692.5,695.4 696.5,692.5 700.5,689.0 704.5,686.2 708.5,683.9 712.5,682.2 716.5,681.4 720.5,680.2 724.5,678.2 728.5,675.4 732.5,671.3 736.5,667.2 740.5,663.5 744.5,660.2 748.5,657.9 752.5,656.5 756.5,655.7 760.5,655.9 764.5,657.0 768.5,657.4 772.5,657.5 776.5,656.1 780.5,655.1 784.5,654.3 788.5,653.7 792.5,652.6 796.5,651.8 800.5,650.3 804.5,648.8 808.5,647.4 812.5,645.6 816.5,644.0 820.5,642.3 824.5,641.4 828.5,641.8 832.5,644.9 836.5,650.4 840.5,655.7 844.5,659.0 848.5,661.9 852.5,663.5 856.5,664.2 860.5,664.7 864.5,665.5 868.5,665.1 872.5,664.1 876.5,663.2 880.5,662.7 884.5,663.6 888.5,666.7 892.5,671.1 896.5,676.2 900.5,681.5 904.5,688.2 908.5,694.3 912.5,699.7 916.5,703.1 920.5,706.1 924.5,707.7 928.5,709.0 932.5,708.8 936.5,707.0 940.5,703.7 944.5,700.7 948.5,698.2 952.5,695.8 956.5,692.9 960.5,690.5 964.5,688.0 968.5,684.8 972.5,681.2 976.5,677.4 980.5,673.7 984.5,670.1 988.5,667.4 992.5,664.4 996.5,662.5 1000.5,662.6 1004.5,664.0 1008.5,665.2 1012.5,666.0 1016.5,666.4 1020.5,666.2 1024.5,664.9 1028.5,663.6 1032.5,662.0 1036.5,661.5 1040.5,661.5 1044.5,660.6 1048.5,659.8 1052.5,658.8 1056.5,658.2 1060.5,657.7 1064.5,658.7 1068.5,660.2 1072.5,661.4 1076.5,662.9 1080.5,663.4 1084.5,664.4 1088.5,665.3 1092.5,667.0 1096.5,670.2 1100.5,673.9 1104.5,677.7 1108.5,680.4 1112.5,682.4 1116.5,684.1 1120.5,686.0 1124.5,687.8 1128.5,688.5 1132.5,688.4 1136.5,687.8 1140.5,686.5 1144.5,684.6 1148.5,684.9 1152.5,686.6 1156.5,689.2 1160.5,691.4 1164.5,693.2 1168.5,695.1 1172.5,697.1 1176.5,701.5 1180.5,707.3 1184.5,712.7 1188.5,716.8 1192.5,720.7 1196.5,722.3 1200.5,723.1 1204.5,723.5 1208.5,723.6 1212.5,724.3 1216.5,723.6 1220.5,722.4 1224.5,722.0 1228.5,721.6 1232.5,721.3 1236.5,720.8 1240.5,719.0 1244.5,716.1 1248.5,711.7 1252.5,707.1 1256.5,703.0 1260.5,700.3 1264.5,697.6 1268.5,694.7 1272.5,692.5 1276.5,690.8 1280.5,690.1 1284.5,690.0 1288.5,690.4 1292.5,691.6 1296.5,692.7 1300.5,693.5 1304.5,694.4 1308.5,695.6 1312.5,697.3 1316.5,699.2 1320.5,701.4 1324.5,703.5 1328.5,705.1 1332.5,706.9 1336.5,707.9 1340.5,708.7 1344.5,709.0 1348.5,709.1 1352.5,709.0 1356.5,709.0 1360.5,708.9 1364.5,708.9 1368.5,708.2 1372.5,707.3 1376.5,705.4 1380.5,701.7 1384.5,697.8 1388.5,694.1 1392.5,690.9 1396.5,689.2 1400.5,688.8 1404.5,689.4 1408.5,690.6 1412.5,691.9 1416.5,693.1 1420.5,693.7 1424.5,693.1 1428.5,692.1 1432.5,690.7 1436.5,689.4 1440.5,688.5 1444.5,687.7 1448.5,687.1 1452.5,686.7 1456.5,686.6 1460.5,685.8 1464.5,684.8 1468.5,683.8 1472.5,683.9 1476.5,685.0 1480.5,686.7 1484.5,688.6 1488.5,690.5 1492.5,692.6 1496.5,694.8 1500.5,697.1 1504.5,699.3 1508.5,701.2 1512.5,702.5 1516.5,703.3 1520.5,704.0 1524.5,704.5 1528.5,704.6 1532.5,704.2 1536.5,704.1 1540.5,704.4 1544.5,705.0 1548.5,705.7 1552.5,705.8 1556.5,705.6 1560.5,705.5 1564.5,705.2 1568.5,704.0 1572.5,702.1 1576.5,700.1 1580.5,698.9 1584.5,698.0 1588.5,697.7 1592.5,697.5 1596.5,697.1 1600.5,696.9 1604.5,696.4 1608.5,696.0 1612.5,695.4 1616.5,695.0 1620.5,694.8 1624.5,694.9 1628.5,695.2 1632.5,695.7 1636.5,696.1 1640.5,696.0 1644.5,695.7 1648.5,694.7 1652.5,693.9 1656.5,693.1 1660.5,692.3 1664.5,691.8 1668.5,692.1 1672.5,692.3 1676.5,692.5 1680.5,692.5 1684.5,692.5 1688.5,692.6 1692.5,693.4 1696.5,694.5 1700.5,695.2 1704.5,695.6 1708.5,695.5 1712.5,695.0 1716.5,694.3 1720.5,693.8 1724.5,693.5 1728.5,693.2 1732.5,692.6 1736.5,692.0 1740.5,691.3 1744.5,690.8 1748.5,689.9 1752.5,688.8 1756.5,687.2 1760.5,685.4 1764.5,683.6 1768.5,681.6 1772.5,679.9 1776.5,678.8 1780.5,678.3 1784.5,677.6 1788.5,677.0 1792.5,676.4 1796.5,676.4 1800.5,677.1 1804.5,678.3 1808.5,679.9 1812.5,681.3 1816.5,682.8 1820.5,684.2 1824.5,685.0" fill="none" stroke="#ff0000" stroke-width="1"/>
<polyline points="192.5,854.2 196.5,845.5 200.5,870.5 204.5,849.9 208.5,892.9 212.5,880.0 216.5,839.2 220.5,813.5 224.5,857.3 228.5,851.1 232.5,828.9 236.5,831.3 240.5,824.2 244.5,817.1 248.5,821.4 252.5,817.6 256.5,814.6 260.5,812.3 264.5,824.5 268.5,843.1 272.5,849.2 276.5,848.5 280.5,858.3 284.5,853.5 288.5,862.5 292.5,863.5 296.5,846.3 300.5,856.7 304.5,833.4 308.5,864.0 312.5,877.7 316.5,890.5 320.5,884.8 324.5,857.8 328.5,865.4 332.5,893.3 336.5,884.3 340.5,872.1 344.5,856.2 348.5,855.1 352.5,853.8 356.5,861.0 360.5,861.0 364.5,869.8 368.5,879.3 372.5,898.4 376.5,895.6 380.5,864.2 384.5,871.2 388.5,899.1 392.5,883.1 396.5,883.1 400.5,873.6 404.5,871.1 408.5,876.4 412.5,877.0 416.5,850.0 420.5,838.0 424.5,830.5 428.5,814.2 432.5,817.8 436.5,819.4 440.5,829.2 444.5,866.7 448.5,843.6 452.5,836.7 456.5,834.5 460.5,835.6 464.5,842.4 468.5,859.7 472.5,869.7 476.5,844.4 480.5,859.2 484.5,879.5 488.5,879.5 492.5,878.6 496.5,843.4 500.5,855.2 504.5,862.9 508.5,834.7 512.5,889.7 516.5,892.5 520.5,894.1 524.5,905.5 528.5,895.0 532.5,877.7 536.5,880.4 540.5,901.8 544.5,884.9 548.5,889.2 552.5,896.2 556.5,899.9 560.5,901.5 564.5,899.2 568.5,905.5 572.5,896.1 576.5,903.4 580.5,899.6 584.5,905.0 588.5,896.8 592.5,903.9 596.5,902.2 600.5,901.9 604.5,901.9 608.5,890.9 612.5,882.5 616.5,886.6 620.5,893.3 624.5,901.2 628.5,877.8 632.5,881.9 636.5,900.3 640.5,881.7 644.5,854.4 648.5,854.0 652.5,825.4 656.5,820.1 660.5,809.4 664.5,810.7 668.5,811.6 672.5,834.0 676.5,819.9 680.5,815.1 684.5,833.9 688.5,827.4 692.5,825.8 696.5,814.4 700.5,817.5 704.5,835.2 708.5,836.9 712.5,837.0 716.5,857.4 720.5,824.2 724.5,811.9 728.5,811.5 732.5,817.3 736.5,825.4 740.5,823.0 744.5,821.0 748.5,827.3 752.5,829.8 756.5,826.3 760.5,836.5 764.5,841.7 768.5,815.5 772.5,815.4 776.5,813.2 780.5,836.5 784.5,838.7 788.5,837.7 792.5,815.1 796.5,822.7 800.5,817.7 804.5,817.0 808.5,847.6 812.5,837.2 816.5,836.2 820.5,830.5 824.5,841.1 828.5,855.7 832.5,897.4 836.5,899.4 840.5,880.7 844.5,856.2 848.5,868.6 852.5,851.6 856.5,849.6 860.5,854.2 864.5,852.7 868.5,829.4 872.5,825.7 876.5,822.6 880.5,827.1 884.5,848.2 888.5,877.2 892.5,887.1 896.5,887.0 900.5,888.6 904.5,903.4 908.5,887.4 912.5,890.4 916.5,875.4 920.5,887.4 924.5,877.1 928.5,886.8 932.5,866.7 936.5,849.5 940.5,822.5 944.5,832.7 948.5,835.4 952.5,827.9 956.5,812.4 960.5,827.4 964.5,812.7 968.5,811.9 972.5,812.4 976.5,809.4 980.5,814.1 984.5,810.2 988.5,827.3 992.5,812.0 996.5,834.3 1000.5,853.6 1004.5,860.8 1008.5,847.6 1012.5,844.7 1016.5,841.0 1020.5,831.7 1024.5,816.5 1028.5,847.4 1032.5,840.0 1036.5,857.6 1040.5,852.0 1044.5,829.3 1048.5,833.7 1052.5,827.9 1056.5,830.4 1060.5,826.3 1064.5,864.2 1068.5,855.3 1072.5,847.6 1076.5,861.4 1080.5,826.5 1084.5,846.2 1088.5,834.5 1092.5,865.1 1096.5,903.9 1100.5,895.5 1104.5,891.7 1108.5,863.8 1112.5,868.8 1116.5,874.6 1120.5,886.9 1124.5,887.9 1128.5,861.2 1132.5,853.9 1136.5,852.4 1140.5,827.6 1144.5,818.0 1148.5,893.8 1152.5,887.0 1156.5,891.6 1160.5,876.0 1164.5,875.7 1168.5,891.6 1172.5,897.0 1176.5,903.2 1180.5,904.8 1184.5,891.9 1188.5,885.5 1192.5,894.4 1196.5,870.6 1200.5,880.7 1204.5,875.3 1208.5,880.0 1212.5,894.1 1216.5,867.8 1220.5,871.5 1224.5,890.0 1228.5,882.7 1232.5,877.4 1236.5,873.0 1240.5,834.7 1244.5,817.3 1248.5,814.6 1252.5,818.0 1256.5,828.6 1260.5,855.5 1264.5,822.8 1268.5,816.7 1272.5,832.8 1276.5,829.4 1280.5,847.0 1284.5,851.1 1288.5,860.8 1292.5,886.4 1296.5,892.3 1300.5,877.8 1304.5,898.0 1308.5,902.3 1312.5,903.5 1316.5,897.9 1320.5,905.5 1324.5,901.8 1328.5,896.5 1332.5,900.6 1336.5,876.9 1340.5,888.9 1344.5,879.6 1348.5,888.1 1352.5,885.4 1356.5,895.2 1360.5,889.0 1364.5,890.5 1368.5,859.0 1372.5,868.3 1376.5,810.6 1380.5,813.7 1384.5,824.5 1388.5,826.8 1392.5,830.8 1396.5,861.0 1400.5,870.1 1404.5,884.3 1408.5,885.6 1412.5,884.3 1416.5,880.2 1420.5,870.7 1424.5,849.1 1428.5,855.2 1432.5,844.5 1436.5,853.9 1440.5,852.4 1444.5,850.2 1448.5,846.3 1452.5,852.0 1456.5,850.2 1460.5,816.8 1464.5,816.8 1468.5,815.9 1472.5,870.5 1476.5,902.8 1480.5,900.6 1484.5,897.2 1488.5,891.0 1492.5,902.9 1496.5,900.7 1500.5,904.9 1504.5,900.9 1508.5,898.4 1512.5,882.9 1516.5,881.9 1520.5,891.2 1524.5,888.4 1528.5,873.7 1532.5,865.7 1536.5,885.0 1540.5,895.2 1544.5,894.3 1548.5,896.7 1552.5,870.8 1556.5,879.3 1560.5,890.0 1564.5,881.5 1568.5,845.4 1572.5,825.9 1576.5,836.8 1580.5,873.4 1584.5,870.8 1588.5,879.3 1592.5,872.3 1596.5,861.3 1600.5,870.8 1604.5,861.1 1608.5,862.7 1612.5,858.1 1616.5,865.9 1620.5,889.8 1624.5,896.5 1628.5,893.2 1632.5,899.1 1636.5,877.0 1640.5,853.6 1644.5,850.2 1648.5,813.2 1652.5,839.6 1656.5,843.0 1660.5,823.0 1664.5,860.0 1668.5,897.4 1672.5,865.5 1676.5,858.4 1680.5,855.1 1684.5,862.2 1688.5,875.8 1692.5,902.2 1696.5,895.6 1700.5,875.5 1704.5,867.1 1708.5,851.8 1712.5,847.7 1716.5,844.5 1720.5,848.9 1724.5,858.5 1728.5,846.6 1732.5,827.7 1736.5,829.8 1740.5,824.8 1744.5,839.5 1748.5,809.2 1752.5,811.9 1756.5,810.7 1760.5,810.8 1764.5,817.7 1768.5,816.0 1772.5,826.7 1776.5,832.4 1780.5,845.4 1784.5,818.2 1788.5,818.8 1792.5,812.9 1796.5,842.8 1800.5,859.5 1804.5,888.6 1808.5,896.2 1812.5,881.3 1816.5,885.5 1820.5,883.4 1824.5,861.5" fill="none" stroke="#0000ff" stroke-width="1"/>
<polyline points="192.5,888.4 196.5,868.4 200.5,856.7 204.5,855.3 208.5,871.1 212.5,874.3 216.5,870.7 220.5,844.2 224.5,836.7 228.5,840.6 232.5,845.8 236.5,837.1 240.5,828.1 244.5,824.2 248.5,820.9 252.5,818.7 256.5,817.9 260.5,814.8 264.5,817.1 268.5,826.6 272.5,838.9 276.5,846.9 280.5,852.0 284.5,853.4 288.5,858.1 292.5,859.8 296.5,857.4 300.5,855.5 304.5,845.5 308.5,851.4 312.5,858.4 316.5,877.4 320.5,884.4 324.5,877.7 328.5,869.4 332.5,872.2 336.5,881.0 340.5,883.2 344.5,870.9 348.5,861.2 352.5,855.0 356.5,856.6 360.5,858.6 364.5,863.9 368.5,870.0 372.5,882.5 376.5,891.1 380.5,886.1 384.5,877.0 388.5,878.2 392.5,884.5 396.5,888.5 400.5,880.0 404.5,876.0 408.5,873.7 412.5,874.8 416.5,867.8 420.5,855.0 424.5,839.5 428.5,827.6 432.5,820.8 436.5,817.1 440.5,822.1 444.5,838.4 448.5,846.5 452.5,849.0 456.5,838.3 460.5,835.6 464.5,837.5 468.5,845.9 472.5,857.3 476.5,857.9 480.5,857.8 484.5,861.0 488.5,872.7 492.5,879.2 496.5,867.2 500.5,859.1 504.5,853.8 508.5,850.9 512.5,862.4 516.5,872.3 520.5,892.1 524.5,897.4 528.5,898.2 532.5,892.7 536.5,884.4 540.5,886.6 544.5,889.0 548.5,892.0 552.5,890.1 556.5,895.1 560.5,899.2 564.5,900.2 568.5,902.1 572.5,900.3 576.5,901.7 580.5,899.7 584.5,902.7 588.5,900.4 592.5,901.9 596.5,900.9 600.5,902.7 604.5,902.0 608.5,898.2 612.5,891.8 616.5,886.6 620.5,887.5 624.5,893.7 628.5,890.8 632.5,887.0 636.5,886.7 640.5,888.0 644.5,878.8 648.5,863.4 652.5,844.6 656.5,833.2 660.5,818.3 664.5,813.4 668.5,810.6 672.5,818.8 676.5,821.9 680.5,823.0 684.5,823.0 688.5,825.4 692.5,829.0 696.5,822.5 700.5,819.2 704.5,822.4 708.5,829.8 712.5,836.4 716.5,843.8 720.5,839.6 724.5,831.2 728.5,815.9 732.5,813.6 736.5,818.1 740.5,821.9 744.5,823.1 748.5,823.8 752.5,826.0 756.5,827.8 760.5,830.9 764.5,834.8 768.5,831.2 772.5,824.2 776.5,814.7 780.5,821.7 784.5,829.5 788.5,837.6 792.5,830.5 796.5,825.2 800.5,818.5 804.5,819.1 808.5,827.4 812.5,833.9 816.5,840.3 820.5,834.6 824.5,835.9 828.5,842.4 832.5,864.7 836.5,884.1 840.5,892.5 844.5,878.7 848.5,868.5 852.5,858.8 856.5,856.6 860.5,851.8 864.5,852.2 868.5,845.4 872.5,835.9 876.5,825.9 880.5,825.1 884.5,832.6 888.5,850.8 892.5,870.8 896.5,883.8 900.5,887.6 904.5,893.0 908.5,893.1 912.5,893.7 916.5,884.4 920.5,884.4 924.5,880.0 928.5,883.8 932.5,876.9 936.5,867.7 940.5,846.3 944.5,834.9 948.5,830.2 952.5,832.0 956.5,825.2 960.5,822.5 964.5,817.5 968.5,817.3 972.5,812.3 976.5,811.2 980.5,812.0 984.5,811.2 988.5,817.2 992.5,816.5 996.5,824.6 1000.5,833.3 1004.5,849.6 1008.5,854.0 1012.5,851.0 1016.5,844.4 1020.5,839.1 1024.5,829.8 1028.5,831.9 1032.5,834.6 1036.5,848.3 1040.5,849.9 1044.5,846.3 1048.5,838.3 1052.5,830.3 1056.5,830.7 1060.5,828.2 1064.5,840.3 1068.5,848.6 1072.5,855.7 1076.5,854.8 1080.5,845.2 1084.5,844.7 1088.5,835.8 1092.5,848.6 1096.5,867.8 1100.5,888.2 1104.5,897.0 1108.5,883.7 1112.5,874.8 1116.5,869.1 1120.5,876.8 1124.5,883.1 1128.5,878.7 1132.5,867.7 1136.5,855.8 1140.5,844.6 1144.5,832.7 1148.5,846.5 1152.5,866.3 1156.5,890.8 1160.5,884.9 1164.5,881.1 1168.5,881.1 1172.5,888.1 1176.5,897.3 1180.5,901.7 1184.5,900.0 1188.5,894.1 1192.5,890.6 1196.5,883.5 1200.5,881.9 1204.5,875.5 1208.5,878.7 1212.5,883.1 1216.5,880.6 1220.5,877.8 1224.5,876.4 1228.5,881.4 1232.5,883.4 1236.5,877.7 1240.5,861.7 1244.5,841.7 1248.5,822.2 1252.5,816.6 1256.5,820.4 1260.5,834.0 1264.5,835.6 1268.5,831.6 1272.5,824.1 1276.5,826.3 1280.5,836.4 1284.5,842.5 1288.5,853.0 1292.5,866.1 1296.5,879.8 1300.5,885.5 1304.5,889.4 1308.5,892.7 1312.5,901.3 1316.5,901.2 1320.5,902.3 1324.5,901.7 1328.5,901.3 1332.5,899.6 1336.5,891.3 1340.5,888.8 1344.5,881.8 1348.5,885.5 1352.5,884.4 1356.5,889.6 1360.5,889.9 1364.5,891.6 1368.5,879.5 1372.5,872.6 1376.5,845.9 1380.5,830.9 1384.5,816.3 1388.5,821.7 1392.5,827.4 1396.5,839.5 1400.5,854.0 1404.5,871.8 1408.5,880.0 1412.5,884.7 1416.5,883.4 1420.5,878.4 1424.5,866.7 1428.5,858.3 1432.5,849.6 1436.5,851.2 1440.5,850.3 1444.5,852.2 1448.5,849.6 1452.5,849.5 1456.5,849.5 1460.5,839.7 1464.5,828.0 1468.5,816.5 1472.5,834.4 1476.5,863.1 1480.5,891.3 1484.5,900.2 1488.5,896.3 1492.5,897.1 1496.5,898.2 1500.5,902.9 1504.5,902.2 1508.5,901.4 1512.5,894.1 1516.5,887.7 1520.5,885.4 1524.5,887.2 1528.5,884.4 1532.5,875.9 1536.5,874.8 1540.5,882.0 1544.5,891.5 1548.5,895.4 1552.5,887.2 1556.5,882.3 1560.5,880.0 1564.5,883.6 1568.5,872.3 1572.5,850.9 1576.5,836.0 1580.5,845.4 1584.5,860.3 1588.5,874.5 1592.5,874.1 1596.5,871.0 1600.5,868.1 1604.5,864.4 1608.5,864.8 1612.5,860.6 1616.5,862.2 1620.5,871.3 1624.5,884.1 1628.5,893.2 1632.5,896.3 1636.5,889.8 1640.5,876.6 1644.5,860.3 1648.5,839.0 1652.5,834.3 1656.5,831.9 1660.5,835.2 1664.5,842.0 1668.5,860.1 1672.5,874.3 1676.5,873.8 1680.5,859.7 1684.5,858.6 1688.5,864.4 1692.5,880.0 1696.5,891.2 1700.5,891.1 1704.5,879.4 1708.5,864.8 1712.5,855.5 1716.5,848.0 1720.5,847.0 1724.5,850.7 1728.5,851.4 1732.5,844.3 1736.5,834.7 1740.5,827.5 1744.5,831.4 1748.5,824.5 1752.5,820.2 1756.5,810.6 1760.5,811.2 1764.5,813.1 1768.5,814.8 1772.5,820.1 1776.5,825.0 1780.5,834.8 1784.5,832.0 1788.5,827.4 1792.5,816.6 1796.5,824.8 1800.5,838.4 1804.5,863.6 1808.5,881.4 1812.5,888.7 1816.5,887.7 1820.5,883.4 1824.5,876.8" fill="none" stroke="#ff0000" stroke-width="1"/>
<path fill="#ff0000" d="M192 149h1v20h-1zM191 149h1v1h-1zM193 158h2v1h-2z"/>
<path fill="#000" d="M196 131h1v48h-1zM195 155h1v1h-1zM197 149h2v1h-2z"/>
<path fill="#ff0000" d="M200 152h1v21h-1zM199 152h1v1h-1zM201 161h2v1h-2z"/>
<path fill="#000" d="M204 141h1v14h-1zM203 154h1v1h-1zM205 151h2v1h-2z"/>
<path fill="#ff0000" d="M208 159h1v43h-1zM207 165h1v1h-1zM209 192h2v1h-2z"/>
<path fill="#000" d="M212 180h1v18h-1zM211 188h1v1h-1zM213 183h2v1h-2zM216 146h1v48h-1zM215 182h1v1h-1zM217 153h2v1h-2zM220 119h1v51h-1zM219 160h1v1h-1zM221 123h2v1h-2z"/>
<path fill="#ff0000" d="M224 120h1v42h-1zM223 121h1v1h-1zM225 160h2v1h-2z"/>
<path fill="#000" d="M228 138h1v45h-1zM227 175h1v1h-1zM229 155h2v1h-2zM232 133h1v25h-1zM231 148h1v1h-1zM233 136h2v1h-2zM236 131h1v18h-1zM235 144h1v1h-1zM237 138h2v1h-2z"/>
<path fill="#ff0000" d="M240 123h1v25h-1zM239 129h1v1h-1zM241 132h2v1h-2z"/>
<path fill="#000" d="M244 94h1v48h-1zM243 135h1v1h-1zM245 103h2v1h-2z"/>
<path fill="#ff0000" d="M248 73h1v27h-1zM247 87h1v1h-1zM249 90h2v1h-2z"/>
<path fill="#000" d="M252 57h1v33h-1zM251 80h1v1h-1zM253 70h2v1h-2zM256 56h1v29h-1zM255 68h1v1h-1zM257 65h2v1h-2zM260 15h1v54h-1zM259 66h1v1h-1zM261 22h2v1h-2z"/>
<path fill="#ff0000" d="M264 28h1v31h-1zM263 31h1v1h-1zM265 45h2v1h-2zM268 57h1v49h-1zM267 57h1v1h-1zM269 79h2v1h-2zM272 68h1v41h-1zM271 79h1v1h-1zM273 85h2v1h-2z"/>
<path fill="#000" d="M276 74h1v28h-1zM275 98h1v1h-1zM277 84h2v1h-2z"/>
<path fill="#ff0000" d="M280 65h1v41h-1zM279 78h1v1h-1zM281 101h2v1h-2z"/>
<path fill="#000" d="M284 79h1v25h-1zM283 90h1v1h-1zM285 81h2v1h-2z"/>
<path fill="#ff0000" d="M288 75h1v21h-1zM287 80h1v1h-1zM289 89h2v1h-2z"/>
<path fill="#000" d="M292 80h1v30h-1zM291 100h1v1h-1zM293 90h2v1h-2zM296 64h1v22h-1zM295 84h1v1h-1zM297 64h2v1h-2zM300 57h1v19h-1zM299 64h1v1h-1zM301 62h2v1h-2zM304 39h1v35h-1zM303 68h1v1h-1zM305 39h2v1h-2z"/>
<path fill="#ff0000" d="M308 42h1v32h-1zM307 44h1v1h-1zM309 69h2v1h-2zM312 55h1v33h-1zM311 69h1v1h-1zM313 82h2v1h-2zM316 77h1v33h-1zM315 88h1v1h-1zM317 97h2v1h-2zM320 91h1v63h-1zM319 95h1v1h-1zM321 129h2v1h-2z"/>
<path fill="#000" d="M324 97h1v41h-1zM323 124h1v1h-1zM325 97h2v1h-2zM328 103h1v26h-1zM327 106h1v1h-1zM329 106h2v1h-2z"/>
<path fill="#ff0000" d="M332 127h1v21h-1zM331 130h1v1h-1zM333 139h2v1h-2z"/>
<path fill="#000" d="M336 121h1v29h-1zM335 144h1v1h-1zM337 128h2v1h-2zM340 99h1v38h-1zM339 128h1v1h-1zM341 114h2v1h-2zM344 92h1v22h-1zM343 112h1v1h-1zM345 95h2v1h-2zM348 83h1v17h-1zM347 95h1v1h-1zM349 94h2v1h-2zM352 87h1v30h-1zM351 113h1v1h-1zM353 92h2v1h-2z"/>
<path fill="#ff0000" d="M356 83h1v26h-1zM355 83h1v1h-1zM357 101h2v1h-2z"/>
<path fill="#000" d="M360 100h1v21h-1zM359 112h1v1h-1zM361 102h2v1h-2z"/>
<path fill="#ff0000" d="M364 103h1v21h-1zM363 103h1v1h-1zM365 117h2v1h-2zM368 109h1v27h-1zM367 122h1v1h-1zM369 133h2v1h-2zM372 122h1v32h-1zM371 137h1v1h-1zM373 149h2v1h-2zM376 151h1v43h-1zM375 151h1v1h-1zM377 182h2v1h-2z"/>
<path fill="#000" d="M380 145h1v43h-1zM379 173h1v1h-1zM381 146h2v1h-2zM384 154h1v22h-1zM383 155h1v1h-1zM385 154h2v1h-2z"/>
<path fill="#ff0000" d="M388 148h1v38h-1zM387 148h1v1h-1zM389 185h2v1h-2z"/>
<path fill="#000" d="M392 189h1v39h-1zM391 202h1v1h-1zM393 194h2v1h-2zM396 184h1v32h-1zM395 195h1v1h-1zM397 194h2v1h-2zM400 166h1v38h-1zM399 197h1v1h-1zM401 180h2v1h-2zM404 156h1v29h-1zM403 180h1v1h-1zM405 176h2v1h-2z"/>
<path fill="#ff0000" d="M408 164h1v35h-1zM407 176h1v1h-1zM409 184h2v1h-2z"/>
<path fill="#000" d="M412 185h1v41h-1zM411 225h1v1h-1zM413 190h2v1h-2zM416 146h1v50h-1zM415 188h1v1h-1zM417 156h2v1h-2zM420 140h1v38h-1zM419 158h1v1h-1zM421 145h2v1h-2z"/>
<path fill="#ff0000" d="M424 133h1v22h-1zM423 144h1v1h-1zM425 146h2v1h-2z"/>
<path fill="#000" d="M428 104h1v40h-1zM427 143h1v1h-1zM429 111h2v1h-2zM432 68h1v59h-1zM431 116h1v1h-1zM433 83h2v1h-2z"/>
<path fill="#ff0000" d="M436 57h1v33h-1zM435 73h1v1h-1zM437 76h2v1h-2zM440 78h1v56h-1zM439 92h1v1h-1zM441 93h2v1h-2zM444 108h1v80h-1zM443 113h1v1h-1zM445 159h2v1h-2z"/>
<path fill="#000" d="M448 104h1v54h-1zM447 156h1v1h-1zM449 118h2v1h-2zM452 105h1v35h-1zM451 123h1v1h-1zM453 106h2v1h-2z"/>
<path fill="#ff0000" d="M456 94h1v24h-1zM455 102h1v1h-1zM457 102h2v1h-2z"/>
<path fill="#000" d="M460 93h1v25h-1zM459 108h1v1h-1zM461 104h2v1h-2z"/>
<path fill="#ff0000" d="M464 100h1v28h-1zM463 110h1v1h-1zM465 116h2v1h-2zM468 106h1v44h-1zM467 116h1v1h-1zM469 130h2v1h-2zM472 116h1v29h-1zM471 120h1v1h-1zM473 139h2v1h-2z"/>
<path fill="#000" d="M476 104h1v37h-1zM475 133h1v1h-1zM477 105h2v1h-2z"/>
<path fill="#ff0000" d="M480 105h1v33h-1zM479 112h1v1h-1zM481 125h2v1h-2zM484 125h1v37h-1zM483 125h1v1h-1zM485 152h2v1h-2z"/>
<path fill="#000" d="M488 147h1v19h-1zM487 159h1v1h-1zM489 152h2v1h-2z"/>
<path fill="#ff0000" d="M492 150h1v18h-1zM491 154h1v1h-1zM493 157h2v1h-2z"/>
<path fill="#000" d="M496 126h1v32h-1zM495 145h1v1h-1zM497 127h2v1h-2zM500 126h1v20h-1zM499 141h1v1h-1zM501 129h2v1h-2zM504 112h1v23h-1zM503 134h1v1h-1zM505 134h2v1h-2zM508 105h1v47h-1zM507 128h1v1h-1zM509 113h2v1h-2z"/>
<path fill="#ff0000" d="M512 109h1v53h-1zM511 109h1v1h-1zM513 156h2v1h-2zM516 143h1v25h-1zM515 158h1v1h-1zM517 159h2v1h-2zM520 150h1v26h-1zM519 162h1v1h-1zM521 167h2v1h-2zM524 172h1v34h-1zM523 172h1v1h-1zM525 205h2v1h-2zM528 177h1v41h-1zM527 201h1v1h-1zM529 205h2v1h-2z"/>
<path fill="#000" d="M532 169h1v42h-1zM531 207h1v1h-1zM533 185h2v1h-2z"/>
<path fill="#ff0000" d="M536 172h1v23h-1zM535 180h1v1h-1zM537 188h2v1h-2zM540 190h1v31h-1zM539 198h1v1h-1zM541 216h2v1h-2z"/>
<path fill="#000" d="M544 199h1v29h-1zM543 215h1v1h-1zM545 202h2v1h-2zM548 215h1v29h-1zM547 225h1v1h-1zM549 220h2v1h-2z"/>
<path fill="#ff0000" d="M552 205h1v25h-1zM551 215h1v1h-1zM553 229h2v1h-2zM556 241h1v48h-1zM555 245h1v1h-1zM557 278h2v1h-2zM560 286h1v68h-1zM559 293h1v1h-1zM561 343h2v1h-2zM564 295h1v63h-1zM563 313h1v1h-1zM565 342h2v1h-2zM568 340h1v60h-1zM567 340h1v1h-1zM569 399h2v1h-2z"/>
<path fill="#000" d="M572 344h1v58h-1zM571 400h1v1h-1zM573 377h2v1h-2z"/>
<path fill="#ff0000" d="M576 359h1v39h-1zM575 380h1v1h-1zM577 396h2v1h-2zM580 378h1v24h-1zM579 378h1v1h-1zM581 387h2v1h-2zM584 386h1v32h-1zM583 394h1v1h-1zM585 416h2v1h-2z"/>
<path fill="#000" d="M588 389h1v17h-1zM587 396h1v1h-1zM589 395h2v1h-2z"/>
<path fill="#ff0000" d="M592 404h1v44h-1zM591 404h1v1h-1zM593 443h2v1h-2zM596 427h1v21h-1zM595 435h1v1h-1zM597 440h2v1h-2zM600 443h1v18h-1zM599 444h1v1h-1zM601 451h2v1h-2zM604 408h1v46h-1zM603 442h1v1h-1zM605 451h2v1h-2z"/>
<path fill="#000" d="M608 406h1v52h-1zM607 453h1v1h-1zM609 427h2v1h-2zM612 407h1v31h-1zM611 428h1v1h-1zM613 419h2v1h-2z"/>
<path fill="#ff0000" d="M616 419h1v19h-1zM615 420h1v1h-1zM617 428h2v1h-2zM620 428h1v34h-1zM619 428h1v1h-1zM621 446h2v1h-2zM624 432h1v29h-1zM623 440h1v1h-1zM625 456h2v1h-2z"/>
<path fill="#000" d="M628 430h1v28h-1zM627 457h1v1h-1zM629 432h2v1h-2z"/>
<path fill="#ff0000" d="M632 426h1v22h-1zM631 430h1v1h-1zM633 441h2v1h-2zM636 448h1v16h-1zM635 448h1v1h-1zM637 459h2v1h-2z"/>
<path fill="#000" d="M640 440h1v22h-1zM639 457h1v1h-1zM641 445h2v1h-2zM644 419h1v39h-1zM643 446h1v1h-1zM645 432h2v1h-2z"/>
<path fill="#ff0000" d="M648 413h1v27h-1zM647 414h1v1h-1zM649 433h2v1h-2z"/>
<path fill="#000" d="M652 407h1v30h-1zM651 425h1v1h-1zM653 416h2v1h-2z"/>
<path fill="#ff0000" d="M656 403h1v21h-1zM655 406h1v1h-1zM657 410h2v1h-2z"/>
<path fill="#000" d="M660 393h1v27h-1zM659 415h1v1h-1zM661 394h2v1h-2zM664 382h1v20h-1zM663 396h1v1h-1zM665 384h2v1h-2zM668 367h1v20h-1zM667 380h1v1h-1zM669 370h2v1h-2z"/>
<path fill="#ff0000" d="M672 381h1v24h-1zM671 382h1v1h-1zM673 392h2v1h-2z"/>
<path fill="#000" d="M676 377h1v35h-1zM675 407h1v1h-1zM677 378h2v1h-2zM680 360h1v26h-1zM679 375h1v1h-1zM681 367h2v1h-2z"/>
<path fill="#ff0000" d="M684 363h1v31h-1zM683 378h1v1h-1zM685 387h2v1h-2z"/>
<path fill="#000" d="M688 376h1v19h-1zM687 380h1v1h-1zM689 380h2v1h-2zM692 372h1v20h-1zM691 378h1v1h-1zM693 378h2v1h-2zM696 355h1v21h-1zM695 368h1v1h-1zM697 361h2v1h-2zM700 331h1v33h-1zM699 361h1v1h-1zM701 341h2v1h-2z"/>
<path fill="#ff0000" d="M704 351h1v15h-1zM703 351h1v1h-1zM705 360h2v1h-2z"/>
<path fill="#000" d="M708 347h1v33h-1zM707 371h1v1h-1zM709 358h2v1h-2z"/>
<path fill="#ff0000" d="M712 349h1v21h-1zM711 352h1v1h-1zM713 357h2v1h-2zM716 359h1v23h-1zM715 365h1v1h-1zM717 372h2v1h-2z"/>
<path fill="#000" d="M720 340h1v40h-1zM719 376h1v1h-1zM721 344h2v1h-2zM724 324h1v18h-1zM723 335h1v1h-1zM725 327h2v1h-2zM728 310h1v28h-1zM727 320h1v1h-1zM729 313h2v1h-2zM732 271h1v27h-1zM731 297h1v1h-1zM733 282h2v1h-2z"/>
<path fill="#ff0000" d="M736 266h1v35h-1zM735 281h1v1h-1zM737 288h2v1h-2z"/>
<path fill="#000" d="M740 285h1v29h-1zM739 295h1v1h-1zM741 285h2v1h-2zM744 280h1v18h-1zM743 285h1v1h-1zM745 282h2v1h-2z"/>
<path fill="#ff0000" d="M748 282h1v24h-1zM747 285h1v1h-1zM749 288h2v1h-2zM752 268h1v32h-1zM751 277h1v1h-1zM753 291h2v1h-2z"/>
<path fill="#000" d="M756 269h1v33h-1zM755 292h1v1h-1zM757 287h2v1h-2z"/>
<path fill="#ff0000" d="M760 281h1v24h-1zM759 289h1v1h-1zM761 299h2v1h-2zM764 285h1v24h-1zM763 301h1v1h-1zM765 305h2v1h-2z"/>
<path fill="#000" d="M768 266h1v43h-1zM767 305h1v1h-1zM769 274h2v1h-2z"/>
<path fill="#ff0000" d="M772 265h1v19h-1zM771 270h1v1h-1zM773 273h2v1h-2z"/>
<path fill="#000" d="M776 234h1v34h-1zM775 267h1v1h-1zM777 239h2v1h-2z"/>
<path fill="#ff0000" d="M780 226h1v33h-1zM779 231h1v1h-1zM781 258h2v1h-2z"/>
<path fill="#000" d="M784 244h1v18h-1zM783 257h1v1h-1zM785 253h2v1h-2z"/>
<path fill="#ff0000" d="M788 243h1v15h-1zM787 243h1v1h-1zM789 252h2v1h-2z"/>
<path fill="#000" d="M792 224h1v22h-1zM791 245h1v1h-1zM793 230h2v1h-2z"/>
<path fill="#ff0000" d="M796 223h1v22h-1zM795 225h1v1h-1zM797 235h2v1h-2z"/>
<path fill="#000" d="M800 202h1v34h-1zM799 235h1v1h-1zM801 212h2v1h-2zM804 210h1v14h-1zM803 219h1v1h-1zM805 211h2v1h-2z"/>
<path fill="#ff0000" d="M808 139h1v77h-1zM807 203h1v1h-1zM809 207h2v1h-2z"/>
<path fill="#000" d="M812 186h1v22h-1zM811 203h1v1h-1zM813 189h2v1h-2z"/>
<path fill="#ff0000" d="M816 178h1v10h-1zM815 184h1v1h-1zM817 187h2v1h-2zM820 153h1v32h-1zM819 176h1v1h-1zM821 177h2v1h-2zM824 168h1v30h-1zM823 169h1v1h-1zM825 187h2v1h-2zM828 177h1v41h-1zM827 187h1v1h-1zM829 201h2v1h-2zM832 200h1v55h-1zM831 201h1v1h-1zM833 251h2v1h-2zM836 237h1v47h-1zM835 251h1v1h-1zM837 274h2v1h-2z"/>
<path fill="#000" d="M840 239h1v36h-1zM839 271h1v1h-1zM841 246h2v1h-2zM844 209h1v25h-1zM843 233h1v1h-1zM845 210h2v1h-2z"/>
<path fill="#ff0000" d="M848 211h1v33h-1zM847 212h1v1h-1zM849 228h2v1h-2z"/>
<path fill="#000" d="M852 198h1v28h-1zM851 221h1v1h-1zM853 203h2v1h-2z"/>
<path fill="#ff0000" d="M856 193h1v18h-1zM855 195h1v1h-1zM857 200h2v1h-2z"/>
<path fill="#000" d="M860 196h1v20h-1zM859 210h1v1h-1zM861 207h2v1h-2zM864 203h1v19h-1zM863 215h1v1h-1zM865 212h2v1h-2zM868 180h1v22h-1zM867 201h1v1h-1zM869 181h2v1h-2zM872 172h1v16h-1zM871 177h1v1h-1zM873 176h2v1h-2z"/>
<path fill="#ff0000" d="M876 163h1v19h-1zM875 173h1v1h-1zM877 180h2v1h-2z"/>
<path fill="#000" d="M880 176h1v22h-1zM879 187h1v1h-1zM881 186h2v1h-2z"/>
<path fill="#ff0000" d="M884 185h1v36h-1zM883 185h1v1h-1zM885 212h2v1h-2zM888 212h1v53h-1zM887 213h1v1h-1zM889 248h2v1h-2zM892 230h1v24h-1zM891 234h1v1h-1zM893 253h2v1h-2zM896 260h1v31h-1zM895 260h1v1h-1zM897 266h2v1h-2zM900 258h1v24h-1zM899 266h1v1h-1zM901 268h2v1h-2zM904 271h1v47h-1zM903 276h1v1h-1zM905 314h2v1h-2z"/>
<path fill="#000" d="M908 292h1v32h-1zM907 317h1v1h-1zM909 294h2v1h-2z"/>
<path fill="#ff0000" d="M912 275h1v26h-1zM911 288h1v1h-1zM913 299h2v1h-2z"/>
<path fill="#000" d="M916 272h1v24h-1zM915 283h1v1h-1zM917 274h2v1h-2z"/>
<path fill="#ff0000" d="M920 270h1v34h-1zM919 276h1v1h-1zM921 294h2v1h-2z"/>
<path fill="#000" d="M924 275h1v13h-1zM923 287h1v1h-1zM925 277h2v1h-2z"/>
<path fill="#ff0000" d="M928 278h1v38h-1zM927 281h1v1h-1zM929 293h2v1h-2z"/>
<path fill="#000" d="M932 259h1v35h-1zM931 292h1v1h-1zM933 265h2v1h-2zM936 242h1v26h-1zM935 264h1v1h-1zM937 244h2v1h-2zM940 223h1v13h-1zM939 235h1v1h-1zM941 228h2v1h-2z"/>
<path fill="#ff0000" d="M944 225h1v26h-1zM943 225h1v1h-1zM945 248h2v1h-2zM948 232h1v22h-1zM947 242h1v1h-1zM949 251h2v1h-2z"/>
<path fill="#000" d="M952 241h1v29h-1zM951 253h1v1h-1zM953 243h2v1h-2zM956 221h1v29h-1zM955 243h1v1h-1zM957 225h2v1h-2z"/>
<path fill="#ff0000" d="M960 219h1v21h-1zM959 224h1v1h-1zM961 239h2v1h-2z"/>
<path fill="#000" d="M964 219h1v16h-1zM963 226h1v1h-1zM965 223h2v1h-2zM968 197h1v33h-1zM967 220h1v1h-1zM969 201h2v1h-2zM972 191h1v21h-1zM971 205h1v1h-1zM973 196h2v1h-2zM976 183h1v19h-1zM975 187h1v1h-1zM977 184h2v1h-2zM980 172h1v16h-1zM979 184h1v1h-1zM981 180h2v1h-2zM984 170h1v24h-1zM983 180h1v1h-1zM985 172h2v1h-2z"/>
<path fill="#ff0000" d="M988 160h1v27h-1zM987 163h1v1h-1zM989 181h2v1h-2z"/>
<path fill="#000" d="M992 153h1v27h-1zM991 172h1v1h-1zM993 157h2v1h-2z"/>
<path fill="#ff0000" d="M996 145h1v34h-1zM995 158h1v1h-1zM997 178h2v1h-2zM1000 176h1v44h-1zM999 178h1v1h-1zM1001 203h2v1h-2zM1004 204h1v14h-1zM1003 210h1v1h-1zM1005 212h2v1h-2z"/>
<path fill="#000" d="M1008 183h1v38h-1zM1007 213h1v1h-1zM1009 187h2v1h-2zM1012 172h1v21h-1zM1011 190h1v1h-1zM1013 180h2v1h-2z"/>
<path fill="#ff0000" d="M1016 167h1v23h-1zM1015 174h1v1h-1zM1017 175h2v1h-2z"/>
<path fill="#000" d="M1020 154h1v23h-1zM1019 173h1v1h-1zM1021 165h2v1h-2zM1024 134h1v33h-1zM1023 166h1v1h-1zM1025 141h2v1h-2z"/>
<path fill="#ff0000" d="M1028 100h1v50h-1zM1027 138h1v1h-1zM1029 148h2v1h-2z"/>
<path fill="#000" d="M1032 136h1v21h-1zM1031 151h1v1h-1zM1033 139h2v1h-2z"/>
<path fill="#ff0000" d="M1036 139h1v29h-1zM1035 144h1v1h-1zM1037 161h2v1h-2z"/>
<path fill="#000" d="M1040 150h1v28h-1zM1039 162h1v1h-1zM1041 154h2v1h-2zM1044 122h1v28h-1zM1043 149h1v1h-1zM1045 126h2v1h-2z"/>
<path fill="#ff0000" d="M1048 118h1v24h-1zM1047 122h1v1h-1zM1049 131h2v1h-2z"/>
<path fill="#000" d="M1052 120h1v19h-1zM1051 128h1v1h-1zM1053 124h2v1h-2zM1056 126h1v21h-1zM1055 133h1v1h-1zM1057 127h2v1h-2zM1060 115h1v14h-1zM1059 127h1v1h-1zM1061 122h2v1h-2z"/>
<path fill="#ff0000" d="M1064 126h1v37h-1zM1063 128h1v1h-1zM1065 153h2v1h-2z"/>
<path fill="#000" d="M1068 143h1v25h-1zM1067 156h1v1h-1zM1069 143h2v1h-2zM1072 126h1v28h-1zM1071 148h1v1h-1zM1073 131h2v1h-2z"/>
<path fill="#ff0000" d="M1076 130h1v20h-1zM1075 138h1v1h-1zM1077 142h2v1h-2z"/>
<path fill="#000" d="M1080 110h1v34h-1zM1079 136h1v1h-1zM1081 114h2v1h-2z"/>
<path fill="#ff0000" d="M1084 112h1v28h-1zM1083 114h1v1h-1zM1085 136h2v1h-2z"/>
<path fill="#000" d="M1088 125h1v23h-1zM1087 140h1v1h-1zM1089 128h2v1h-2z"/>
<path fill="#ff0000" d="M1092 119h1v35h-1zM1091 120h1v1h-1zM1093 149h2v1h-2zM1096 138h1v40h-1zM1095 153h1v1h-1zM1097 177h2v1h-2zM1100 163h1v20h-1zM1099 171h1v1h-1zM1101 175h2v1h-2z"/>
<path fill="#000" d="M1104 168h1v20h-1zM1103 182h1v1h-1zM1105 177h2v1h-2zM1108 155h1v35h-1zM1107 187h1v1h-1zM1109 155h2v1h-2z"/>
<path fill="#ff0000" d="M1112 150h1v20h-1zM1111 152h1v1h-1zM1113 159h2v1h-2zM1116 150h1v17h-1zM1115 153h1v1h-1zM1117 164h2v1h-2zM1120 155h1v21h-1zM1119 171h1v1h-1zM1121 174h2v1h-2z"/>
<path fill="#000" d="M1124 165h1v15h-1zM1123 179h1v1h-1zM1125 175h2v1h-2zM1128 152h1v24h-1zM1127 174h1v1h-1zM1129 153h2v1h-2zM1132 137h1v14h-1zM1131 149h1v1h-1zM1133 147h2v1h-2zM1136 146h1v16h-1zM1135 155h1v1h-1zM1137 147h2v1h-2zM1140 132h1v18h-1zM1139 148h1v1h-1zM1141 133h2v1h-2zM1144 122h1v14h-1zM1143 133h1v1h-1zM1145 126h2v1h-2z"/>
<path fill="#ff0000" d="M1148 125h1v61h-1zM1147 125h1v1h-1zM1149 181h2v1h-2zM1152 179h1v29h-1zM1151 185h1v1h-1zM1153 191h2v1h-2zM1156 182h1v21h-1zM1155 191h1v1h-1zM1157 195h2v1h-2z"/>
<path fill="#000" d="M1160 181h1v21h-1zM1159 193h1v1h-1zM1161 181h2v1h-2zM1164 168h1v19h-1zM1163 183h1v1h-1zM1165 181h2v1h-2z"/>
<path fill="#ff0000" d="M1168 177h1v20h-1zM1167 191h1v1h-1zM1169 195h2v1h-2z"/>
<path fill="#000" d="M1172 190h1v14h-1zM1171 200h1v1h-1zM1173 200h2v1h-2z"/>
<path fill="#ff0000" d="M1176 211h1v55h-1zM1175 211h1v1h-1zM1177 262h2v1h-2zM1180 242h1v40h-1zM1179 265h1v1h-1zM1181 281h2v1h-2z"/>
<path fill="#000" d="M1184 259h1v29h-1zM1183 281h1v1h-1zM1185 264h2v1h-2zM1188 249h1v19h-1zM1187 260h1v1h-1zM1189 253h2v1h-2z"/>
<path fill="#ff0000" d="M1192 256h1v42h-1zM1191 257h1v1h-1zM1193 277h2v1h-2z"/>
<path fill="#000" d="M1196 234h1v33h-1zM1195 266h1v1h-1zM1197 234h2v1h-2z"/>
<path fill="#ff0000" d="M1200 240h1v24h-1zM1199 247h1v1h-1zM1201 253h2v1h-2zM1204 249h1v22h-1zM1203 253h1v1h-1zM1205 257h2v1h-2zM1208 252h1v20h-1zM1207 254h1v1h-1zM1209 263h2v1h-2zM1212 266h1v18h-1zM1211 268h1v1h-1zM1213 282h2v1h-2z"/>
<path fill="#000" d="M1216 241h1v35h-1zM1215 272h1v1h-1zM1217 247h2v1h-2z"/>
<path fill="#ff0000" d="M1220 245h1v19h-1zM1219 246h1v1h-1zM1221 255h2v1h-2zM1224 265h1v27h-1zM1223 265h1v1h-1zM1225 280h2v1h-2z"/>
<path fill="#000" d="M1228 274h1v18h-1zM1227 287h1v1h-1zM1229 277h2v1h-2zM1232 278h1v10h-1zM1231 280h1v1h-1zM1233 279h2v1h-2z"/>
<path fill="#ff0000" d="M1236 266h1v16h-1zM1235 273h1v1h-1zM1237 276h2v1h-2z"/>
<path fill="#000" d="M1240 245h1v29h-1zM1239 271h1v1h-1zM1241 251h2v1h-2zM1244 230h1v12h-1zM1243 241h1v1h-1zM1245 236h2v1h-2zM1248 209h1v25h-1zM1247 230h1v1h-1zM1249 214h2v1h-2zM1252 215h1v18h-1zM1251 223h1v1h-1zM1253 217h2v1h-2z"/>
<path fill="#ff0000" d="M1256 210h1v18h-1zM1255 221h1v1h-1zM1257 226h2v1h-2zM1260 224h1v26h-1zM1259 224h1v1h-1zM1261 249h2v1h-2z"/>
<path fill="#000" d="M1264 219h1v17h-1zM1263 233h1v1h-1zM1265 221h2v1h-2zM1268 208h1v16h-1zM1267 222h1v1h-1zM1269 215h2v1h-2z"/>
<path fill="#ff0000" d="M1272 221h1v23h-1zM1271 222h1v1h-1zM1273 229h2v1h-2z"/>
<path fill="#000" d="M1276 220h1v13h-1zM1275 231h1v1h-1zM1277 226h2v1h-2z"/>
<path fill="#ff0000" d="M1280 223h1v25h-1zM1279 226h1v1h-1zM1281 241h2v1h-2zM1284 234h1v14h-1zM1283 238h1v1h-1zM1285 243h2v1h-2zM1288 239h1v13h-1zM1287 245h1v1h-1zM1289 248h2v1h-2zM1292 246h1v15h-1zM1291 250h1v1h-1zM1293 260h2v1h-2z"/>
<path fill="#000" d="M1296 251h1v11h-1zM1295 257h1v1h-1zM1297 254h2v1h-2zM1300 244h1v18h-1zM1299 260h1v1h-1zM1301 246h2v1h-2z"/>
<path fill="#ff0000" d="M1304 241h1v17h-1zM1303 246h1v1h-1zM1305 257h2v1h-2zM1308 251h1v19h-1zM1307 257h1v1h-1zM1309 267h2v1h-2zM1312 272h1v9h-1zM1311 273h1v1h-1zM1313 279h2v1h-2zM1316 271h1v17h-1zM1315 277h1v1h-1zM1317 281h2v1h-2zM1320 274h1v18h-1zM1319 276h1v1h-1zM1321 291h2v1h-2z"/>
<path fill="#000" d="M1324 282h1v12h-1zM1323 292h1v1h-1zM1325 291h2v1h-2z"/>
<path fill="#ff0000" d="M1328 286h1v8h-1zM1327 286h1v1h-1zM1329 287h2v1h-2zM1332 287h1v21h-1zM1331 291h1v1h-1zM1333 303h2v1h-2z"/>
<path fill="#000" d="M1336 286h1v24h-1zM1335 307h1v1h-1zM1337 287h2v1h-2z"/>
<path fill="#ff0000" d="M1340 276h1v22h-1zM1339 289h1v1h-1zM1341 297h2v1h-2z"/>
<path fill="#000" d="M1344 288h1v14h-1zM1343 295h1v1h-1zM1345 291h2v1h-2z"/>
<path fill="#ff0000" d="M1348 284h1v14h-1zM1347 291h1v1h-1zM1349 297h2v1h-2z"/>
<path fill="#000" d="M1352 295h1v12h-1zM1351 304h1v1h-1zM1353 295h2v1h-2z"/>
<path fill="#ff0000" d="M1356 295h1v17h-1zM1355 296h1v1h-1zM1357 304h2v1h-2z"/>
<path fill="#000" d="M1360 293h1v11h-1zM1359 303h1v1h-1zM1361 301h2v1h-2z"/>
<path fill="#ff0000" d="M1364 304h1v8h-1zM1363 304h1v1h-1zM1365 305h2v1h-2z"/>
<path fill="#000" d="M1368 291h1v19h-1zM1367 309h1v1h-1zM1369 292h2v1h-2z"/>
<path fill="#ff0000" d="M1372 291h1v13h-1zM1371 292h1v1h-1zM1373 297h2v1h-2z"/>
<path fill="#000" d="M1376 270h1v27h-1zM1375 295h1v1h-1zM1377 271h2v1h-2zM1380 237h1v29h-1zM1379 264h1v1h-1zM1381 241h2v1h-2z"/>
<path fill="#ff0000" d="M1384 241h1v11h-1zM1383 243h1v1h-1zM1385 249h2v1h-2z"/>
<path fill="#000" d="M1388 247h1v13h-1zM1387 254h1v1h-1zM1389 251h2v1h-2z"/>
<path fill="#ff0000" d="M1392 245h1v9h-1zM1391 250h1v1h-1zM1393 253h2v1h-2zM1396 259h1v19h-1zM1395 259h1v1h-1zM1397 277h2v1h-2zM1400 273h1v12h-1zM1399 279h1v1h-1zM1401 284h2v1h-2zM1404 276h1v21h-1zM1403 284h1v1h-1zM1405 295h2v1h-2zM1408 288h1v10h-1zM1407 295h1v1h-1zM1409 296h2v1h-2z"/>
<path fill="#000" d="M1412 291h1v9h-1zM1411 296h1v1h-1zM1413 295h2v1h-2zM1416 286h1v8h-1zM1415 293h1v1h-1zM1417 292h2v1h-2zM1420 283h1v11h-1zM1419 288h1v1h-1zM1421 284h2v1h-2zM1424 264h1v20h-1zM1423 282h1v1h-1zM1425 265h2v1h-2z"/>
<path fill="#ff0000" d="M1428 262h1v8h-1zM1427 265h1v1h-1zM1429 267h2v1h-2zM1432 255h1v9h-1zM1431 259h1v1h-1zM1433 260h2v1h-2zM1436 260h1v14h-1zM1435 265h1v1h-1zM1437 268h2v1h-2z"/>
<path fill="#000" d="M1440 264h1v8h-1zM1439 271h1v1h-1zM1441 269h2v1h-2zM1444 250h1v20h-1zM1443 268h1v1h-1zM1445 268h2v1h-2zM1448 264h1v12h-1zM1447 274h1v1h-1zM1449 269h2v1h-2z"/>
<path fill="#ff0000" d="M1452 270h1v11h-1zM1451 271h1v1h-1zM1453 272h2v1h-2z"/>
<path fill="#000" d="M1456 264h1v10h-1zM1455 272h1v1h-1zM1457 271h2v1h-2zM1460 253h1v20h-1zM1459 271h1v1h-1zM1461 254h2v1h-2zM1464 253h1v9h-1zM1463 254h1v1h-1zM1465 254h2v1h-2zM1468 251h1v9h-1zM1467 257h1v1h-1zM1469 253h2v1h-2z"/>
<path fill="#ff0000" d="M1472 259h1v19h-1zM1471 260h1v1h-1zM1473 277h2v1h-2zM1476 275h1v16h-1zM1475 278h1v1h-1zM1477 290h2v1h-2zM1480 286h1v8h-1zM1479 289h1v1h-1zM1481 292h2v1h-2z"/>
<path fill="#000" d="M1484 286h1v12h-1zM1483 297h1v1h-1zM1485 294h2v1h-2zM1488 296h1v8h-1zM1487 302h1v1h-1zM1489 296h2v1h-2z"/>
<path fill="#ff0000" d="M1492 298h1v9h-1zM1491 299h1v1h-1zM1493 305h2v1h-2zM1496 306h1v8h-1zM1495 307h1v1h-1zM1497 310h2v1h-2zM1500 300h1v17h-1zM1499 307h1v1h-1zM1501 316h2v1h-2z"/>
<path fill="#000" d="M1504 308h1v14h-1zM1503 321h1v1h-1zM1505 319h2v1h-2zM1508 307h1v17h-1zM1507 321h1v1h-1zM1509 319h2v1h-2zM1512 313h1v21h-1zM1511 318h1v1h-1zM1513 314h2v1h-2zM1516 306h1v14h-1zM1515 314h1v1h-1zM1517 313h2v1h-2z"/>
<path fill="#ff0000" d="M1520 315h1v13h-1zM1519 318h1v1h-1zM1521 321h2v1h-2z"/>
<path fill="#000" d="M1524 311h1v11h-1zM1523 321h1v1h-1zM1525 320h2v1h-2zM1528 310h1v10h-1zM1527 317h1v1h-1zM1529 314h2v1h-2z"/>
<path fill="#ff0000" d="M1532 298h1v16h-1zM1531 308h1v1h-1zM1533 313h2v1h-2zM1536 314h1v14h-1zM1535 314h1v1h-1zM1537 323h2v1h-2zM1540 323h1v15h-1zM1539 325h1v1h-1zM1541 333h2v1h-2z"/>
<path fill="#000" d="M1544 333h1v11h-1zM1543 340h1v1h-1zM1545 338h2v1h-2z"/>
<path fill="#ff0000" d="M1548 325h1v17h-1zM1547 332h1v1h-1zM1549 339h2v1h-2z"/>
<path fill="#000" d="M1552 324h1v17h-1zM1551 338h1v1h-1zM1553 327h2v1h-2z"/>
<path fill="#ff0000" d="M1556 328h1v9h-1zM1555 328h1v1h-1zM1557 331h2v1h-2zM1560 323h1v15h-1zM1559 328h1v1h-1zM1561 336h2v1h-2z"/>
<path fill="#000" d="M1564 328h1v14h-1zM1563 338h1v1h-1zM1565 332h2v1h-2zM1568 315h1v23h-1zM1567 332h1v1h-1zM1569 315h2v1h-2zM1572 305h1v15h-1zM1571 318h1v1h-1zM1573 306h2v1h-2z"/>
<path fill="#ff0000" d="M1576 308h1v9h-1zM1575 309h1v1h-1zM1577 311h2v1h-2zM1580 310h1v20h-1zM1579 310h1v1h-1zM1581 328h2v1h-2zM1584 323h1v11h-1zM1583 328h1v1h-1zM1585 327h2v1h-2zM1588 328h1v9h-1zM1587 329h1v1h-1zM1589 333h2v1h-2z"/>
<path fill="#000" d="M1592 322h1v15h-1zM1591 333h1v1h-1zM1593 330h2v1h-2zM1596 324h1v10h-1zM1595 329h1v1h-1zM1597 326h2v1h-2z"/>
<path fill="#ff0000" d="M1600 321h1v11h-1zM1599 322h1v1h-1zM1601 329h2v1h-2z"/>
<path fill="#000" d="M1604 323h1v9h-1zM1603 329h1v1h-1zM1605 325h2v1h-2z"/>
<path fill="#ff0000" d="M1608 324h1v4h-1zM1607 325h1v1h-1zM1609 326h2v1h-2z"/>
<path fill="#000" d="M1612 318h1v10h-1zM1611 325h1v1h-1zM1613 324h2v1h-2z"/>
<path fill="#ff0000" d="M1616 318h1v10h-1zM1615 322h1v1h-1zM1617 327h2v1h-2zM1620 329h1v8h-1zM1619 329h1v1h-1zM1621 332h2v1h-2zM1624 333h1v9h-1zM1623 333h1v1h-1zM1625 338h2v1h-2z"/>
<path fill="#000" d="M1628 335h1v7h-1zM1627 339h1v1h-1zM1629 337h2v1h-2z"/>
<path fill="#ff0000" d="M1632 337h1v7h-1zM1631 337h1v1h-1zM1633 342h2v1h-2z"/>
<path fill="#000" d="M1636 337h1v10h-1zM1635 344h1v1h-1zM1637 338h2v1h-2zM1640 329h1v14h-1zM1639 335h1v1h-1zM1641 331h2v1h-2zM1644 327h1v7h-1zM1643 331h1v1h-1zM1645 330h2v1h-2zM1648 319h1v11h-1zM1647 329h1v1h-1zM1649 319h2v1h-2z"/>
<path fill="#ff0000" d="M1652 319h1v13h-1zM1651 319h1v1h-1zM1653 327h2v1h-2zM1656 325h1v12h-1zM1655 327h1v1h-1zM1657 328h2v1h-2z"/>
<path fill="#000" d="M1660 321h1v9h-1zM1659 329h1v1h-1zM1661 322h2v1h-2z"/>
<path fill="#ff0000" d="M1664 321h1v13h-1zM1663 325h1v1h-1zM1665 333h2v1h-2zM1668 332h1v12h-1zM1667 333h1v1h-1zM1669 343h2v1h-2z"/>
<path fill="#000" d="M1672 332h1v16h-1zM1671 344h1v1h-1zM1673 336h2v1h-2zM1676 333h1v9h-1zM1675 335h1v1h-1zM1677 334h2v1h-2z"/>
<path fill="#ff0000" d="M1680 328h1v6h-1zM1679 331h1v1h-1zM1681 333h2v1h-2z"/>
<path fill="#000" d="M1684 331h1v6h-1zM1683 336h1v1h-1zM1685 335h2v1h-2z"/>
<path fill="#ff0000" d="M1688 328h1v12h-1zM1687 338h1v1h-1zM1689 339h2v1h-2zM1692 341h1v15h-1zM1691 343h1v1h-1zM1693 354h2v1h-2zM1696 350h1v10h-1zM1695 354h1v1h-1zM1697 355h2v1h-2z"/>
<path fill="#000" d="M1700 346h1v10h-1zM1699 354h1v1h-1zM1701 347h2v1h-2zM1704 339h1v9h-1zM1703 345h1v1h-1zM1705 343h2v1h-2zM1708 336h1v12h-1zM1707 343h1v1h-1zM1709 338h2v1h-2z"/>
<path fill="#ff0000" d="M1712 335h1v7h-1zM1711 336h1v1h-1zM1713 336h2v1h-2z"/>
<path fill="#000" d="M1716 331h1v6h-1zM1715 336h1v1h-1zM1717 335h2v1h-2z"/>
<path fill="#ff0000" d="M1720 334h1v13h-1zM1719 337h1v1h-1zM1721 341h2v1h-2zM1724 341h1v6h-1zM1723 342h1v1h-1zM1725 344h2v1h-2zM1728 333h1v9h-1zM1727 338h1v1h-1zM1729 340h2v1h-2z"/>
<path fill="#000" d="M1732 332h1v12h-1zM1731 337h1v1h-1zM1733 334h2v1h-2z"/>
<path fill="#ff0000" d="M1736 332h1v5h-1zM1735 334h1v1h-1zM1737 335h2v1h-2zM1740 330h1v8h-1zM1739 333h1v1h-1zM1741 333h2v1h-2zM1744 328h1v12h-1zM1743 333h1v1h-1zM1745 338h2v1h-2z"/>
<path fill="#000" d="M1748 325h1v13h-1zM1747 337h1v1h-1zM1749 325h2v1h-2zM1752 321h1v5h-1zM1751 323h1v1h-1zM1753 322h2v1h-2zM1756 310h1v13h-1zM1755 322h1v1h-1zM1757 311h2v1h-2zM1760 306h1v8h-1zM1759 311h1v1h-1zM1761 307h2v1h-2z"/>
<path fill="#ff0000" d="M1764 303h1v7h-1zM1763 306h1v1h-1zM1765 307h2v1h-2z"/>
<path fill="#000" d="M1768 293h1v11h-1zM1767 303h1v1h-1zM1769 297h2v1h-2z"/>
<path fill="#ff0000" d="M1772 293h1v11h-1zM1771 295h1v1h-1zM1773 303h2v1h-2zM1776 294h1v15h-1zM1775 298h1v1h-1zM1777 306h2v1h-2zM1780 302h1v12h-1zM1779 304h1v1h-1zM1781 312h2v1h-2z"/>
<path fill="#000" d="M1784 297h1v16h-1zM1783 312h1v1h-1zM1785 298h2v1h-2z"/>
<path fill="#ff0000" d="M1788 295h1v8h-1zM1787 297h1v1h-1zM1789 298h2v1h-2z"/>
<path fill="#000" d="M1792 293h1v7h-1zM1791 296h1v1h-1zM1793 295h2v1h-2z"/>
<path fill="#ff0000" d="M1796 291h1v19h-1zM1795 295h1v1h-1zM1797 308h2v1h-2zM1800 305h1v13h-1zM1799 313h1v1h-1zM1801 315h2v1h-2z"/>
<path fill="#000" d="M1804 315h1v5h-1zM1803 319h1v1h-1zM1805 319h2v1h-2z"/>
<path fill="#ff0000" d="M1808 316h1v12h-1zM1807 319h1v1h-1zM1809 324h2v1h-2z"/>
<path fill="#000" d="M1812 314h1v7h-1zM1811 320h1v1h-1zM1813 318h2v1h-2z"/>
<path fill="#ff0000" d="M1816 313h1v19h-1zM1815 318h1v1h-1zM1817 323h2v1h-2z"/>
<path fill="#000" d="M1820 318h1v12h-1zM1819 326h1v1h-1zM1821 322h2v1h-2zM1824 311h1v12h-1zM1823 322h1v1h-1zM1825 313h2v1h-2zM1831 0h1v471h-1zM1831 475h1v150h-1zM1831 629h1v168h-1zM1831 801h1v112h-1zM1831 917h1v37h-1zM0 954h1832v1h-1832z"/>
</svg>
<div class="t" style="left:1833px;top:431px;">12.00</div>
<div class="t" style="left:1833px;top:383px;">14.00</div>
<div class="t" style="left:1833px;top:336px;">16.00</div>
<div class="t" style="left:1833px;top:288px;">18.00</div>
<div class="t" style="left:1833px;top:241px;">20.00</div>
<div class="t" style="left:1833px;top:193px;">22.00</div>
<div class="t" style="left:1833px;top:146px;">24.00</div>
<div class="t" style="left:1833px;top:98px;">26.00</div>
<div class="t" style="left:1833px;top:50px;">28.00</div>
<div class="t" style="left:1833px;top:3px;">30.00</div>
<div class="clip" style="top:475px;height:150px;">
<div class="t" style="left:1px;top:-3px;">80.00</div>
<div class="t" style="left:1px;top:42px;">60.00</div>
<div class="t" style="left:1px;top:88px;">40.00</div>
<div class="t" style="left:1px;top:133px;">20.00</div>
</div>
<div class="t" style="left:1833px;top:640px;">2.00</div>
<div class="t" style="left:1833px;top:725px;">-2.00</div>
<div class="t" style="left:1833px;top:768px;">-4.00</div>
<div class="t" style="left:1833px;top:802px;">100.00</div>
<div class="t" style="left:1833px;top:851px;">50.00</div>
<div class="t" style="left:1833px;top:899px;">0.00</div>
<div class="t" style="left:1833px;top:929px;">5.00M</div>
<div class="box" style="top:306px;background:#000;height:14px;"></div>
<div class="t w" style="left:1833px;top:307px;">17.22</div>
<div class="box" style="top:531px;background:#0000ff;height:14px;"></div>
<div class="t w" style="left:1833px;top:532px;">53.49</div>
<div class="box" style="top:678px;background:#ff0000;height:14px;"></div>
<div class="box" style="top:684px;background:#ff00ff;height:14px;"></div>
<div class="t w" style="left:1833px;top:685px;">-0.08</div>
<div class="box" style="top:680px;background:#0000ff;height:14px;"></div>
<div class="t w" style="left:1833px;top:681px;">0.06</div>
<div class="box" style="top:854px;background:#0000ff;height:14px;"></div>
<div class="t w" style="left:1833px;top:855px;">45.82</div>
<div class="box" style="top:869px;background:#ff0000;height:14px;"></div>
<div class="t w" style="left:1833px;top:870px;">30.11</div>
<div class="box" style="top:940px;background:#000;height:15px;"></div>
<div class="t w" style="left:1833px;top:941px;">751.55K</div>
<div class="ttl" style="top:475px;letter-spacing:-0.27px;">RSI(14)</div>
<div class="ttl" style="top:629px;letter-spacing:-0.15px;">MACD(7,27,7)</div>
<div class="ttl" style="top:801px;letter-spacing:0.04px;">Stochastic(14(1),3)</div>
<div class="ttl" style="top:917px;letter-spacing:-0.17px;">Volume</div>
<div class="t" style="left:0px;width:1886px;text-align:center;letter-spacing:0;top:454px;font-size:16px;line-height:18px;height:18px;color:#808080;">weekly options strategies @ fatpremiums.com</div>
<div class="t" style="left:37px;top:964px;">Apr</div>
<div class="t" style="left:89px;top:964px;">Jul</div>
<div class="t" style="left:141px;top:964px;">Oct</div>
<div class="t" style="left:197px;top:964px;">Jan</div>
<div class="t" style="left:197px;top:955px;">2007</div>
<div class="t" style="left:245px;top:964px;">Apr</div>
<div class="t" style="left:297px;top:964px;">Jul</div>
<div class="t" style="left:353px;top:964px;">Oct</div>
<div class="t" style="left:405px;top:964px;">Jan</div>
<div class="t" style="left:405px;top:955px;">2008</div>
<div class="t" style="left:457px;top:964px;">Apr</div>
<div class="t" style="left:509px;top:964px;">Jul</div>
<div class="t" style="left:561px;top:964px;">Oct</div>
<div class="t" style="left:613px;top:964px;">Jan</div>
<div class="t" style="left:613px;top:955px;">2009</div>
<div class="t" style="left:665px;top:964px;">Apr</div>
<div class="t" style="left:717px;top:964px;">Jul</div>
<div class="t" style="left:769px;top:964px;">Oct</div>
<div class="t" style="left:821px;top:964px;">Jan</div>
<div class="t" style="left:821px;top:955px;">2010</div>
<div class="t" style="left:873px;top:964px;">Apr</div>
<div class="t" style="left:925px;top:964px;">Jul</div>
<div class="t" style="left:977px;top:964px;">Oct</div>
<div class="t" style="left:1029px;top:964px;">Jan</div>
<div class="t" style="left:1029px;top:955px;">2011</div>
<div class="t" style="left:1081px;top:964px;">Apr</div>
<div class="t" style="left:1133px;top:964px;">Jul</div>
<div class="t" style="left:1185px;top:964px;">Oct</div>
<div class="t" style="left:1237px;top:964px;">Jan</div>
<div class="t" style="left:1237px;top:955px;">2012</div>
<div class="t" style="left:1289px;top:964px;">Apr</div>
<div class="t" style="left:1341px;top:964px;">Jul</div>
<div class="t" style="left:1397px;top:964px;">Oct</div>
<div class="t" style="left:1449px;top:964px;">Jan</div>
<div class="t" style="left:1449px;top:955px;">2013</div>
<div class="t" style="left:1501px;top:964px;">Apr</div>
<div class="t" style="left:1553px;top:964px;">Jul</div>
<div class="t" style="left:1605px;top:964px;">Oct</div>
<div class="t" style="left:1657px;top:964px;">Jan</div>
<div class="t" style="left:1657px;top:955px;">2014</div>
<div class="t" style="left:1709px;top:964px;">Apr</div>
<div class="t" style="left:1761px;top:964px;">Jul</div>
<div class="t" style="left:1813px;top:964px;">Oct</div>
<div style="position:absolute;left:0;top:4px;width:316px;height:16px;background:#808080;"></div>
<div style="position:absolute;left:0;top:5px;width:7px;height:14px;background:#99b4d1;"></div>
<div style="position:absolute;left:7px;top:5px;width:11px;height:14px;background:#c0c0c0;"></div>
<div style="position:absolute;left:18px;top:5px;width:51px;height:14px;background:#fff;"></div>
<div class="t" style="left:8px;top:6px;">O</div>
<div class="t" style="left:18px;width:49px;text-align:right;top:6px;">17.13</div>
<div style="position:absolute;left:70px;top:5px;width:10px;height:14px;background:#c0c0c0;"></div>
<div style="position:absolute;left:80px;top:5px;width:51px;height:14px;background:#fff;"></div>
<div class="t" style="left:71px;top:6px;">H</div>
<div class="t" style="left:80px;width:49px;text-align:right;top:6px;">17.31</div>
<div style="position:absolute;left:132px;top:5px;width:9px;height:14px;background:#c0c0c0;"></div>
<div style="position:absolute;left:141px;top:5px;width:51px;height:14px;background:#fff;"></div>
<div class="t" style="left:133px;top:6px;">L</div>
<div class="t" style="left:141px;width:49px;text-align:right;top:6px;">17.13</div>
<div style="position:absolute;left:193px;top:5px;width:9px;height:14px;background:#c0c0c0;"></div>
<div style="position:absolute;left:202px;top:5px;width:51px;height:14px;background:#fff;"></div>
<div class="t" style="left:194px;top:6px;">T</div>
<div class="t" style="left:202px;width:49px;text-align:right;top:6px;">17.22</div>
<div style="position:absolute;left:254px;top:5px;width:10px;height:14px;background:#c0c0c0;"></div>
<div style="position:absolute;left:264px;top:5px;width:51px;height:14px;background:#00ff00;"></div>
<div class="t" style="left:255px;top:6px;">N</div>
<div class="t" style="left:264px;width:49px;text-align:right;top:6px;">+0.16</div>
<div style="position:absolute;left:69px;top:5px;width:1px;height:14px;background:#202020;"></div>
<div style="position:absolute;left:131px;top:5px;width:1px;height:14px;background:#202020;"></div>
<div style="position:absolute;left:192px;top:5px;width:1px;height:14px;background:#202020;"></div>
<div style="position:absolute;left:253px;top:5px;width:1px;height:14px;background:#202020;"></div>
</body></html>
